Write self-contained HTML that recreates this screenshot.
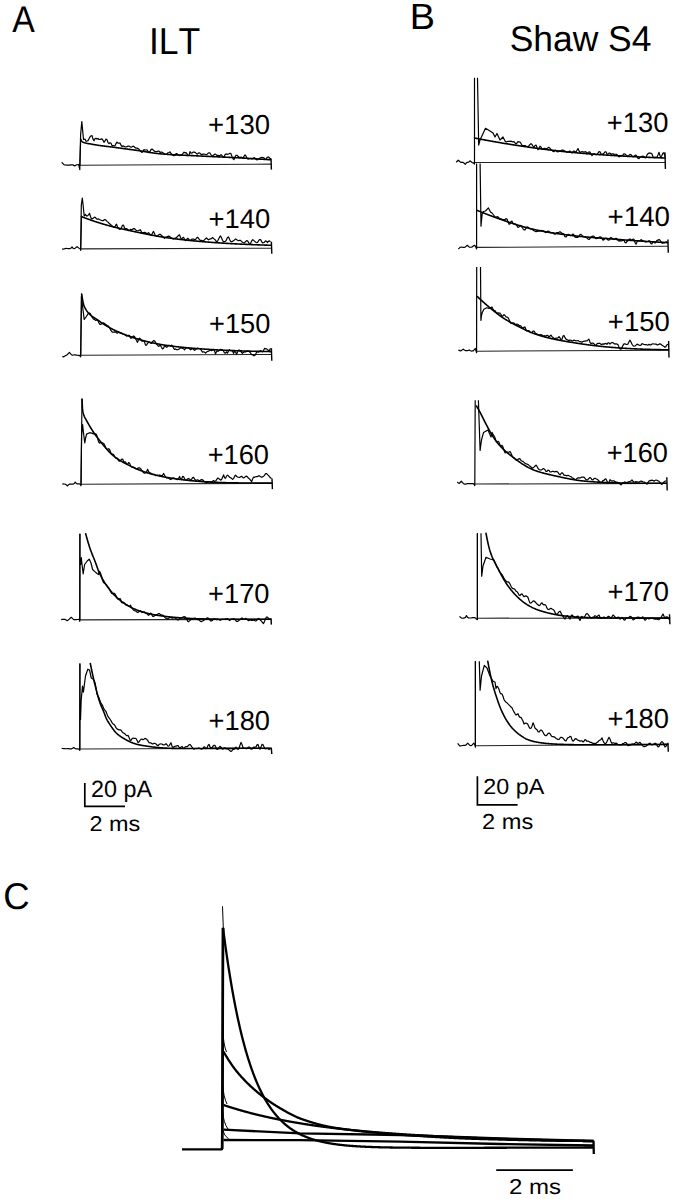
<!DOCTYPE html>
<html><head><meta charset="utf-8"><title>Figure</title>
<style>
html,body{margin:0;padding:0;background:#fff;}
body{width:677px;height:1199px;overflow:hidden;}
svg{display:block;}
.z{fill:none;stroke:#222;stroke-width:1.1;}
.f{fill:none;stroke:#000;stroke-width:1.6;stroke-linejoin:round;stroke-linecap:round;}
.n{fill:none;stroke:#000;stroke-width:1.2;stroke-linejoin:round;}
.t{fill:none;stroke:#000;stroke-width:1.15;}
.k{fill:none;stroke:#000;stroke-width:1.4;}
.cf{fill:none;stroke:#000;stroke-width:2.3;stroke-linejoin:round;}
.cv{fill:none;stroke:#000;stroke-width:2.6;}
.ct{fill:none;stroke:#000;stroke-width:1.0;}
.sb{fill:none;stroke:#000;stroke-width:1.7;}
.tx{font-family:"Liberation Sans",Arial,sans-serif;font-size:100px;fill:#000;font-kerning:none;text-rendering:geometricPrecision;}
</style></head>
<body><svg width="677" height="1199" viewBox="0 0 677 1199">
<path class="z" d="M79.80,165.20 L271.00,164.10"/>
<path class="t" d="M79.80,165.20 L80.70,139.30"/>
<path class="f" d="M80.70,139.30 L81.20,140.70 L81.70,141.34 L82.20,141.66 L82.70,141.94 L83.20,142.19 L83.70,142.42 L84.20,142.62 L84.70,142.79 L85.20,142.95 L85.70,143.09 L86.20,143.21 L86.70,143.32 L87.20,143.42 L87.70,143.51 L88.20,143.60 L88.70,143.68 L89.20,143.76 L89.70,143.83 L90.20,143.91 L90.70,144.00 L91.20,144.08 L91.70,144.18 L92.20,144.28 L92.70,144.38 L93.20,144.47 L93.70,144.57 L94.20,144.66 L94.70,144.74 L95.20,144.83 L95.70,144.91 L96.20,144.99 L96.70,145.07 L97.20,145.15 L97.70,145.23 L98.20,145.30 L98.70,145.37 L99.20,145.44 L99.70,145.51 L100.20,145.58 L100.70,145.65 L101.20,145.72 L101.70,145.78 L102.20,145.85 L102.70,145.91 L103.20,145.97 L103.70,146.03 L104.20,146.10 L104.70,146.16 L105.20,146.22 L105.70,146.28 L106.20,146.34 L106.70,146.40 L107.20,146.46 L107.70,146.52 L108.20,146.58 L108.70,146.64 L109.20,146.70 L109.70,146.76 L110.20,146.82 L110.70,146.88 L111.20,146.94 L111.70,147.00 L112.20,147.07 L112.70,147.13 L113.20,147.19 L113.70,147.26 L114.20,147.32 L114.70,147.39 L115.20,147.46 L115.70,147.53 L116.20,147.60 L116.70,147.66 L117.20,147.73 L117.70,147.80 L118.20,147.87 L118.70,147.94 L119.20,148.00 L119.70,148.07 L120.20,148.14 L120.70,148.21 L121.20,148.27 L121.70,148.34 L122.20,148.41 L122.70,148.47 L123.20,148.54 L123.70,148.61 L124.20,148.67 L124.70,148.74 L125.20,148.81 L125.70,148.87 L126.20,148.94 L126.70,149.00 L127.20,149.07 L127.70,149.14 L128.20,149.21 L128.70,149.27 L129.20,149.34 L129.70,149.41 L130.20,149.47 L130.70,149.54 L131.20,149.61 L131.70,149.68 L132.20,149.74 L132.70,149.81 L133.20,149.88 L133.70,149.95 L134.20,150.02 L134.70,150.09 L135.20,150.15 L135.70,150.22 L136.20,150.29 L136.70,150.36 L137.20,150.43 L137.70,150.50 L138.20,150.57 L138.70,150.64 L139.20,150.71 L139.70,150.79 L140.20,150.86 L140.70,150.94 L141.20,151.01 L141.70,151.09 L142.20,151.17 L142.70,151.26 L143.20,151.34 L143.70,151.42 L144.20,151.51 L144.70,151.59 L145.20,151.68 L145.70,151.76 L146.20,151.85 L146.70,151.93 L147.20,152.02 L147.70,152.10 L148.20,152.19 L148.70,152.27 L149.20,152.35 L149.70,152.44 L150.20,152.52 L150.70,152.60 L151.20,152.68 L151.70,152.76 L152.20,152.83 L152.70,152.91 L153.20,152.98 L153.70,153.06 L154.20,153.13 L154.70,153.20 L155.20,153.26 L155.70,153.33 L156.20,153.39 L156.70,153.45 L157.20,153.51 L157.70,153.57 L158.20,153.62 L158.70,153.68 L159.20,153.73 L159.70,153.77 L160.20,153.82 L160.70,153.86 L161.20,153.90 L161.70,153.95 L162.20,153.99 L162.70,154.03 L163.20,154.07 L163.70,154.10 L164.20,154.14 L164.70,154.18 L165.20,154.22 L165.70,154.25 L166.20,154.29 L166.70,154.32 L167.20,154.36 L167.70,154.39 L168.20,154.42 L168.70,154.45 L169.20,154.48 L169.70,154.52 L170.20,154.55 L170.70,154.58 L171.20,154.61 L171.70,154.64 L172.20,154.66 L172.70,154.69 L173.20,154.72 L173.70,154.75 L174.20,154.78 L174.70,154.80 L175.20,154.83 L175.70,154.85 L176.20,154.88 L176.70,154.91 L177.20,154.93 L177.70,154.96 L178.20,154.98 L178.70,155.01 L179.20,155.03 L179.70,155.05 L180.20,155.08 L180.70,155.10 L181.20,155.12 L181.70,155.15 L182.20,155.17 L182.70,155.19 L183.20,155.22 L183.70,155.24 L184.20,155.26 L184.70,155.29 L185.20,155.31 L185.70,155.33 L186.20,155.35 L186.70,155.38 L187.20,155.40 L187.70,155.42 L188.20,155.44 L188.70,155.47 L189.20,155.49 L189.70,155.51 L190.20,155.53 L190.70,155.56 L191.20,155.58 L191.70,155.60 L192.20,155.62 L192.70,155.65 L193.20,155.67 L193.70,155.69 L194.20,155.72 L194.70,155.74 L195.20,155.76 L195.70,155.79 L196.20,155.81 L196.70,155.84 L197.20,155.86 L197.70,155.88 L198.20,155.91 L198.70,155.93 L199.20,155.96 L199.70,155.98 L200.20,156.01 L200.70,156.04 L201.20,156.06 L201.70,156.09 L202.20,156.11 L202.70,156.14 L203.20,156.16 L203.70,156.18 L204.20,156.21 L204.70,156.23 L205.20,156.26 L205.70,156.28 L206.20,156.30 L206.70,156.33 L207.20,156.35 L207.70,156.37 L208.20,156.40 L208.70,156.42 L209.20,156.44 L209.70,156.47 L210.20,156.49 L210.70,156.51 L211.20,156.54 L211.70,156.56 L212.20,156.58 L212.70,156.60 L213.20,156.63 L213.70,156.65 L214.20,156.67 L214.70,156.69 L215.20,156.72 L215.70,156.74 L216.20,156.76 L216.70,156.78 L217.20,156.80 L217.70,156.83 L218.20,156.85 L218.70,156.87 L219.20,156.89 L219.70,156.92 L220.20,156.94 L220.70,156.96 L221.20,156.98 L221.70,157.01 L222.20,157.03 L222.70,157.05 L223.20,157.08 L223.70,157.10 L224.20,157.12 L224.70,157.14 L225.20,157.17 L225.70,157.19 L226.20,157.21 L226.70,157.24 L227.20,157.26 L227.70,157.28 L228.20,157.31 L228.70,157.33 L229.20,157.35 L229.70,157.38 L230.20,157.40 L230.70,157.43 L231.20,157.45 L231.70,157.48 L232.20,157.50 L232.70,157.52 L233.20,157.55 L233.70,157.57 L234.20,157.60 L234.70,157.62 L235.20,157.65 L235.70,157.68 L236.20,157.70 L236.70,157.73 L237.20,157.75 L237.70,157.78 L238.20,157.80 L238.70,157.83 L239.20,157.86 L239.70,157.88 L240.20,157.91 L240.70,157.94 L241.20,157.97 L241.70,157.99 L242.20,158.02 L242.70,158.05 L243.20,158.08 L243.70,158.11 L244.20,158.14 L244.70,158.16 L245.20,158.19 L245.70,158.22 L246.20,158.25 L246.70,158.28 L247.20,158.31 L247.70,158.34 L248.20,158.37 L248.70,158.41 L249.20,158.44 L249.70,158.47 L250.20,158.50 L250.70,158.53 L251.20,158.56 L251.70,158.59 L252.20,158.62 L252.70,158.65 L253.20,158.69 L253.70,158.72 L254.20,158.75 L254.70,158.78 L255.20,158.81 L255.70,158.85 L256.20,158.88 L256.70,158.91 L257.20,158.94 L257.70,158.97 L258.20,159.00 L258.70,159.04 L259.20,159.07 L259.70,159.10 L260.20,159.13 L260.70,159.16 L261.20,159.20 L261.70,159.23 L262.20,159.26 L262.70,159.29 L263.20,159.32 L263.70,159.35 L264.20,159.38 L264.70,159.42 L265.20,159.45 L265.70,159.48 L266.20,159.51 L266.70,159.54 L267.20,159.57 L267.70,159.60 L268.20,159.63 L268.70,159.66 L269.20,159.69 L269.70,159.72 L270.20,159.75 L270.70,159.78"/>
<path class="n" d="M61.70,162.28 L62.70,163.33 L63.70,164.42 L64.70,164.93 L65.70,164.98 L66.70,165.05 L67.70,165.15 L68.70,165.16 L69.70,165.05 L70.70,164.87 L71.70,164.75 L72.70,164.78 L73.70,165.36 L74.70,165.87 L75.70,165.27 L76.70,164.73 L77.70,164.67 L78.70,164.53 L79.80,169.70 L80.60,135.00 L81.80,121.50 L82.80,132.00 L83.50,139.50 L85.00,139.00 L86.00,141.29 L87.00,141.05 L88.00,140.65 L89.00,138.70 L90.00,136.86 L91.00,135.86 L92.00,135.57 L93.00,139.08 L94.00,140.80 L95.00,138.68 L96.00,138.30 L97.00,139.08 L98.00,138.41 L99.00,139.52 L100.00,139.39 L101.00,139.16 L102.00,138.92 L103.00,140.30 L104.00,142.32 L105.00,140.94 L106.00,139.08 L107.00,139.75 L108.00,142.57 L109.00,143.64 L110.00,142.67 L111.00,143.26 L112.00,145.56 L113.00,145.52 L114.00,145.73 L115.00,145.65 L116.00,143.60 L117.00,142.11 L118.00,143.10 L119.00,143.08 L120.00,142.98 L121.00,145.20 L122.00,146.52 L123.00,145.87 L124.00,146.26 L125.00,147.00 L126.00,146.96 L127.00,146.68 L128.00,146.15 L129.00,146.09 L130.00,146.68 L131.00,147.25 L132.00,146.89 L133.00,146.13 L134.00,146.54 L135.00,147.68 L136.00,148.09 L137.00,148.17 L138.00,148.58 L139.00,149.31 L140.00,150.57 L141.00,151.51 L142.00,152.48 L143.00,151.07 L144.00,149.57 L145.00,150.07 L146.00,150.00 L147.00,149.97 L148.00,151.25 L149.00,152.51 L150.00,151.46 L151.00,149.63 L152.00,148.99 L153.00,149.83 L154.00,150.85 L155.00,151.35 L156.00,151.71 L157.00,151.68 L158.00,151.10 L159.00,151.00 L160.00,152.44 L161.00,152.13 L162.00,152.14 L163.00,152.86 L164.00,153.61 L165.00,154.16 L166.00,154.30 L167.00,153.98 L168.00,152.71 L169.00,152.47 L170.00,151.88 L171.00,153.47 L172.00,154.59 L173.00,155.34 L174.00,155.76 L175.00,155.32 L176.00,153.64 L177.00,153.70 L178.00,154.61 L179.00,155.17 L180.00,155.57 L181.00,155.02 L182.00,154.96 L183.00,153.30 L184.00,152.19 L185.00,152.84 L186.00,152.56 L187.00,153.81 L188.00,155.79 L189.00,155.31 L190.00,151.56 L191.00,153.15 L192.00,153.09 L193.00,152.14 L194.00,152.07 L195.00,152.32 L196.00,153.12 L197.00,154.11 L198.00,153.52 L199.00,152.74 L200.00,153.29 L201.00,154.46 L202.00,154.39 L203.00,154.21 L204.00,154.16 L205.00,154.27 L206.00,154.80 L207.00,154.44 L208.00,153.28 L209.00,152.74 L210.00,153.11 L211.00,154.76 L212.00,156.12 L213.00,155.54 L214.00,154.80 L215.00,153.99 L216.00,154.60 L217.00,155.45 L218.00,155.32 L219.00,155.64 L220.00,155.65 L221.00,154.59 L222.00,155.49 L223.00,157.00 L224.00,156.68 L225.00,154.81 L226.00,153.92 L227.00,154.31 L228.00,154.18 L229.00,153.70 L230.00,153.17 L231.00,153.76 L232.00,156.47 L233.00,158.77 L234.00,159.57 L235.00,157.20 L236.00,155.30 L237.00,155.27 L238.00,156.21 L239.00,157.01 L240.00,157.56 L241.00,157.13 L242.00,157.53 L243.00,157.96 L244.00,156.30 L245.00,154.95 L246.00,156.00 L247.00,158.46 L248.00,159.10 L249.00,158.77 L250.00,158.47 L251.00,158.56 L252.00,158.85 L253.00,158.34 L254.00,157.67 L255.00,157.99 L256.00,159.31 L257.00,159.95 L258.00,159.11 L259.00,158.78 L260.00,158.00 L261.00,157.55 L262.00,157.41 L263.00,157.60 L264.00,157.92 L265.00,159.39 L266.00,159.14 L267.00,157.58 L268.00,156.93 L269.00,157.33 L270.00,158.50 L271.00,158.53"/>
<path class="k" d="M271.00,158.53 L271.40,169.60"/>
<path class="z" d="M80.70,248.84 L271.40,248.20"/>
<path class="t" d="M80.70,248.84 L81.50,216.60"/>
<path class="f" d="M81.50,216.60 L82.00,216.80 L82.50,216.99 L83.00,217.19 L83.50,217.38 L84.00,217.58 L84.50,217.77 L85.00,217.96 L85.50,218.15 L86.00,218.34 L86.50,218.52 L87.00,218.71 L87.50,218.89 L88.00,219.07 L88.50,219.25 L89.00,219.43 L89.50,219.61 L90.00,219.79 L90.50,219.97 L91.00,220.14 L91.50,220.32 L92.00,220.49 L92.50,220.66 L93.00,220.83 L93.50,221.00 L94.00,221.17 L94.50,221.34 L95.00,221.50 L95.50,221.67 L96.00,221.83 L96.50,221.99 L97.00,222.15 L97.50,222.31 L98.00,222.47 L98.50,222.63 L99.00,222.79 L99.50,222.95 L100.00,223.10 L100.50,223.25 L101.00,223.41 L101.50,223.56 L102.00,223.71 L102.50,223.86 L103.00,224.01 L103.50,224.16 L104.00,224.30 L104.50,224.45 L105.00,224.60 L105.50,224.74 L106.00,224.88 L106.50,225.02 L107.00,225.17 L107.50,225.31 L108.00,225.44 L108.50,225.58 L109.00,225.72 L109.50,225.86 L110.00,225.99 L110.50,226.12 L111.00,226.25 L111.50,226.38 L112.00,226.51 L112.50,226.64 L113.00,226.77 L113.50,226.90 L114.00,227.02 L114.50,227.15 L115.00,227.27 L115.50,227.39 L116.00,227.51 L116.50,227.63 L117.00,227.75 L117.50,227.87 L118.00,227.99 L118.50,228.11 L119.00,228.23 L119.50,228.34 L120.00,228.46 L120.50,228.57 L121.00,228.69 L121.50,228.80 L122.00,228.92 L122.50,229.03 L123.00,229.14 L123.50,229.25 L124.00,229.37 L124.50,229.48 L125.00,229.59 L125.50,229.70 L126.00,229.81 L126.50,229.92 L127.00,230.03 L127.50,230.13 L128.00,230.24 L128.50,230.35 L129.00,230.46 L129.50,230.57 L130.00,230.68 L130.50,230.78 L131.00,230.89 L131.50,231.00 L132.00,231.10 L132.50,231.21 L133.00,231.32 L133.50,231.42 L134.00,231.53 L134.50,231.64 L135.00,231.74 L135.50,231.85 L136.00,231.95 L136.50,232.06 L137.00,232.17 L137.50,232.27 L138.00,232.38 L138.50,232.48 L139.00,232.59 L139.50,232.69 L140.00,232.80 L140.50,232.90 L141.00,233.01 L141.50,233.11 L142.00,233.21 L142.50,233.32 L143.00,233.42 L143.50,233.52 L144.00,233.62 L144.50,233.72 L145.00,233.83 L145.50,233.93 L146.00,234.03 L146.50,234.13 L147.00,234.23 L147.50,234.33 L148.00,234.42 L148.50,234.52 L149.00,234.62 L149.50,234.72 L150.00,234.81 L150.50,234.91 L151.00,235.00 L151.50,235.10 L152.00,235.19 L152.50,235.28 L153.00,235.38 L153.50,235.47 L154.00,235.56 L154.50,235.65 L155.00,235.74 L155.50,235.83 L156.00,235.92 L156.50,236.01 L157.00,236.10 L157.50,236.18 L158.00,236.27 L158.50,236.36 L159.00,236.44 L159.50,236.53 L160.00,236.61 L160.50,236.69 L161.00,236.77 L161.50,236.86 L162.00,236.94 L162.50,237.02 L163.00,237.10 L163.50,237.18 L164.00,237.25 L164.50,237.33 L165.00,237.41 L165.50,237.48 L166.00,237.56 L166.50,237.63 L167.00,237.71 L167.50,237.78 L168.00,237.85 L168.50,237.92 L169.00,237.99 L169.50,238.06 L170.00,238.13 L170.50,238.20 L171.00,238.27 L171.50,238.33 L172.00,238.40 L172.50,238.47 L173.00,238.53 L173.50,238.60 L174.00,238.66 L174.50,238.72 L175.00,238.79 L175.50,238.85 L176.00,238.91 L176.50,238.97 L177.00,239.03 L177.50,239.10 L178.00,239.16 L178.50,239.22 L179.00,239.28 L179.50,239.33 L180.00,239.39 L180.50,239.45 L181.00,239.51 L181.50,239.57 L182.00,239.62 L182.50,239.68 L183.00,239.74 L183.50,239.79 L184.00,239.85 L184.50,239.90 L185.00,239.96 L185.50,240.01 L186.00,240.07 L186.50,240.12 L187.00,240.17 L187.50,240.23 L188.00,240.28 L188.50,240.33 L189.00,240.38 L189.50,240.43 L190.00,240.48 L190.50,240.53 L191.00,240.58 L191.50,240.63 L192.00,240.68 L192.50,240.73 L193.00,240.78 L193.50,240.83 L194.00,240.88 L194.50,240.93 L195.00,240.97 L195.50,241.02 L196.00,241.07 L196.50,241.11 L197.00,241.16 L197.50,241.20 L198.00,241.25 L198.50,241.30 L199.00,241.34 L199.50,241.38 L200.00,241.43 L200.50,241.47 L201.00,241.52 L201.50,241.56 L202.00,241.60 L202.50,241.64 L203.00,241.69 L203.50,241.73 L204.00,241.77 L204.50,241.81 L205.00,241.85 L205.50,241.89 L206.00,241.93 L206.50,241.97 L207.00,242.01 L207.50,242.05 L208.00,242.09 L208.50,242.13 L209.00,242.17 L209.50,242.21 L210.00,242.24 L210.50,242.28 L211.00,242.32 L211.50,242.36 L212.00,242.39 L212.50,242.43 L213.00,242.47 L213.50,242.50 L214.00,242.54 L214.50,242.58 L215.00,242.61 L215.50,242.65 L216.00,242.68 L216.50,242.72 L217.00,242.75 L217.50,242.78 L218.00,242.82 L218.50,242.85 L219.00,242.88 L219.50,242.92 L220.00,242.95 L220.50,242.98 L221.00,243.02 L221.50,243.05 L222.00,243.08 L222.50,243.11 L223.00,243.14 L223.50,243.17 L224.00,243.21 L224.50,243.24 L225.00,243.27 L225.50,243.30 L226.00,243.33 L226.50,243.36 L227.00,243.39 L227.50,243.42 L228.00,243.45 L228.50,243.47 L229.00,243.50 L229.50,243.53 L230.00,243.56 L230.50,243.59 L231.00,243.62 L231.50,243.64 L232.00,243.67 L232.50,243.70 L233.00,243.73 L233.50,243.75 L234.00,243.78 L234.50,243.81 L235.00,243.83 L235.50,243.86 L236.00,243.89 L236.50,243.91 L237.00,243.94 L237.50,243.96 L238.00,243.99 L238.50,244.01 L239.00,244.04 L239.50,244.06 L240.00,244.09 L240.50,244.11 L241.00,244.14 L241.50,244.16 L242.00,244.18 L242.50,244.21 L243.00,244.23 L243.50,244.25 L244.00,244.28 L244.50,244.30 L245.00,244.32 L245.50,244.34 L246.00,244.37 L246.50,244.39 L247.00,244.41 L247.50,244.43 L248.00,244.46 L248.50,244.48 L249.00,244.50 L249.50,244.52 L250.00,244.54 L250.50,244.56 L251.00,244.58 L251.50,244.60 L252.00,244.62 L252.50,244.64 L253.00,244.66 L253.50,244.68 L254.00,244.70 L254.50,244.72 L255.00,244.74 L255.50,244.76 L256.00,244.78 L256.50,244.80 L257.00,244.82 L257.50,244.84 L258.00,244.86 L258.50,244.88 L259.00,244.90 L259.50,244.91 L260.00,244.93 L260.50,244.95 L261.00,244.97 L261.50,244.99 L262.00,245.00 L262.50,245.02 L263.00,245.04 L263.50,245.06 L264.00,245.07 L264.50,245.09 L265.00,245.11 L265.50,245.12 L266.00,245.14 L266.50,245.16 L267.00,245.17 L267.50,245.19 L268.00,245.21 L268.50,245.22 L269.00,245.24 L269.50,245.25 L270.00,245.27 L270.50,245.28 L271.00,245.30"/>
<path class="n" d="M62.10,248.88 L63.10,249.06 L64.10,248.98 L65.10,248.63 L66.10,248.44 L67.10,248.49 L68.10,248.64 L69.10,248.67 L70.10,248.54 L71.10,247.97 L72.10,246.99 L73.10,248.29 L74.10,248.71 L75.10,248.20 L76.10,247.34 L77.10,246.67 L78.10,247.54 L79.10,248.21 L80.10,248.48 L80.70,250.34 L81.30,205.00 L82.30,198.00 L83.20,206.00 L84.20,216.00 L85.50,214.50 L86.50,215.95 L87.50,215.92 L88.50,214.94 L89.50,213.24 L90.50,216.46 L91.50,219.03 L92.50,218.68 L93.50,217.92 L94.50,217.09 L95.50,217.52 L96.50,218.87 L97.50,219.13 L98.50,218.95 L99.50,219.57 L100.50,220.06 L101.50,220.48 L102.50,220.60 L103.50,220.53 L104.50,219.55 L105.50,219.72 L106.50,220.80 L107.50,221.86 L108.50,222.59 L109.50,223.74 L110.50,224.37 L111.50,225.37 L112.50,226.23 L113.50,227.19 L114.50,227.42 L115.50,225.69 L116.50,224.15 L117.50,226.79 L118.50,228.48 L119.50,229.33 L120.50,229.22 L121.50,227.63 L122.50,225.26 L123.50,225.16 L124.50,228.01 L125.50,229.03 L126.50,228.58 L127.50,229.17 L128.50,230.34 L129.50,230.37 L130.50,229.34 L131.50,229.70 L132.50,229.53 L133.50,228.49 L134.50,228.59 L135.50,229.78 L136.50,230.60 L137.50,230.74 L138.50,230.54 L139.50,230.12 L140.50,229.79 L141.50,232.24 L142.50,233.16 L143.50,232.66 L144.50,232.24 L145.50,232.47 L146.50,233.50 L147.50,233.43 L148.50,232.61 L149.50,233.64 L150.50,235.04 L151.50,235.18 L152.50,233.01 L153.50,231.40 L154.50,233.59 L155.50,235.87 L156.50,236.08 L157.50,235.73 L158.50,235.07 L159.50,234.34 L160.50,234.45 L161.50,235.53 L162.50,236.25 L163.50,237.53 L164.50,238.28 L165.50,237.23 L166.50,237.00 L167.50,236.45 L168.50,236.13 L169.50,236.41 L170.50,237.17 L171.50,237.97 L172.50,238.68 L173.50,239.02 L174.50,238.44 L175.50,238.19 L176.50,237.46 L177.50,236.50 L178.50,235.43 L179.50,234.77 L180.50,237.53 L181.50,239.07 L182.50,237.99 L183.50,237.28 L184.50,239.12 L185.50,240.64 L186.50,239.61 L187.50,238.27 L188.50,238.86 L189.50,240.08 L190.50,240.42 L191.50,239.41 L192.50,239.11 L193.50,239.00 L194.50,239.56 L195.50,239.68 L196.50,237.94 L197.50,237.27 L198.50,238.27 L199.50,239.60 L200.50,240.48 L201.50,240.30 L202.50,240.76 L203.50,240.53 L204.50,239.94 L205.50,238.69 L206.50,237.96 L207.50,238.97 L208.50,239.81 L209.50,239.17 L210.50,238.89 L211.50,238.66 L212.50,237.51 L213.50,238.40 L214.50,239.33 L215.50,240.15 L216.50,241.75 L217.50,241.32 L218.50,239.27 L219.50,237.16 L220.50,236.01 L221.50,237.66 L222.50,240.32 L223.50,241.55 L224.50,241.60 L225.50,241.27 L226.50,239.81 L227.50,237.49 L228.50,236.89 L229.50,239.30 L230.50,241.25 L231.50,241.58 L232.50,241.43 L233.50,240.64 L234.50,239.92 L235.50,239.00 L236.50,239.61 L237.50,240.20 L238.50,240.65 L239.50,240.46 L240.50,240.39 L241.50,241.33 L242.50,242.25 L243.50,242.75 L244.50,242.79 L245.50,241.58 L246.50,240.72 L247.50,240.78 L248.50,242.36 L249.50,244.25 L250.50,243.62 L251.50,241.32 L252.50,239.73 L253.50,240.12 L254.50,241.15 L255.50,241.99 L256.50,242.76 L257.50,242.53 L258.50,240.90 L259.50,239.50 L260.50,239.58 L261.50,241.40 L262.50,242.88 L263.50,242.77 L264.50,242.18 L265.50,240.90 L266.50,241.21 L267.50,242.63 L268.50,241.21 L269.50,240.93 L270.50,241.69"/>
<path class="k" d="M271.40,241.69 L271.80,253.80"/>
<path class="z" d="M80.70,355.32 L271.40,354.50"/>
<path class="t" d="M80.70,355.32 L81.60,294.00"/>
<path class="f" d="M81.60,294.00 L82.10,296.93 L82.60,299.77 L83.10,302.35 L83.60,304.51 L84.10,306.13 L84.60,307.21 L85.10,308.16 L85.60,309.04 L86.10,309.86 L86.60,310.62 L87.10,311.32 L87.60,311.98 L88.10,312.59 L88.60,313.16 L89.10,313.69 L89.60,314.19 L90.10,314.65 L90.60,315.10 L91.10,315.51 L91.60,315.91 L92.10,316.28 L92.60,316.65 L93.10,316.99 L93.60,317.33 L94.10,317.66 L94.60,317.98 L95.10,318.30 L95.60,318.62 L96.10,318.94 L96.60,319.26 L97.10,319.58 L97.60,319.91 L98.10,320.25 L98.60,320.59 L99.10,320.95 L99.60,321.32 L100.10,321.68 L100.60,322.04 L101.10,322.39 L101.60,322.74 L102.10,323.08 L102.60,323.42 L103.10,323.75 L103.60,324.08 L104.10,324.40 L104.60,324.72 L105.10,325.03 L105.60,325.34 L106.10,325.64 L106.60,325.94 L107.10,326.23 L107.60,326.52 L108.10,326.81 L108.60,327.09 L109.10,327.37 L109.60,327.65 L110.10,327.92 L110.60,328.19 L111.10,328.45 L111.60,328.71 L112.10,328.97 L112.60,329.22 L113.10,329.48 L113.60,329.72 L114.10,329.97 L114.60,330.21 L115.10,330.45 L115.60,330.69 L116.10,330.92 L116.60,331.15 L117.10,331.38 L117.60,331.60 L118.10,331.82 L118.60,332.04 L119.10,332.26 L119.60,332.48 L120.10,332.69 L120.60,332.90 L121.10,333.11 L121.60,333.31 L122.10,333.52 L122.60,333.72 L123.10,333.92 L123.60,334.12 L124.10,334.31 L124.60,334.51 L125.10,334.70 L125.60,334.89 L126.10,335.07 L126.60,335.26 L127.10,335.45 L127.60,335.63 L128.10,335.81 L128.60,335.99 L129.10,336.17 L129.60,336.35 L130.10,336.52 L130.60,336.70 L131.10,336.87 L131.60,337.04 L132.10,337.21 L132.60,337.38 L133.10,337.55 L133.60,337.71 L134.10,337.87 L134.60,338.04 L135.10,338.20 L135.60,338.36 L136.10,338.51 L136.60,338.67 L137.10,338.82 L137.60,338.98 L138.10,339.13 L138.60,339.28 L139.10,339.43 L139.60,339.57 L140.10,339.72 L140.60,339.86 L141.10,340.00 L141.60,340.14 L142.10,340.28 L142.60,340.42 L143.10,340.56 L143.60,340.69 L144.10,340.82 L144.60,340.96 L145.10,341.09 L145.60,341.21 L146.10,341.34 L146.60,341.47 L147.10,341.59 L147.60,341.72 L148.10,341.84 L148.60,341.96 L149.10,342.08 L149.60,342.19 L150.10,342.31 L150.60,342.42 L151.10,342.54 L151.60,342.65 L152.10,342.76 L152.60,342.87 L153.10,342.97 L153.60,343.08 L154.10,343.19 L154.60,343.29 L155.10,343.39 L155.60,343.49 L156.10,343.59 L156.60,343.69 L157.10,343.79 L157.60,343.88 L158.10,343.98 L158.60,344.07 L159.10,344.16 L159.60,344.26 L160.10,344.35 L160.60,344.43 L161.10,344.52 L161.60,344.61 L162.10,344.69 L162.60,344.78 L163.10,344.86 L163.60,344.94 L164.10,345.02 L164.60,345.10 L165.10,345.18 L165.60,345.25 L166.10,345.33 L166.60,345.40 L167.10,345.48 L167.60,345.55 L168.10,345.62 L168.60,345.69 L169.10,345.76 L169.60,345.83 L170.10,345.90 L170.60,345.96 L171.10,346.03 L171.60,346.09 L172.10,346.15 L172.60,346.22 L173.10,346.28 L173.60,346.34 L174.10,346.40 L174.60,346.45 L175.10,346.51 L175.60,346.57 L176.10,346.62 L176.60,346.68 L177.10,346.73 L177.60,346.79 L178.10,346.84 L178.60,346.90 L179.10,346.95 L179.60,347.00 L180.10,347.05 L180.60,347.11 L181.10,347.16 L181.60,347.21 L182.10,347.26 L182.60,347.31 L183.10,347.36 L183.60,347.41 L184.10,347.46 L184.60,347.51 L185.10,347.55 L185.60,347.60 L186.10,347.65 L186.60,347.70 L187.10,347.74 L187.60,347.79 L188.10,347.83 L188.60,347.88 L189.10,347.92 L189.60,347.97 L190.10,348.01 L190.60,348.06 L191.10,348.10 L191.60,348.14 L192.10,348.18 L192.60,348.23 L193.10,348.27 L193.60,348.31 L194.10,348.35 L194.60,348.39 L195.10,348.43 L195.60,348.47 L196.10,348.51 L196.60,348.55 L197.10,348.59 L197.60,348.63 L198.10,348.67 L198.60,348.70 L199.10,348.74 L199.60,348.78 L200.10,348.82 L200.60,348.85 L201.10,348.89 L201.60,348.92 L202.10,348.96 L202.60,348.99 L203.10,349.03 L203.60,349.06 L204.10,349.10 L204.60,349.13 L205.10,349.17 L205.60,349.20 L206.10,349.23 L206.60,349.26 L207.10,349.30 L207.60,349.33 L208.10,349.36 L208.60,349.39 L209.10,349.42 L209.60,349.45 L210.10,349.49 L210.60,349.52 L211.10,349.55 L211.60,349.58 L212.10,349.60 L212.60,349.63 L213.10,349.66 L213.60,349.69 L214.10,349.72 L214.60,349.75 L215.10,349.78 L215.60,349.80 L216.10,349.83 L216.60,349.86 L217.10,349.89 L217.60,349.91 L218.10,349.94 L218.60,349.96 L219.10,349.99 L219.60,350.02 L220.10,350.04 L220.60,350.07 L221.10,350.09 L221.60,350.12 L222.10,350.14 L222.60,350.16 L223.10,350.19 L223.60,350.21 L224.10,350.23 L224.60,350.26 L225.10,350.28 L225.60,350.30 L226.10,350.33 L226.60,350.35 L227.10,350.37 L227.60,350.39 L228.10,350.41 L228.60,350.43 L229.10,350.46 L229.60,350.48 L230.10,350.50 L230.60,350.52 L231.10,350.54 L231.60,350.56 L232.10,350.58 L232.60,350.60 L233.10,350.62 L233.60,350.64 L234.10,350.66 L234.60,350.67 L235.10,350.69 L235.60,350.71 L236.10,350.73 L236.60,350.75 L237.10,350.77 L237.60,350.78 L238.10,350.80 L238.60,350.82 L239.10,350.84 L239.60,350.85 L240.10,350.87 L240.60,350.89 L241.10,350.90 L241.60,350.92 L242.10,350.94 L242.60,350.95 L243.10,350.97 L243.60,350.98 L244.10,351.00 L244.60,351.01 L245.10,351.03 L245.60,351.04 L246.10,351.06 L246.60,351.07 L247.10,351.09 L247.60,351.10 L248.10,351.11 L248.60,351.13 L249.10,351.14 L249.60,351.16 L250.10,351.17 L250.60,351.18 L251.10,351.20 L251.60,351.21 L252.10,351.22 L252.60,351.23 L253.10,351.25 L253.60,351.26 L254.10,351.27 L254.60,351.28 L255.10,351.29 L255.60,351.31 L256.10,351.32 L256.60,351.33 L257.10,351.34 L257.60,351.35 L258.10,351.36 L258.60,351.37 L259.10,351.38 L259.60,351.40 L260.10,351.41 L260.60,351.42 L261.10,351.43 L261.60,351.44 L262.10,351.45 L262.60,351.46 L263.10,351.47 L263.60,351.47 L264.10,351.48 L264.60,351.49 L265.10,351.50 L265.60,351.51 L266.10,351.52 L266.60,351.53 L267.10,351.54 L267.60,351.55 L268.10,351.55 L268.60,351.56 L269.10,351.57 L269.60,351.58 L270.10,351.59 L270.60,351.59 L271.10,351.60"/>
<path class="n" d="M62.40,356.17 L63.40,356.90 L64.40,356.29 L65.40,355.64 L66.40,355.23 L67.40,354.57 L68.40,353.42 L69.40,352.42 L70.40,353.57 L71.40,354.71 L72.40,355.12 L73.40,354.99 L74.40,354.87 L75.40,354.91 L76.40,355.05 L77.40,355.24 L78.40,355.31 L79.40,355.29 L80.70,356.82 L81.40,296.00 L82.50,306.00 L83.50,314.00 L84.20,319.40 L86.00,317.00 L88.20,313.70 L89.50,313.00 L90.50,313.87 L91.50,316.13 L92.50,317.66 L93.50,319.26 L94.50,319.42 L95.50,320.37 L96.50,319.94 L97.50,320.18 L98.50,321.99 L99.50,324.10 L100.50,324.33 L101.50,323.88 L102.50,323.21 L103.50,322.82 L104.50,323.42 L105.50,324.27 L106.50,324.96 L107.50,325.88 L108.50,326.01 L109.50,327.70 L110.50,329.82 L111.50,331.26 L112.50,332.26 L113.50,332.13 L114.50,331.95 L115.50,332.05 L116.50,332.88 L117.50,333.13 L118.50,332.05 L119.50,332.45 L120.50,333.30 L121.50,333.18 L122.50,333.82 L123.50,334.46 L124.50,334.38 L125.50,335.30 L126.50,336.13 L127.50,335.79 L128.50,335.22 L129.50,335.58 L130.50,338.14 L131.50,338.16 L132.50,337.33 L133.50,335.92 L134.50,336.50 L135.50,338.68 L136.50,340.56 L137.50,342.34 L138.50,339.74 L139.50,338.19 L140.50,339.01 L141.50,340.89 L142.50,341.27 L143.50,340.68 L144.50,341.84 L145.50,345.19 L146.50,345.25 L147.50,343.37 L148.50,342.47 L149.50,342.21 L150.50,343.19 L151.50,343.30 L152.50,341.92 L153.50,340.61 L154.50,340.87 L155.50,342.17 L156.50,344.04 L157.50,345.13 L158.50,346.30 L159.50,345.90 L160.50,345.49 L161.50,347.32 L162.50,348.92 L163.50,348.31 L164.50,345.89 L165.50,346.37 L166.50,347.34 L167.50,346.64 L168.50,345.32 L169.50,345.26 L170.50,346.01 L171.50,345.09 L172.50,345.88 L173.50,348.13 L174.50,349.34 L175.50,348.97 L176.50,349.64 L177.50,349.76 L178.50,349.36 L179.50,348.72 L180.50,347.94 L181.50,347.94 L182.50,348.52 L183.50,348.72 L184.50,349.93 L185.50,348.34 L186.50,347.82 L187.50,347.93 L188.50,347.99 L189.50,348.70 L190.50,349.79 L191.50,349.18 L192.50,348.43 L193.50,349.22 L194.50,350.31 L195.50,349.71 L196.50,348.88 L197.50,348.16 L198.50,348.43 L199.50,348.56 L200.50,349.03 L201.50,350.69 L202.50,352.12 L203.50,351.80 L204.50,352.12 L205.50,353.20 L206.50,352.11 L207.50,351.47 L208.50,351.23 L209.50,350.46 L210.50,349.93 L211.50,350.64 L212.50,350.03 L213.50,349.30 L214.50,350.81 L215.50,353.96 L216.50,351.47 L217.50,351.14 L218.50,351.07 L219.50,350.06 L220.50,349.46 L221.50,349.63 L222.50,349.92 L223.50,350.94 L224.50,353.00 L225.50,353.03 L226.50,352.01 L227.50,353.22 L228.50,350.84 L229.50,349.58 L230.50,350.59 L231.50,350.69 L232.50,350.84 L233.50,353.38 L234.50,351.54 L235.50,351.85 L236.50,354.22 L237.50,352.35 L238.50,350.04 L239.50,350.13 L240.50,351.07 L241.50,352.24 L242.50,353.37 L243.50,352.43 L244.50,351.69 L245.50,352.04 L246.50,351.39 L247.50,350.98 L248.50,351.21 L249.50,351.77 L250.50,352.87 L251.50,354.55 L252.50,354.75 L253.50,355.57 L254.50,355.63 L255.50,354.74 L256.50,352.16 L257.50,351.46 L258.50,352.14 L259.50,351.37 L260.50,350.64 L261.50,351.11 L262.50,351.85 L263.50,350.61 L264.50,348.39 L265.50,348.80 L266.50,348.73 L267.50,349.69 L268.50,350.44 L269.50,350.40 L270.50,348.17"/>
<path class="k" d="M271.40,348.17 L271.80,360.70"/>
<path class="z" d="M81.00,484.30 L272.00,483.30"/>
<path class="t" d="M81.00,484.30 L82.00,399.00"/>
<path class="f" d="M82.00,399.00 L82.50,409.50 L83.00,412.40 L83.50,414.27 L84.00,415.66 L84.50,416.80 L85.00,417.81 L85.50,418.69 L86.00,419.58 L86.50,420.50 L87.00,421.41 L87.50,422.30 L88.00,423.19 L88.50,424.07 L89.00,424.94 L89.50,425.79 L90.00,426.64 L90.50,427.47 L91.00,428.29 L91.50,429.10 L92.00,429.89 L92.50,430.68 L93.00,431.44 L93.50,432.20 L94.00,432.94 L94.50,433.67 L95.00,434.38 L95.50,435.08 L96.00,435.77 L96.50,436.45 L97.00,437.12 L97.50,437.79 L98.00,438.44 L98.50,439.09 L99.00,439.73 L99.50,440.36 L100.00,440.99 L100.50,441.61 L101.00,442.23 L101.50,442.84 L102.00,443.46 L102.50,444.07 L103.00,444.67 L103.50,445.28 L104.00,445.89 L104.50,446.49 L105.00,447.09 L105.50,447.69 L106.00,448.27 L106.50,448.85 L107.00,449.43 L107.50,449.99 L108.00,450.54 L108.50,451.09 L109.00,451.62 L109.50,452.14 L110.00,452.65 L110.50,453.15 L111.00,453.63 L111.50,454.10 L112.00,454.56 L112.50,455.00 L113.00,455.43 L113.50,455.85 L114.00,456.25 L114.50,456.65 L115.00,457.03 L115.50,457.41 L116.00,457.78 L116.50,458.14 L117.00,458.49 L117.50,458.83 L118.00,459.17 L118.50,459.50 L119.00,459.82 L119.50,460.14 L120.00,460.46 L120.50,460.76 L121.00,461.06 L121.50,461.36 L122.00,461.66 L122.50,461.94 L123.00,462.23 L123.50,462.51 L124.00,462.79 L124.50,463.06 L125.00,463.33 L125.50,463.60 L126.00,463.86 L126.50,464.13 L127.00,464.39 L127.50,464.64 L128.00,464.90 L128.50,465.15 L129.00,465.40 L129.50,465.65 L130.00,465.90 L130.50,466.15 L131.00,466.39 L131.50,466.63 L132.00,466.87 L132.50,467.10 L133.00,467.33 L133.50,467.56 L134.00,467.78 L134.50,468.01 L135.00,468.23 L135.50,468.44 L136.00,468.66 L136.50,468.87 L137.00,469.08 L137.50,469.28 L138.00,469.49 L138.50,469.69 L139.00,469.88 L139.50,470.08 L140.00,470.27 L140.50,470.46 L141.00,470.65 L141.50,470.84 L142.00,471.02 L142.50,471.20 L143.00,471.38 L143.50,471.55 L144.00,471.72 L144.50,471.89 L145.00,472.06 L145.50,472.23 L146.00,472.39 L146.50,472.55 L147.00,472.71 L147.50,472.87 L148.00,473.02 L148.50,473.17 L149.00,473.32 L149.50,473.47 L150.00,473.62 L150.50,473.76 L151.00,473.90 L151.50,474.04 L152.00,474.18 L152.50,474.31 L153.00,474.45 L153.50,474.58 L154.00,474.71 L154.50,474.83 L155.00,474.96 L155.50,475.08 L156.00,475.20 L156.50,475.32 L157.00,475.44 L157.50,475.55 L158.00,475.67 L158.50,475.78 L159.00,475.89 L159.50,476.00 L160.00,476.10 L160.50,476.21 L161.00,476.31 L161.50,476.42 L162.00,476.52 L162.50,476.62 L163.00,476.71 L163.50,476.81 L164.00,476.91 L164.50,477.00 L165.00,477.09 L165.50,477.18 L166.00,477.27 L166.50,477.36 L167.00,477.45 L167.50,477.54 L168.00,477.63 L168.50,477.71 L169.00,477.79 L169.50,477.88 L170.00,477.96 L170.50,478.04 L171.00,478.12 L171.50,478.20 L172.00,478.28 L172.50,478.36 L173.00,478.43 L173.50,478.51 L174.00,478.58 L174.50,478.66 L175.00,478.73 L175.50,478.80 L176.00,478.88 L176.50,478.95 L177.00,479.02 L177.50,479.09 L178.00,479.16 L178.50,479.23 L179.00,479.29 L179.50,479.36 L180.00,479.43 L180.50,479.49 L181.00,479.56 L181.50,479.62 L182.00,479.68 L182.50,479.74 L183.00,479.81 L183.50,479.87 L184.00,479.93 L184.50,479.98 L185.00,480.04 L185.50,480.10 L186.00,480.16 L186.50,480.21 L187.00,480.27 L187.50,480.32 L188.00,480.37 L188.50,480.42 L189.00,480.48 L189.50,480.53 L190.00,480.58 L190.50,480.63 L191.00,480.67 L191.50,480.72 L192.00,480.77 L192.50,480.82 L193.00,480.86 L193.50,480.91 L194.00,480.95 L194.50,480.99 L195.00,481.04 L195.50,481.08 L196.00,481.12 L196.50,481.16 L197.00,481.20 L197.50,481.24 L198.00,481.28 L198.50,481.32 L199.00,481.36 L199.50,481.40 L200.00,481.43 L200.50,481.47 L201.00,481.51 L201.50,481.54 L202.00,481.58 L202.50,481.61 L203.00,481.64 L203.50,481.68 L204.00,481.71 L204.50,481.74 L205.00,481.77 L205.50,481.80 L206.00,481.83 L206.50,481.86 L207.00,481.89 L207.50,481.92 L208.00,481.95 L208.50,481.98 L209.00,482.00 L209.50,482.03 L210.00,482.06 L210.50,482.08 L211.00,482.11 L211.50,482.13 L212.00,482.16 L212.50,482.18 L213.00,482.21 L213.50,482.23 L214.00,482.25 L214.50,482.28 L215.00,482.30 L215.50,482.32 L216.00,482.34 L216.50,482.36 L217.00,482.38 L217.50,482.40 L218.00,482.42 L218.50,482.44 L219.00,482.46 L219.50,482.48 L220.00,482.50 L220.50,482.52 L221.00,482.53 L221.50,482.55 L222.00,482.57 L222.50,482.58 L223.00,482.60 L223.50,482.61 L224.00,482.63 L224.50,482.64 L225.00,482.65 L225.50,482.67 L226.00,482.68 L226.50,482.69 L227.00,482.70 L227.50,482.72 L228.00,482.73 L228.50,482.74 L229.00,482.75 L229.50,482.76 L230.00,482.77 L230.50,482.78 L231.00,482.79 L231.50,482.80 L232.00,482.81 L232.50,482.82 L233.00,482.83 L233.50,482.84 L234.00,482.85 L234.50,482.86 L235.00,482.87 L235.50,482.88 L236.00,482.88 L236.50,482.89 L237.00,482.90 L237.50,482.91 L238.00,482.91 L238.50,482.92 L239.00,482.93 L239.50,482.94 L240.00,482.94 L240.50,482.95 L241.00,482.95 L241.50,482.96 L242.00,482.97 L242.50,482.97 L243.00,482.98 L243.50,482.98 L244.00,482.99 L244.50,483.00 L245.00,483.00 L245.50,483.01 L246.00,483.01 L246.50,483.02 L247.00,483.02 L247.50,483.02 L248.00,483.03 L248.50,483.03 L249.00,483.04 L249.50,483.04 L250.00,483.05 L250.50,483.05 L251.00,483.05 L251.50,483.06 L252.00,483.06 L252.50,483.06 L253.00,483.07 L253.50,483.07 L254.00,483.07 L254.50,483.08 L255.00,483.08 L255.50,483.08 L256.00,483.08 L256.50,483.09 L257.00,483.09 L257.50,483.09 L258.00,483.09 L258.50,483.10 L259.00,483.10 L259.50,483.10 L260.00,483.10 L260.50,483.10 L261.00,483.11 L261.50,483.11 L262.00,483.11 L262.50,483.11 L263.00,483.11 L263.50,483.11 L264.00,483.12 L264.50,483.12 L265.00,483.12 L265.50,483.12 L266.00,483.12 L266.50,483.12 L267.00,483.12 L267.50,483.12 L268.00,483.12 L268.50,483.13 L269.00,483.13 L269.50,483.13 L270.00,483.13 L270.50,483.13 L271.00,483.13 L271.50,483.13 L272.00,483.13"/>
<path class="n" d="M62.30,484.22 L63.30,483.92 L64.30,484.02 L65.30,484.26 L66.30,484.86 L67.30,485.97 L68.30,484.89 L69.30,484.21 L70.30,484.08 L71.30,484.13 L72.30,484.12 L73.30,484.03 L74.30,483.45 L75.30,482.03 L76.30,483.53 L77.30,483.96 L78.30,483.80 L79.30,483.88 L80.30,484.21 L81.00,485.80 L81.60,435.00 L82.60,424.50 L83.40,432.00 L84.80,443.00 L85.60,438.00 L86.60,434.10 L89.60,432.70 L92.60,433.40 L93.60,433.84 L94.60,434.10 L95.60,433.83 L96.60,434.61 L97.60,438.24 L98.60,441.91 L99.60,443.12 L100.60,442.48 L101.60,442.41 L102.60,443.08 L103.60,443.24 L104.60,445.00 L105.60,447.52 L106.60,448.98 L107.60,449.21 L108.60,448.68 L109.60,449.57 L110.60,452.28 L111.60,454.11 L112.60,454.14 L113.60,454.53 L114.60,456.47 L115.60,458.00 L116.60,457.99 L117.60,458.63 L118.60,460.67 L119.60,461.21 L120.60,460.34 L121.60,459.24 L122.60,459.00 L123.60,461.20 L124.60,461.89 L125.60,462.13 L126.60,463.86 L127.60,464.44 L128.60,462.53 L129.60,463.29 L130.60,465.88 L131.60,466.97 L132.60,467.16 L133.60,467.29 L134.60,467.68 L135.60,468.50 L136.60,468.85 L137.60,468.36 L138.60,467.85 L139.60,467.94 L140.60,468.66 L141.60,470.25 L142.60,471.49 L143.60,472.61 L144.60,473.16 L145.60,472.84 L146.60,471.77 L147.60,469.34 L148.60,471.83 L149.60,472.53 L150.60,472.98 L151.60,473.68 L152.60,474.29 L153.60,474.24 L154.60,474.44 L155.60,475.61 L156.60,475.44 L157.60,475.01 L158.60,475.34 L159.60,474.98 L160.60,475.29 L161.60,476.26 L162.60,475.22 L163.60,473.43 L164.60,475.22 L165.60,477.39 L166.60,477.93 L167.60,477.81 L168.60,477.99 L169.60,478.88 L170.60,479.56 L171.60,478.94 L172.60,478.03 L173.60,477.95 L174.60,478.43 L175.60,478.79 L176.60,479.33 L177.60,479.70 L178.60,478.54 L179.60,476.45 L180.60,479.11 L181.60,479.04 L182.60,476.43 L183.60,476.66 L184.60,478.83 L185.60,480.19 L186.60,479.96 L187.60,478.83 L188.60,478.46 L189.60,479.14 L190.60,480.21 L191.60,479.39 L192.60,477.56 L193.60,477.37 L194.60,479.11 L195.60,480.47 L196.60,480.12 L197.60,479.73 L198.60,480.34 L199.60,480.84 L200.60,480.08 L201.60,479.62 L202.60,479.81 L203.60,480.70 L204.60,481.83 L205.60,482.39 L206.60,482.57 L207.60,481.91 L208.60,481.57 L209.60,481.95 L210.60,481.93 L211.60,482.11 L212.60,481.25 L213.60,480.57 L214.60,481.35 L215.60,481.04 L216.60,479.73 L217.60,478.12 L218.60,478.36 L219.60,479.21 L220.60,480.13 L221.60,479.50 L222.60,477.23 L223.60,474.86 L224.60,477.74 L225.60,478.31 L226.60,475.89 L227.60,475.12 L228.60,476.16 L229.60,477.27 L230.60,477.83 L231.60,478.38 L232.60,479.38 L233.60,478.61 L234.60,476.23 L235.60,475.11 L236.60,476.39 L237.60,477.08 L238.60,477.27 L239.60,477.52 L240.60,476.77 L241.60,476.26 L242.60,477.43 L243.60,477.93 L244.60,477.32 L245.60,476.35 L246.60,476.21 L247.60,477.07 L248.60,478.28 L249.60,478.95 L250.60,480.27 L251.60,481.74 L252.60,479.06 L253.60,477.01 L254.60,477.34 L255.60,476.76 L256.60,476.50 L257.60,476.59 L258.60,475.79 L259.60,475.92 L260.60,476.71 L261.60,477.20 L262.60,476.93 L263.60,476.14 L264.60,475.29 L265.60,473.66 L266.60,473.56 L267.60,474.65 L268.60,475.68 L269.60,476.87 L270.60,478.01 L271.60,478.42"/>
<path class="k" d="M272.00,478.42 L272.40,489.10"/>
<path class="z" d="M79.80,619.85 L271.00,619.30"/>
<path class="t" d="M79.80,619.85 L79.80,533.70"/>
<path class="f" d="M85.70,533.70 L86.20,535.61 L86.70,537.46 L87.20,539.26 L87.70,541.01 L88.20,542.70 L88.70,544.35 L89.20,545.95 L89.70,547.50 L90.20,548.99 L90.70,550.40 L91.20,551.76 L91.70,553.07 L92.20,554.34 L92.70,555.59 L93.20,556.82 L93.70,558.06 L94.20,559.29 L94.70,560.54 L95.20,561.81 L95.70,563.10 L96.20,564.46 L96.70,565.88 L97.20,567.32 L97.70,568.74 L98.20,570.12 L98.70,571.41 L99.20,572.60 L99.70,573.70 L100.20,574.75 L100.70,575.75 L101.20,576.71 L101.70,577.63 L102.20,578.53 L102.70,579.39 L103.20,580.22 L103.70,581.03 L104.20,581.82 L104.70,582.59 L105.20,583.35 L105.70,584.09 L106.20,584.82 L106.70,585.54 L107.20,586.26 L107.70,586.96 L108.20,587.66 L108.70,588.33 L109.20,589.00 L109.70,589.64 L110.20,590.28 L110.70,590.90 L111.20,591.51 L111.70,592.10 L112.20,592.69 L112.70,593.25 L113.20,593.81 L113.70,594.35 L114.20,594.89 L114.70,595.40 L115.20,595.91 L115.70,596.41 L116.20,596.89 L116.70,597.37 L117.20,597.83 L117.70,598.28 L118.20,598.72 L118.70,599.15 L119.20,599.57 L119.70,599.99 L120.20,600.39 L120.70,600.79 L121.20,601.17 L121.70,601.55 L122.20,601.92 L122.70,602.29 L123.20,602.64 L123.70,602.99 L124.20,603.33 L124.70,603.67 L125.20,604.00 L125.70,604.32 L126.20,604.63 L126.70,604.94 L127.20,605.25 L127.70,605.55 L128.20,605.84 L128.70,606.12 L129.20,606.40 L129.70,606.67 L130.20,606.94 L130.70,607.20 L131.20,607.46 L131.70,607.71 L132.20,607.95 L132.70,608.19 L133.20,608.43 L133.70,608.65 L134.20,608.88 L134.70,609.10 L135.20,609.31 L135.70,609.52 L136.20,609.73 L136.70,609.93 L137.20,610.13 L137.70,610.32 L138.20,610.51 L138.70,610.69 L139.20,610.87 L139.70,611.05 L140.20,611.22 L140.70,611.39 L141.20,611.56 L141.70,611.72 L142.20,611.88 L142.70,612.03 L143.20,612.18 L143.70,612.33 L144.20,612.48 L144.70,612.62 L145.20,612.75 L145.70,612.89 L146.20,613.02 L146.70,613.15 L147.20,613.27 L147.70,613.39 L148.20,613.51 L148.70,613.63 L149.20,613.74 L149.70,613.85 L150.20,613.96 L150.70,614.07 L151.20,614.17 L151.70,614.27 L152.20,614.37 L152.70,614.47 L153.20,614.56 L153.70,614.66 L154.20,614.75 L154.70,614.84 L155.20,614.93 L155.70,615.01 L156.20,615.10 L156.70,615.18 L157.20,615.26 L157.70,615.34 L158.20,615.42 L158.70,615.49 L159.20,615.57 L159.70,615.64 L160.20,615.71 L160.70,615.79 L161.20,615.86 L161.70,615.92 L162.20,615.99 L162.70,616.06 L163.20,616.12 L163.70,616.19 L164.20,616.25 L164.70,616.31 L165.20,616.37 L165.70,616.43 L166.20,616.49 L166.70,616.55 L167.20,616.61 L167.70,616.67 L168.20,616.72 L168.70,616.78 L169.20,616.83 L169.70,616.88 L170.20,616.94 L170.70,616.99 L171.20,617.04 L171.70,617.09 L172.20,617.14 L172.70,617.19 L173.20,617.23 L173.70,617.28 L174.20,617.33 L174.70,617.37 L175.20,617.42 L175.70,617.46 L176.20,617.51 L176.70,617.55 L177.20,617.59 L177.70,617.63 L178.20,617.67 L178.70,617.71 L179.20,617.75 L179.70,617.79 L180.20,617.82 L180.70,617.86 L181.20,617.90 L181.70,617.93 L182.20,617.97 L182.70,618.00 L183.20,618.03 L183.70,618.06 L184.20,618.10 L184.70,618.13 L185.20,618.16 L185.70,618.19 L186.20,618.22 L186.70,618.24 L187.20,618.27 L187.70,618.30 L188.20,618.33 L188.70,618.35 L189.20,618.38 L189.70,618.40 L190.20,618.43 L190.70,618.45 L191.20,618.48 L191.70,618.50 L192.20,618.52 L192.70,618.54 L193.20,618.56 L193.70,618.59 L194.20,618.61 L194.70,618.63 L195.20,618.65 L195.70,618.66 L196.20,618.68 L196.70,618.70 L197.20,618.72 L197.70,618.74 L198.20,618.75 L198.70,618.77 L199.20,618.79 L199.70,618.80 L200.20,618.82 L200.70,618.83 L201.20,618.85 L201.70,618.86 L202.20,618.88 L202.70,618.89 L203.20,618.90 L203.70,618.92 L204.20,618.93 L204.70,618.94 L205.20,618.96 L205.70,618.97 L206.20,618.98 L206.70,618.99 L207.20,619.00 L207.70,619.01 L208.20,619.02 L208.70,619.03 L209.20,619.04 L209.70,619.05 L210.20,619.06 L210.70,619.07 L211.20,619.08 L211.70,619.09 L212.20,619.10 L212.70,619.10 L213.20,619.11 L213.70,619.12 L214.20,619.13 L214.70,619.13 L215.20,619.14 L215.70,619.15 L216.20,619.16 L216.70,619.16 L217.20,619.17 L217.70,619.17 L218.20,619.18 L218.70,619.19 L219.20,619.19 L219.70,619.20 L220.20,619.20 L220.70,619.21 L221.20,619.21 L221.70,619.21 L222.20,619.22 L222.70,619.22 L223.20,619.23 L223.70,619.23 L224.20,619.23 L224.70,619.24 L225.20,619.24 L225.70,619.24 L226.20,619.25 L226.70,619.25 L227.20,619.25 L227.70,619.25 L228.20,619.26 L228.70,619.26 L229.20,619.26 L229.70,619.26 L230.20,619.27 L230.70,619.27 L231.20,619.27 L231.70,619.27 L232.20,619.27 L232.70,619.28 L233.20,619.28 L233.70,619.28 L234.20,619.28 L234.70,619.28 L235.20,619.28 L235.70,619.29 L236.20,619.29 L236.70,619.29 L237.20,619.29 L237.70,619.29 L238.20,619.29 L238.70,619.29 L239.20,619.29 L239.70,619.29 L240.20,619.30 L240.70,619.30 L241.20,619.30 L241.70,619.30 L242.20,619.30 L242.70,619.30 L243.20,619.30 L243.70,619.30 L244.20,619.30 L244.70,619.30 L245.20,619.30 L245.70,619.30 L246.20,619.30 L246.70,619.30 L247.20,619.30 L247.70,619.30 L248.20,619.30 L248.70,619.30 L249.20,619.30 L249.70,619.30 L250.20,619.30 L250.70,619.30 L251.20,619.30 L251.70,619.30 L252.20,619.30 L252.70,619.30 L253.20,619.30 L253.70,619.30 L254.20,619.30 L254.70,619.30 L255.20,619.30 L255.70,619.30 L256.20,619.30 L256.70,619.30 L257.20,619.30 L257.70,619.30 L258.20,619.30 L258.70,619.30 L259.20,619.30 L259.70,619.30 L260.20,619.30 L260.70,619.30 L261.20,619.29 L261.70,619.29 L262.20,619.29 L262.70,619.29 L263.20,619.29 L263.70,619.29 L264.20,619.29 L264.70,619.29 L265.20,619.29 L265.70,619.29 L266.20,619.29 L266.70,619.29 L267.20,619.29 L267.70,619.29 L268.20,619.28 L268.70,619.28 L269.20,619.28 L269.70,619.28 L270.20,619.28 L270.70,619.28"/>
<path class="n" d="M61.20,619.61 L62.20,619.45 L63.20,619.28 L64.20,619.27 L65.20,619.46 L66.20,619.97 L67.20,620.64 L68.20,620.00 L69.20,619.13 L70.20,618.19 L71.20,617.27 L72.20,618.17 L73.20,619.17 L74.20,619.79 L75.20,619.69 L76.20,619.57 L77.20,619.51 L78.20,619.43 L79.20,619.29 L79.80,621.35 L80.00,533.70 M80.60,565.00 L81.30,557.50 L82.20,566.00 L83.20,573.80 L84.60,564.50 L87.20,561.00 L89.20,559.10 L91.00,563.00 L92.60,569.50 L94.50,571.40 L97.00,573.50 L98.50,574.50 L99.50,571.26 L100.50,573.07 L101.50,576.19 L102.50,580.01 L103.50,582.57 L104.50,583.30 L105.50,584.08 L106.50,585.45 L107.50,586.56 L108.50,587.60 L109.50,589.26 L110.50,591.45 L111.50,593.32 L112.50,593.84 L113.50,593.28 L114.50,593.25 L115.50,594.75 L116.50,597.08 L117.50,598.96 L118.50,599.11 L119.50,598.70 L120.50,598.78 L121.50,602.54 L122.50,602.82 L123.50,602.18 L124.50,603.16 L125.50,604.64 L126.50,605.21 L127.50,605.17 L128.50,606.19 L129.50,606.38 L130.50,605.22 L131.50,607.38 L132.50,608.95 L133.50,610.09 L134.50,610.76 L135.50,610.92 L136.50,611.57 L137.50,612.51 L138.50,612.17 L139.50,611.07 L140.50,610.71 L141.50,611.87 L142.50,612.45 L143.50,611.92 L144.50,611.82 L145.50,612.80 L146.50,613.57 L147.50,614.30 L148.50,615.32 L149.50,614.54 L150.50,613.02 L151.50,614.00 L152.50,616.22 L153.50,616.44 L154.50,615.70 L155.50,614.96 L156.50,614.78 L157.50,614.41 L158.50,613.60 L159.50,613.58 L160.50,614.56 L161.50,615.08 L162.50,615.10 L163.50,615.60 L164.50,616.77 L165.50,618.04 L166.50,618.13 L167.50,618.95 L168.50,618.42 L169.50,617.61 L170.50,617.46 L171.50,617.88 L172.50,618.17 L173.50,617.82 L174.50,617.70 L175.50,618.14 L176.50,618.90 L177.50,619.96 L178.50,619.95 L179.50,618.55 L180.50,618.10 L181.50,617.85 L182.50,617.24 L183.50,616.80 L184.50,616.68 L185.50,617.10 L186.50,618.57 L187.50,620.95 L188.50,621.73 L189.50,620.91 L190.50,619.93 L191.50,618.73 L192.50,619.01 L193.50,618.65 L194.50,618.24 L195.50,618.26 L196.50,619.08 L197.50,619.67 L198.50,619.52 L199.50,620.31 L200.50,621.37 L201.50,621.54 L202.50,621.04 L203.50,620.40 L204.50,619.76 L205.50,619.21 L206.50,618.36 L207.50,617.76 L208.50,618.20 L209.50,619.51 L210.50,620.92 L211.50,620.96 L212.50,620.30 L213.50,619.18 L214.50,618.89 L215.50,619.30 L216.50,619.67 L217.50,619.56 L218.50,619.12 L219.50,619.94 L220.50,620.29 L221.50,619.45 L222.50,619.04 L223.50,619.51 L224.50,619.31 L225.50,618.91 L226.50,619.16 L227.50,618.67 L228.50,619.34 L229.50,620.49 L230.50,619.70 L231.50,618.98 L232.50,619.24 L233.50,618.59 L234.50,619.06 L235.50,620.14 L236.50,621.40 L237.50,621.52 L238.50,620.74 L239.50,619.91 L240.50,619.18 L241.50,618.10 L242.50,618.22 L243.50,619.50 L244.50,619.50 L245.50,618.31 L246.50,618.63 L247.50,619.91 L248.50,620.67 L249.50,620.18 L250.50,619.93 L251.50,620.41 L252.50,620.34 L253.50,619.90 L254.50,620.41 L255.50,621.05 L256.50,620.71 L257.50,619.40 L258.50,618.42 L259.50,619.09 L260.50,620.28 L261.50,621.15 L262.50,622.55 L263.50,623.54 L264.50,621.41 L265.50,618.56 L266.50,617.09 L267.50,617.15 L268.50,618.45 L269.50,619.25 L270.50,618.35"/>
<path class="k" d="M271.00,618.35 L271.40,624.60"/>
<path class="z" d="M79.80,748.93 L271.40,748.20"/>
<path class="t" d="M79.80,748.93 L79.80,663.50"/>
<path class="f" d="M90.30,663.50 L90.80,665.97 L91.30,668.39 L91.80,670.77 L92.30,673.11 L92.80,675.39 L93.30,677.63 L93.80,679.82 L94.30,681.96 L94.80,684.04 L95.30,686.08 L95.80,688.07 L96.30,690.00 L96.80,691.92 L97.30,693.82 L97.80,695.69 L98.30,697.49 L98.80,699.20 L99.30,700.80 L99.80,702.26 L100.30,703.62 L100.80,704.89 L101.30,706.10 L101.80,707.27 L102.30,708.42 L102.80,709.58 L103.30,710.75 L103.80,711.95 L104.30,713.22 L104.80,714.57 L105.30,715.91 L105.80,717.20 L106.30,718.37 L106.80,719.40 L107.30,720.35 L107.80,721.22 L108.30,722.04 L108.80,722.83 L109.30,723.60 L109.80,724.35 L110.30,725.10 L110.80,725.85 L111.30,726.60 L111.80,727.35 L112.30,728.07 L112.80,728.78 L113.30,729.47 L113.80,730.13 L114.30,730.77 L114.80,731.37 L115.30,731.95 L115.80,732.49 L116.30,733.00 L116.80,733.48 L117.30,733.94 L117.80,734.37 L118.30,734.78 L118.80,735.18 L119.30,735.56 L119.80,735.92 L120.30,736.27 L120.80,736.61 L121.30,736.95 L121.80,737.27 L122.30,737.58 L122.80,737.89 L123.30,738.20 L123.80,738.50 L124.30,738.79 L124.80,739.08 L125.30,739.37 L125.80,739.66 L126.30,739.94 L126.80,740.21 L127.30,740.48 L127.80,740.74 L128.30,741.00 L128.80,741.25 L129.30,741.49 L129.80,741.72 L130.30,741.95 L130.80,742.17 L131.30,742.39 L131.80,742.59 L132.30,742.79 L132.80,742.98 L133.30,743.17 L133.80,743.35 L134.30,743.52 L134.80,743.68 L135.30,743.84 L135.80,743.99 L136.30,744.14 L136.80,744.27 L137.30,744.40 L137.80,744.53 L138.30,744.65 L138.80,744.76 L139.30,744.87 L139.80,744.97 L140.30,745.07 L140.80,745.16 L141.30,745.25 L141.80,745.34 L142.30,745.43 L142.80,745.51 L143.30,745.60 L143.80,745.68 L144.30,745.75 L144.80,745.83 L145.30,745.91 L145.80,745.98 L146.30,746.06 L146.80,746.13 L147.30,746.21 L147.80,746.28 L148.30,746.35 L148.80,746.43 L149.30,746.50 L149.80,746.57 L150.30,746.64 L150.80,746.71 L151.30,746.78 L151.80,746.85 L152.30,746.92 L152.80,746.98 L153.30,747.04 L153.80,747.10 L154.30,747.16 L154.80,747.22 L155.30,747.28 L155.80,747.33 L156.30,747.39 L156.80,747.44 L157.30,747.49 L157.80,747.53 L158.30,747.58 L158.80,747.63 L159.30,747.67 L159.80,747.71 L160.30,747.75 L160.80,747.79 L161.30,747.83 L161.80,747.87 L162.30,747.90 L162.80,747.93 L163.30,747.97 L163.80,748.00 L164.30,748.02 L164.80,748.05 L165.30,748.08 L165.80,748.11 L166.30,748.13 L166.80,748.15 L167.30,748.18 L167.80,748.20 L168.30,748.22 L168.80,748.24 L169.30,748.25 L169.80,748.27 L170.30,748.29 L170.80,748.30 L171.30,748.32 L171.80,748.33 L172.30,748.34 L172.80,748.35 L173.30,748.37 L173.80,748.38 L174.30,748.39 L174.80,748.40 L175.30,748.40 L175.80,748.41 L176.30,748.42 L176.80,748.42 L177.30,748.43 L177.80,748.43 L178.30,748.43 L178.80,748.44 L179.30,748.44 L179.80,748.45 L180.30,748.45 L180.80,748.45 L181.30,748.45 L181.80,748.46 L182.30,748.46 L182.80,748.46 L183.30,748.46 L183.80,748.46 L184.30,748.47 L184.80,748.47 L185.30,748.47 L185.80,748.47 L186.30,748.47 L186.80,748.47 L187.30,748.47 L187.80,748.47 L188.30,748.47 L188.80,748.47 L189.30,748.47 L189.80,748.47 L190.30,748.47 L190.80,748.47 L191.30,748.47 L191.80,748.47 L192.30,748.47 L192.80,748.47 L193.30,748.47 L193.80,748.47 L194.30,748.47 L194.80,748.47 L195.30,748.47 L195.80,748.47 L196.30,748.47 L196.80,748.47 L197.30,748.46 L197.80,748.46 L198.30,748.46 L198.80,748.46 L199.30,748.46 L199.80,748.46 L200.30,748.46 L200.80,748.46 L201.30,748.46 L201.80,748.45 L202.30,748.45 L202.80,748.45 L203.30,748.45 L203.80,748.45 L204.30,748.45 L204.80,748.45 L205.30,748.44 L205.80,748.44 L206.30,748.44 L206.80,748.44 L207.30,748.44 L207.80,748.44 L208.30,748.43 L208.80,748.43 L209.30,748.43 L209.80,748.43 L210.30,748.43 L210.80,748.43 L211.30,748.42 L211.80,748.42 L212.30,748.42 L212.80,748.42 L213.30,748.42 L213.80,748.42 L214.30,748.41 L214.80,748.41 L215.30,748.41 L215.80,748.41 L216.30,748.41 L216.80,748.41 L217.30,748.40 L217.80,748.40 L218.30,748.40 L218.80,748.40 L219.30,748.40 L219.80,748.39 L220.30,748.39 L220.80,748.39 L221.30,748.39 L221.80,748.39 L222.30,748.39 L222.80,748.38 L223.30,748.38 L223.80,748.38 L224.30,748.38 L224.80,748.38 L225.30,748.37 L225.80,748.37 L226.30,748.37 L226.80,748.37 L227.30,748.37 L227.80,748.37 L228.30,748.36 L228.80,748.36 L229.30,748.36 L229.80,748.36 L230.30,748.36 L230.80,748.35 L231.30,748.35 L231.80,748.35 L232.30,748.35 L232.80,748.35 L233.30,748.34 L233.80,748.34 L234.30,748.34 L234.80,748.34 L235.30,748.34 L235.80,748.34 L236.30,748.33 L236.80,748.33 L237.30,748.33 L237.80,748.33 L238.30,748.33 L238.80,748.32 L239.30,748.32 L239.80,748.32 L240.30,748.32 L240.80,748.32 L241.30,748.31 L241.80,748.31 L242.30,748.31 L242.80,748.31 L243.30,748.31 L243.80,748.31 L244.30,748.30 L244.80,748.30 L245.30,748.30 L245.80,748.30 L246.30,748.30 L246.80,748.29 L247.30,748.29 L247.80,748.29 L248.30,748.29 L248.80,748.29 L249.30,748.28 L249.80,748.28 L250.30,748.28 L250.80,748.28 L251.30,748.28 L251.80,748.27 L252.30,748.27 L252.80,748.27 L253.30,748.27 L253.80,748.27 L254.30,748.27 L254.80,748.26 L255.30,748.26 L255.80,748.26 L256.30,748.26 L256.80,748.26 L257.30,748.25 L257.80,748.25 L258.30,748.25 L258.80,748.25 L259.30,748.25 L259.80,748.24 L260.30,748.24 L260.80,748.24 L261.30,748.24 L261.80,748.24 L262.30,748.23 L262.80,748.23 L263.30,748.23 L263.80,748.23 L264.30,748.23 L264.80,748.23 L265.30,748.22 L265.80,748.22 L266.30,748.22 L266.80,748.22 L267.30,748.22 L267.80,748.21 L268.30,748.21 L268.80,748.21 L269.30,748.21 L269.80,748.21 L270.30,748.20 L270.80,748.20 L271.30,748.20"/>
<path class="n" d="M61.70,748.39 L62.70,748.50 L63.70,748.63 L64.70,748.69 L65.70,748.74 L66.70,748.71 L67.70,748.64 L68.70,748.69 L69.70,748.80 L70.70,748.90 L71.70,748.84 L72.70,748.23 L73.70,747.32 L74.70,748.26 L75.70,748.80 L76.70,748.88 L77.70,748.92 L78.70,748.98 L79.80,750.43 L80.00,663.50 M80.50,720.00 L81.20,700.00 L82.50,686.00 L83.40,692.20 L85.50,676.00 L87.80,669.20 L89.50,670.00 L91.30,678.00 L93.00,679.00 L94.00,680.53 L95.00,682.66 L96.00,687.68 L97.00,694.06 L98.00,696.10 L99.00,697.87 L100.00,700.86 L101.00,703.00 L102.00,704.51 L103.00,706.60 L104.00,709.13 L105.00,710.39 L106.00,711.52 L107.00,714.31 L108.00,716.45 L109.00,717.87 L110.00,719.23 L111.00,720.70 L112.00,722.60 L113.00,723.96 L114.00,724.42 L115.00,725.69 L116.00,727.62 L117.00,728.87 L118.00,729.41 L119.00,729.84 L120.00,729.92 L121.00,730.17 L122.00,731.61 L123.00,732.79 L124.00,733.27 L125.00,733.98 L126.00,735.20 L127.00,735.73 L128.00,735.38 L129.00,737.28 L130.00,740.05 L131.00,740.31 L132.00,738.73 L133.00,738.02 L134.00,738.43 L135.00,738.24 L136.00,738.48 L137.00,740.25 L138.00,742.62 L139.00,741.90 L140.00,740.38 L141.00,739.42 L142.00,739.02 L143.00,739.64 L144.00,739.26 L145.00,738.36 L146.00,738.76 L147.00,739.59 L148.00,740.86 L149.00,742.73 L150.00,742.95 L151.00,742.84 L152.00,743.79 L153.00,743.94 L154.00,743.30 L155.00,743.43 L156.00,743.95 L157.00,745.13 L158.00,745.74 L159.00,744.56 L160.00,743.94 L161.00,744.01 L162.00,744.00 L163.00,744.85 L164.00,744.97 L165.00,744.42 L166.00,743.66 L167.00,744.76 L168.00,746.22 L169.00,746.00 L170.00,744.37 L171.00,742.69 L172.00,746.11 L173.00,747.52 L174.00,746.87 L175.00,746.19 L176.00,746.26 L177.00,745.68 L178.00,745.50 L179.00,747.06 L180.00,748.19 L181.00,747.12 L182.00,746.43 L183.00,748.03 L184.00,748.14 L185.00,747.27 L186.00,746.48 L187.00,746.71 L188.00,746.10 L189.00,744.87 L190.00,744.46 L191.00,745.61 L192.00,747.06 L193.00,748.20 L194.00,749.22 L195.00,748.50 L196.00,748.26 L197.00,748.70 L198.00,748.17 L199.00,747.96 L200.00,748.43 L201.00,748.95 L202.00,749.09 L203.00,748.23 L204.00,746.81 L205.00,747.36 L206.00,748.64 L207.00,747.69 L208.00,745.44 L209.00,744.33 L210.00,746.98 L211.00,747.98 L212.00,747.68 L213.00,746.19 L214.00,745.29 L215.00,745.42 L216.00,747.46 L217.00,749.44 L218.00,749.01 L219.00,747.31 L220.00,746.31 L221.00,747.20 L222.00,748.70 L223.00,749.21 L224.00,748.12 L225.00,747.75 L226.00,748.80 L227.00,748.93 L228.00,748.90 L229.00,749.87 L230.00,750.77 L231.00,751.41 L232.00,750.76 L233.00,749.31 L234.00,749.31 L235.00,748.28 L236.00,747.03 L237.00,748.17 L238.00,749.47 L239.00,748.54 L240.00,745.17 L241.00,742.41 L242.00,744.60 L243.00,747.50 L244.00,748.40 L245.00,748.08 L246.00,748.60 L247.00,748.58 L248.00,747.31 L249.00,746.95 L250.00,747.57 L251.00,749.14 L252.00,749.04 L253.00,747.81 L254.00,747.05 L255.00,747.04 L256.00,746.93 L257.00,744.88 L258.00,744.45 L259.00,747.38 L260.00,749.31 L261.00,746.89 L262.00,744.41 L263.00,744.67 L264.00,746.83 L265.00,748.70 L266.00,748.94 L267.00,748.11 L268.00,748.77 L269.00,749.60 L270.00,748.74 L271.00,748.75"/>
<path class="k" d="M271.40,748.75 L271.80,754.00"/>
<path class="z" d="M474.50,162.50 L665.00,162.50"/>
<path class="f" d="M474.50,138.00 L475.00,138.10 L475.50,138.20 L476.00,138.29 L476.50,138.39 L477.00,138.49 L477.50,138.58 L478.00,138.68 L478.50,138.78 L479.00,138.87 L479.50,138.97 L480.00,139.06 L480.50,139.16 L481.00,139.25 L481.50,139.35 L482.00,139.44 L482.50,139.54 L483.00,139.63 L483.50,139.72 L484.00,139.82 L484.50,139.91 L485.00,140.00 L485.50,140.09 L486.00,140.19 L486.50,140.28 L487.00,140.37 L487.50,140.46 L488.00,140.55 L488.50,140.64 L489.00,140.74 L489.50,140.83 L490.00,140.92 L490.50,141.01 L491.00,141.10 L491.50,141.19 L492.00,141.27 L492.50,141.36 L493.00,141.45 L493.50,141.54 L494.00,141.63 L494.50,141.72 L495.00,141.80 L495.50,141.89 L496.00,141.98 L496.50,142.07 L497.00,142.15 L497.50,142.24 L498.00,142.33 L498.50,142.41 L499.00,142.50 L499.50,142.58 L500.00,142.67 L500.50,142.75 L501.00,142.84 L501.50,142.92 L502.00,143.01 L502.50,143.09 L503.00,143.17 L503.50,143.26 L504.00,143.34 L504.50,143.42 L505.00,143.51 L505.50,143.59 L506.00,143.67 L506.50,143.75 L507.00,143.83 L507.50,143.91 L508.00,144.00 L508.50,144.08 L509.00,144.16 L509.50,144.24 L510.00,144.32 L510.50,144.40 L511.00,144.48 L511.50,144.56 L512.00,144.64 L512.50,144.71 L513.00,144.79 L513.50,144.87 L514.00,144.95 L514.50,145.03 L515.00,145.10 L515.50,145.18 L516.00,145.26 L516.50,145.34 L517.00,145.41 L517.50,145.49 L518.00,145.56 L518.50,145.64 L519.00,145.72 L519.50,145.79 L520.00,145.87 L520.50,145.94 L521.00,146.01 L521.50,146.09 L522.00,146.16 L522.50,146.24 L523.00,146.31 L523.50,146.39 L524.00,146.46 L524.50,146.53 L525.00,146.61 L525.50,146.68 L526.00,146.75 L526.50,146.83 L527.00,146.90 L527.50,146.97 L528.00,147.05 L528.50,147.12 L529.00,147.19 L529.50,147.26 L530.00,147.34 L530.50,147.41 L531.00,147.48 L531.50,147.55 L532.00,147.62 L532.50,147.69 L533.00,147.76 L533.50,147.84 L534.00,147.91 L534.50,147.98 L535.00,148.05 L535.50,148.12 L536.00,148.19 L536.50,148.25 L537.00,148.32 L537.50,148.39 L538.00,148.46 L538.50,148.53 L539.00,148.60 L539.50,148.67 L540.00,148.73 L540.50,148.80 L541.00,148.87 L541.50,148.93 L542.00,149.00 L542.50,149.07 L543.00,149.13 L543.50,149.20 L544.00,149.26 L544.50,149.33 L545.00,149.39 L545.50,149.46 L546.00,149.52 L546.50,149.58 L547.00,149.65 L547.50,149.71 L548.00,149.77 L548.50,149.84 L549.00,149.90 L549.50,149.96 L550.00,150.02 L550.50,150.08 L551.00,150.14 L551.50,150.20 L552.00,150.26 L552.50,150.32 L553.00,150.38 L553.50,150.44 L554.00,150.50 L554.50,150.56 L555.00,150.62 L555.50,150.68 L556.00,150.73 L556.50,150.79 L557.00,150.85 L557.50,150.90 L558.00,150.96 L558.50,151.02 L559.00,151.07 L559.50,151.13 L560.00,151.18 L560.50,151.24 L561.00,151.29 L561.50,151.34 L562.00,151.40 L562.50,151.45 L563.00,151.50 L563.50,151.55 L564.00,151.61 L564.50,151.66 L565.00,151.71 L565.50,151.76 L566.00,151.81 L566.50,151.86 L567.00,151.91 L567.50,151.96 L568.00,152.01 L568.50,152.06 L569.00,152.10 L569.50,152.15 L570.00,152.20 L570.50,152.25 L571.00,152.29 L571.50,152.34 L572.00,152.39 L572.50,152.43 L573.00,152.48 L573.50,152.53 L574.00,152.57 L574.50,152.62 L575.00,152.66 L575.50,152.71 L576.00,152.75 L576.50,152.80 L577.00,152.84 L577.50,152.88 L578.00,152.93 L578.50,152.97 L579.00,153.01 L579.50,153.06 L580.00,153.10 L580.50,153.14 L581.00,153.19 L581.50,153.23 L582.00,153.27 L582.50,153.31 L583.00,153.35 L583.50,153.39 L584.00,153.44 L584.50,153.48 L585.00,153.52 L585.50,153.56 L586.00,153.60 L586.50,153.64 L587.00,153.68 L587.50,153.72 L588.00,153.76 L588.50,153.80 L589.00,153.84 L589.50,153.88 L590.00,153.91 L590.50,153.95 L591.00,153.99 L591.50,154.03 L592.00,154.07 L592.50,154.11 L593.00,154.14 L593.50,154.18 L594.00,154.22 L594.50,154.26 L595.00,154.29 L595.50,154.33 L596.00,154.37 L596.50,154.40 L597.00,154.44 L597.50,154.47 L598.00,154.51 L598.50,154.55 L599.00,154.58 L599.50,154.62 L600.00,154.65 L600.50,154.69 L601.00,154.72 L601.50,154.76 L602.00,154.79 L602.50,154.82 L603.00,154.86 L603.50,154.89 L604.00,154.93 L604.50,154.96 L605.00,154.99 L605.50,155.03 L606.00,155.06 L606.50,155.09 L607.00,155.12 L607.50,155.16 L608.00,155.19 L608.50,155.22 L609.00,155.25 L609.50,155.29 L610.00,155.32 L610.50,155.35 L611.00,155.38 L611.50,155.41 L612.00,155.44 L612.50,155.47 L613.00,155.51 L613.50,155.54 L614.00,155.57 L614.50,155.60 L615.00,155.63 L615.50,155.66 L616.00,155.69 L616.50,155.72 L617.00,155.75 L617.50,155.78 L618.00,155.81 L618.50,155.83 L619.00,155.86 L619.50,155.89 L620.00,155.92 L620.50,155.95 L621.00,155.98 L621.50,156.01 L622.00,156.03 L622.50,156.06 L623.00,156.09 L623.50,156.12 L624.00,156.15 L624.50,156.17 L625.00,156.20 L625.50,156.23 L626.00,156.26 L626.50,156.28 L627.00,156.31 L627.50,156.34 L628.00,156.36 L628.50,156.39 L629.00,156.41 L629.50,156.44 L630.00,156.47 L630.50,156.49 L631.00,156.52 L631.50,156.54 L632.00,156.57 L632.50,156.60 L633.00,156.62 L633.50,156.65 L634.00,156.67 L634.50,156.70 L635.00,156.72 L635.50,156.74 L636.00,156.77 L636.50,156.79 L637.00,156.82 L637.50,156.84 L638.00,156.87 L638.50,156.89 L639.00,156.91 L639.50,156.94 L640.00,156.96 L640.50,156.98 L641.00,157.01 L641.50,157.03 L642.00,157.05 L642.50,157.08 L643.00,157.10 L643.50,157.12 L644.00,157.14 L644.50,157.17 L645.00,157.19 L645.50,157.21 L646.00,157.23 L646.50,157.26 L647.00,157.28 L647.50,157.30 L648.00,157.32 L648.50,157.34 L649.00,157.37 L649.50,157.39 L650.00,157.41 L650.50,157.43 L651.00,157.45 L651.50,157.47 L652.00,157.49 L652.50,157.51 L653.00,157.53 L653.50,157.55 L654.00,157.57 L654.50,157.59 L655.00,157.62 L655.50,157.64 L656.00,157.66 L656.50,157.68 L657.00,157.70 L657.50,157.71 L658.00,157.73 L658.50,157.75 L659.00,157.77 L659.50,157.79 L660.00,157.81 L660.50,157.83 L661.00,157.85 L661.50,157.87 L662.00,157.89 L662.50,157.91 L663.00,157.93 L663.50,157.94 L664.00,157.96 L664.50,157.98 L665.00,158.00"/>
<path class="n" d="M456.20,162.23 L457.20,161.23 L458.20,160.22 L459.20,160.95 L460.20,161.90 L461.20,162.47 L462.20,162.40 L463.20,162.40 L464.20,163.15 L465.20,164.33 L466.20,163.07 L467.20,162.33 L468.20,162.34 L469.20,161.70 L470.20,160.80 L471.20,161.83 L472.20,162.64 L473.20,162.80 L474.50,164.00 L474.50,77.70 M477.50,77.70 L478.70,145.10 L480.00,140.00 L485.50,128.30 L490.00,131.00 L493.00,133.00 L495.00,137.00 L497.00,133.50 L500.00,140.00 L503.00,137.00 L505.00,141.00 L506.00,141.83 L507.00,141.86 L508.00,141.25 L509.00,141.32 L510.00,141.30 L511.00,141.07 L512.00,141.69 L513.00,141.80 L514.00,141.71 L515.00,142.85 L516.00,143.98 L517.00,142.98 L518.00,141.67 L519.00,141.79 L520.00,142.16 L521.00,143.42 L522.00,145.28 L523.00,145.60 L524.00,145.59 L525.00,145.53 L526.00,145.97 L527.00,146.33 L528.00,146.58 L529.00,145.58 L530.00,144.54 L531.00,143.64 L532.00,144.50 L533.00,146.14 L534.00,147.20 L535.00,145.50 L536.00,145.03 L537.00,147.54 L538.00,149.76 L539.00,148.29 L540.00,146.23 L541.00,146.95 L542.00,149.16 L543.00,149.40 L544.00,148.29 L545.00,148.43 L546.00,149.04 L547.00,148.67 L548.00,147.69 L549.00,147.40 L550.00,148.23 L551.00,149.64 L552.00,150.18 L553.00,151.38 L554.00,151.57 L555.00,150.19 L556.00,150.45 L557.00,151.76 L558.00,151.87 L559.00,150.85 L560.00,150.99 L561.00,150.70 L562.00,150.02 L563.00,150.04 L564.00,150.54 L565.00,151.00 L566.00,151.76 L567.00,152.10 L568.00,152.04 L569.00,151.43 L570.00,151.03 L571.00,152.36 L572.00,152.97 L573.00,151.53 L574.00,150.96 L575.00,151.61 L576.00,151.98 L577.00,150.28 L578.00,148.60 L579.00,150.89 L580.00,152.37 L581.00,152.02 L582.00,151.69 L583.00,151.77 L584.00,152.23 L585.00,151.66 L586.00,151.81 L587.00,154.02 L588.00,152.44 L589.00,151.92 L590.00,152.10 L591.00,154.20 L592.00,155.56 L593.00,154.64 L594.00,153.52 L595.00,154.24 L596.00,154.68 L597.00,154.39 L598.00,153.17 L599.00,151.62 L600.00,151.79 L601.00,153.83 L602.00,154.27 L603.00,153.81 L604.00,153.21 L605.00,151.74 L606.00,151.88 L607.00,153.91 L608.00,154.12 L609.00,153.05 L610.00,153.18 L611.00,154.34 L612.00,153.84 L613.00,153.88 L614.00,154.38 L615.00,154.24 L616.00,154.26 L617.00,154.67 L618.00,155.91 L619.00,156.93 L620.00,156.42 L621.00,155.43 L622.00,155.72 L623.00,154.85 L624.00,153.75 L625.00,153.98 L626.00,154.96 L627.00,155.81 L628.00,156.23 L629.00,155.34 L630.00,154.40 L631.00,154.70 L632.00,156.08 L633.00,156.72 L634.00,156.51 L635.00,155.37 L636.00,155.04 L637.00,156.86 L638.00,158.34 L639.00,158.55 L640.00,157.26 L641.00,156.78 L642.00,156.33 L643.00,156.21 L644.00,156.63 L645.00,157.83 L646.00,157.70 L647.00,154.87 L648.00,153.64 L649.00,153.11 L650.00,152.94 L651.00,153.33 L652.00,154.03 L653.00,156.92 L654.00,157.86 L655.00,157.31 L656.00,157.26 L657.00,156.95 L658.00,154.91 L659.00,152.27 L660.00,155.79 L661.00,156.95 L662.00,155.23 L663.00,153.08 L664.00,152.73 L665.00,156.55"/>
<path class="k" d="M665.00,152.50 L665.40,169.10"/>
<path class="z" d="M476.60,247.39 L667.90,246.20"/>
<path class="f" d="M477.00,210.30 L477.50,210.51 L478.00,210.71 L478.50,210.92 L479.00,211.12 L479.50,211.33 L480.00,211.53 L480.50,211.74 L481.00,211.94 L481.50,212.14 L482.00,212.34 L482.50,212.54 L483.00,212.74 L483.50,212.94 L484.00,213.14 L484.50,213.34 L485.00,213.54 L485.50,213.73 L486.00,213.93 L486.50,214.13 L487.00,214.32 L487.50,214.52 L488.00,214.71 L488.50,214.90 L489.00,215.09 L489.50,215.29 L490.00,215.48 L490.50,215.67 L491.00,215.86 L491.50,216.04 L492.00,216.23 L492.50,216.42 L493.00,216.61 L493.50,216.79 L494.00,216.98 L494.50,217.16 L495.00,217.35 L495.50,217.53 L496.00,217.71 L496.50,217.89 L497.00,218.07 L497.50,218.25 L498.00,218.43 L498.50,218.61 L499.00,218.79 L499.50,218.97 L500.00,219.14 L500.50,219.32 L501.00,219.50 L501.50,219.67 L502.00,219.84 L502.50,220.02 L503.00,220.19 L503.50,220.36 L504.00,220.53 L504.50,220.70 L505.00,220.87 L505.50,221.04 L506.00,221.21 L506.50,221.38 L507.00,221.55 L507.50,221.72 L508.00,221.89 L508.50,222.06 L509.00,222.23 L509.50,222.40 L510.00,222.57 L510.50,222.73 L511.00,222.90 L511.50,223.07 L512.00,223.24 L512.50,223.40 L513.00,223.57 L513.50,223.73 L514.00,223.90 L514.50,224.06 L515.00,224.22 L515.50,224.39 L516.00,224.55 L516.50,224.71 L517.00,224.86 L517.50,225.02 L518.00,225.18 L518.50,225.33 L519.00,225.49 L519.50,225.64 L520.00,225.79 L520.50,225.95 L521.00,226.10 L521.50,226.24 L522.00,226.39 L522.50,226.54 L523.00,226.68 L523.50,226.82 L524.00,226.97 L524.50,227.11 L525.00,227.24 L525.50,227.38 L526.00,227.52 L526.50,227.65 L527.00,227.79 L527.50,227.92 L528.00,228.05 L528.50,228.17 L529.00,228.30 L529.50,228.43 L530.00,228.55 L530.50,228.67 L531.00,228.79 L531.50,228.91 L532.00,229.03 L532.50,229.14 L533.00,229.26 L533.50,229.37 L534.00,229.48 L534.50,229.59 L535.00,229.69 L535.50,229.80 L536.00,229.91 L536.50,230.01 L537.00,230.11 L537.50,230.22 L538.00,230.32 L538.50,230.42 L539.00,230.52 L539.50,230.62 L540.00,230.72 L540.50,230.81 L541.00,230.91 L541.50,231.01 L542.00,231.10 L542.50,231.19 L543.00,231.29 L543.50,231.38 L544.00,231.47 L544.50,231.56 L545.00,231.65 L545.50,231.74 L546.00,231.83 L546.50,231.91 L547.00,232.00 L547.50,232.08 L548.00,232.17 L548.50,232.25 L549.00,232.34 L549.50,232.42 L550.00,232.50 L550.50,232.58 L551.00,232.66 L551.50,232.74 L552.00,232.82 L552.50,232.90 L553.00,232.98 L553.50,233.06 L554.00,233.13 L554.50,233.21 L555.00,233.29 L555.50,233.36 L556.00,233.43 L556.50,233.51 L557.00,233.58 L557.50,233.65 L558.00,233.73 L558.50,233.80 L559.00,233.87 L559.50,233.94 L560.00,234.01 L560.50,234.08 L561.00,234.15 L561.50,234.21 L562.00,234.28 L562.50,234.35 L563.00,234.42 L563.50,234.48 L564.00,234.55 L564.50,234.61 L565.00,234.68 L565.50,234.74 L566.00,234.81 L566.50,234.87 L567.00,234.93 L567.50,234.99 L568.00,235.06 L568.50,235.12 L569.00,235.18 L569.50,235.24 L570.00,235.30 L570.50,235.36 L571.00,235.42 L571.50,235.48 L572.00,235.53 L572.50,235.59 L573.00,235.65 L573.50,235.70 L574.00,235.76 L574.50,235.81 L575.00,235.87 L575.50,235.92 L576.00,235.97 L576.50,236.03 L577.00,236.08 L577.50,236.13 L578.00,236.18 L578.50,236.23 L579.00,236.28 L579.50,236.33 L580.00,236.38 L580.50,236.43 L581.00,236.48 L581.50,236.53 L582.00,236.57 L582.50,236.62 L583.00,236.67 L583.50,236.71 L584.00,236.76 L584.50,236.81 L585.00,236.85 L585.50,236.90 L586.00,236.94 L586.50,236.98 L587.00,237.03 L587.50,237.07 L588.00,237.12 L588.50,237.16 L589.00,237.20 L589.50,237.24 L590.00,237.29 L590.50,237.33 L591.00,237.37 L591.50,237.41 L592.00,237.45 L592.50,237.50 L593.00,237.54 L593.50,237.58 L594.00,237.62 L594.50,237.66 L595.00,237.70 L595.50,237.74 L596.00,237.78 L596.50,237.82 L597.00,237.86 L597.50,237.90 L598.00,237.94 L598.50,237.98 L599.00,238.02 L599.50,238.05 L600.00,238.09 L600.50,238.13 L601.00,238.17 L601.50,238.21 L602.00,238.25 L602.50,238.29 L603.00,238.32 L603.50,238.36 L604.00,238.40 L604.50,238.44 L605.00,238.48 L605.50,238.51 L606.00,238.55 L606.50,238.59 L607.00,238.63 L607.50,238.66 L608.00,238.70 L608.50,238.74 L609.00,238.78 L609.50,238.81 L610.00,238.85 L610.50,238.89 L611.00,238.93 L611.50,238.96 L612.00,239.00 L612.50,239.04 L613.00,239.08 L613.50,239.11 L614.00,239.15 L614.50,239.19 L615.00,239.23 L615.50,239.26 L616.00,239.30 L616.50,239.34 L617.00,239.38 L617.50,239.41 L618.00,239.45 L618.50,239.49 L619.00,239.53 L619.50,239.56 L620.00,239.60 L620.50,239.64 L621.00,239.67 L621.50,239.71 L622.00,239.75 L622.50,239.79 L623.00,239.82 L623.50,239.86 L624.00,239.90 L624.50,239.93 L625.00,239.97 L625.50,240.01 L626.00,240.04 L626.50,240.08 L627.00,240.12 L627.50,240.15 L628.00,240.19 L628.50,240.23 L629.00,240.26 L629.50,240.30 L630.00,240.33 L630.50,240.37 L631.00,240.40 L631.50,240.44 L632.00,240.48 L632.50,240.51 L633.00,240.55 L633.50,240.58 L634.00,240.62 L634.50,240.65 L635.00,240.68 L635.50,240.72 L636.00,240.75 L636.50,240.79 L637.00,240.82 L637.50,240.86 L638.00,240.89 L638.50,240.92 L639.00,240.96 L639.50,240.99 L640.00,241.02 L640.50,241.06 L641.00,241.09 L641.50,241.12 L642.00,241.16 L642.50,241.19 L643.00,241.22 L643.50,241.25 L644.00,241.29 L644.50,241.32 L645.00,241.35 L645.50,241.38 L646.00,241.41 L646.50,241.44 L647.00,241.48 L647.50,241.51 L648.00,241.54 L648.50,241.57 L649.00,241.60 L649.50,241.63 L650.00,241.66 L650.50,241.69 L651.00,241.72 L651.50,241.75 L652.00,241.78 L652.50,241.81 L653.00,241.84 L653.50,241.87 L654.00,241.90 L654.50,241.93 L655.00,241.96 L655.50,241.98 L656.00,242.01 L656.50,242.04 L657.00,242.07 L657.50,242.10 L658.00,242.13 L658.50,242.15 L659.00,242.18 L659.50,242.21 L660.00,242.24 L660.50,242.26 L661.00,242.29 L661.50,242.32 L662.00,242.34 L662.50,242.37 L663.00,242.40 L663.50,242.42 L664.00,242.45 L664.50,242.47 L665.00,242.50 L665.50,242.52 L666.00,242.55 L666.50,242.58 L667.00,242.60 L667.50,242.62"/>
<path class="n" d="M458.30,248.98 L459.30,248.14 L460.30,247.23 L461.30,247.17 L462.30,247.27 L463.30,247.37 L464.30,247.40 L465.30,247.05 L466.30,246.14 L467.30,245.26 L468.30,246.29 L469.30,247.12 L470.30,247.27 L471.30,247.21 L472.30,246.89 L473.30,245.98 L474.30,245.28 L475.30,246.03 L476.60,248.89 L476.60,163.50 M480.10,163.50 L481.00,226.20 L482.20,213.50 L483.50,211.50 L485.50,211.00 L488.40,207.90 L490.50,212.00 L492.00,213.00 L494.00,215.50 L495.00,216.90 L496.00,217.48 L497.00,216.72 L498.00,216.80 L499.00,217.94 L500.00,218.74 L501.00,218.85 L502.00,219.46 L503.00,219.54 L504.00,219.71 L505.00,219.54 L506.00,218.65 L507.00,219.00 L508.00,221.60 L509.00,224.25 L510.00,223.83 L511.00,221.52 L512.00,221.16 L513.00,223.38 L514.00,223.88 L515.00,223.80 L516.00,224.51 L517.00,225.87 L518.00,227.40 L519.00,226.99 L520.00,225.47 L521.00,225.56 L522.00,227.23 L523.00,228.79 L524.00,229.92 L525.00,229.81 L526.00,228.23 L527.00,226.91 L528.00,227.27 L529.00,228.07 L530.00,228.65 L531.00,228.93 L532.00,229.20 L533.00,229.93 L534.00,230.79 L535.00,231.14 L536.00,231.67 L537.00,231.45 L538.00,231.09 L539.00,231.15 L540.00,230.84 L541.00,230.42 L542.00,230.75 L543.00,230.78 L544.00,231.15 L545.00,232.14 L546.00,232.63 L547.00,231.84 L548.00,231.05 L549.00,231.26 L550.00,232.52 L551.00,232.96 L552.00,232.66 L553.00,232.73 L554.00,233.87 L555.00,234.27 L556.00,233.38 L557.00,232.55 L558.00,232.70 L559.00,232.37 L560.00,231.72 L561.00,232.40 L562.00,233.59 L563.00,233.39 L564.00,234.19 L565.00,236.68 L566.00,237.01 L567.00,235.75 L568.00,234.28 L569.00,234.55 L570.00,235.50 L571.00,235.53 L572.00,234.95 L573.00,234.03 L574.00,234.96 L575.00,237.22 L576.00,237.30 L577.00,237.14 L578.00,237.37 L579.00,236.00 L580.00,234.64 L581.00,234.36 L582.00,235.34 L583.00,236.42 L584.00,236.87 L585.00,236.92 L586.00,237.32 L587.00,238.11 L588.00,239.01 L589.00,239.46 L590.00,238.49 L591.00,237.10 L592.00,236.39 L593.00,236.00 L594.00,236.41 L595.00,237.60 L596.00,238.69 L597.00,238.51 L598.00,237.94 L599.00,237.23 L600.00,236.85 L601.00,237.00 L602.00,238.71 L603.00,240.14 L604.00,239.62 L605.00,238.36 L606.00,237.98 L607.00,238.76 L608.00,240.03 L609.00,240.21 L610.00,238.09 L611.00,237.44 L612.00,238.30 L613.00,239.07 L614.00,239.56 L615.00,238.82 L616.00,238.22 L617.00,238.71 L618.00,240.40 L619.00,241.11 L620.00,240.67 L621.00,240.78 L622.00,240.91 L623.00,239.90 L624.00,240.33 L625.00,242.39 L626.00,242.83 L627.00,241.44 L628.00,240.72 L629.00,239.42 L630.00,238.96 L631.00,239.85 L632.00,240.17 L633.00,239.03 L634.00,239.34 L635.00,242.50 L636.00,244.16 L637.00,241.85 L638.00,240.58 L639.00,240.90 L640.00,240.58 L641.00,239.65 L642.00,240.18 L643.00,240.79 L644.00,240.99 L645.00,241.85 L646.00,241.81 L647.00,241.62 L648.00,241.52 L649.00,240.65 L650.00,241.34 L651.00,243.73 L652.00,243.78 L653.00,241.72 L654.00,241.67 L655.00,243.12 L656.00,241.65 L657.00,240.29 L658.00,240.19 L659.00,239.47 L660.00,240.31 L661.00,241.96 L662.00,243.16 L663.00,242.98 L664.00,242.88 L665.00,242.38 L666.00,241.93 L667.00,241.88"/>
<path class="k" d="M667.90,239.60 L668.30,252.80"/>
<path class="z" d="M476.60,351.21 L668.60,350.30"/>
<path class="f" d="M477.50,296.70 L478.00,297.18 L478.50,297.65 L479.00,298.12 L479.50,298.59 L480.00,299.06 L480.50,299.52 L481.00,299.98 L481.50,300.44 L482.00,300.90 L482.50,301.36 L483.00,301.81 L483.50,302.26 L484.00,302.70 L484.50,303.15 L485.00,303.59 L485.50,304.03 L486.00,304.46 L486.50,304.90 L487.00,305.33 L487.50,305.76 L488.00,306.19 L488.50,306.61 L489.00,307.03 L489.50,307.45 L490.00,307.87 L490.50,308.28 L491.00,308.70 L491.50,309.11 L492.00,309.52 L492.50,309.93 L493.00,310.34 L493.50,310.74 L494.00,311.14 L494.50,311.54 L495.00,311.94 L495.50,312.34 L496.00,312.73 L496.50,313.12 L497.00,313.50 L497.50,313.88 L498.00,314.26 L498.50,314.63 L499.00,315.01 L499.50,315.37 L500.00,315.73 L500.50,316.09 L501.00,316.45 L501.50,316.80 L502.00,317.14 L502.50,317.48 L503.00,317.82 L503.50,318.15 L504.00,318.48 L504.50,318.80 L505.00,319.12 L505.50,319.43 L506.00,319.74 L506.50,320.04 L507.00,320.34 L507.50,320.64 L508.00,320.93 L508.50,321.22 L509.00,321.50 L509.50,321.78 L510.00,322.06 L510.50,322.34 L511.00,322.61 L511.50,322.88 L512.00,323.15 L512.50,323.42 L513.00,323.68 L513.50,323.95 L514.00,324.21 L514.50,324.47 L515.00,324.72 L515.50,324.98 L516.00,325.24 L516.50,325.49 L517.00,325.74 L517.50,326.00 L518.00,326.25 L518.50,326.50 L519.00,326.75 L519.50,327.00 L520.00,327.25 L520.50,327.50 L521.00,327.75 L521.50,328.00 L522.00,328.25 L522.50,328.50 L523.00,328.74 L523.50,328.99 L524.00,329.23 L524.50,329.48 L525.00,329.72 L525.50,329.96 L526.00,330.19 L526.50,330.43 L527.00,330.66 L527.50,330.89 L528.00,331.11 L528.50,331.34 L529.00,331.56 L529.50,331.77 L530.00,331.99 L530.50,332.20 L531.00,332.40 L531.50,332.61 L532.00,332.80 L532.50,333.00 L533.00,333.19 L533.50,333.38 L534.00,333.56 L534.50,333.74 L535.00,333.92 L535.50,334.10 L536.00,334.27 L536.50,334.44 L537.00,334.61 L537.50,334.77 L538.00,334.93 L538.50,335.09 L539.00,335.25 L539.50,335.41 L540.00,335.56 L540.50,335.71 L541.00,335.86 L541.50,336.01 L542.00,336.16 L542.50,336.30 L543.00,336.44 L543.50,336.58 L544.00,336.72 L544.50,336.86 L545.00,336.99 L545.50,337.13 L546.00,337.26 L546.50,337.39 L547.00,337.52 L547.50,337.65 L548.00,337.78 L548.50,337.90 L549.00,338.02 L549.50,338.15 L550.00,338.27 L550.50,338.39 L551.00,338.50 L551.50,338.62 L552.00,338.73 L552.50,338.84 L553.00,338.95 L553.50,339.06 L554.00,339.17 L554.50,339.27 L555.00,339.38 L555.50,339.48 L556.00,339.58 L556.50,339.68 L557.00,339.78 L557.50,339.88 L558.00,339.97 L558.50,340.07 L559.00,340.16 L559.50,340.26 L560.00,340.35 L560.50,340.44 L561.00,340.54 L561.50,340.63 L562.00,340.72 L562.50,340.81 L563.00,340.89 L563.50,340.98 L564.00,341.07 L564.50,341.16 L565.00,341.24 L565.50,341.33 L566.00,341.42 L566.50,341.50 L567.00,341.59 L567.50,341.67 L568.00,341.75 L568.50,341.84 L569.00,341.92 L569.50,342.00 L570.00,342.09 L570.50,342.17 L571.00,342.25 L571.50,342.33 L572.00,342.41 L572.50,342.50 L573.00,342.58 L573.50,342.66 L574.00,342.74 L574.50,342.82 L575.00,342.90 L575.50,342.98 L576.00,343.06 L576.50,343.14 L577.00,343.22 L577.50,343.30 L578.00,343.37 L578.50,343.45 L579.00,343.53 L579.50,343.60 L580.00,343.68 L580.50,343.75 L581.00,343.83 L581.50,343.90 L582.00,343.97 L582.50,344.04 L583.00,344.12 L583.50,344.19 L584.00,344.26 L584.50,344.33 L585.00,344.40 L585.50,344.47 L586.00,344.54 L586.50,344.60 L587.00,344.67 L587.50,344.74 L588.00,344.80 L588.50,344.87 L589.00,344.93 L589.50,345.00 L590.00,345.06 L590.50,345.13 L591.00,345.19 L591.50,345.25 L592.00,345.31 L592.50,345.37 L593.00,345.44 L593.50,345.50 L594.00,345.56 L594.50,345.61 L595.00,345.67 L595.50,345.73 L596.00,345.79 L596.50,345.85 L597.00,345.90 L597.50,345.96 L598.00,346.01 L598.50,346.07 L599.00,346.12 L599.50,346.18 L600.00,346.23 L600.50,346.28 L601.00,346.34 L601.50,346.39 L602.00,346.44 L602.50,346.49 L603.00,346.54 L603.50,346.59 L604.00,346.64 L604.50,346.69 L605.00,346.74 L605.50,346.79 L606.00,346.83 L606.50,346.88 L607.00,346.93 L607.50,346.97 L608.00,347.02 L608.50,347.07 L609.00,347.11 L609.50,347.15 L610.00,347.20 L610.50,347.24 L611.00,347.28 L611.50,347.33 L612.00,347.37 L612.50,347.41 L613.00,347.45 L613.50,347.49 L614.00,347.53 L614.50,347.57 L615.00,347.61 L615.50,347.65 L616.00,347.69 L616.50,347.73 L617.00,347.76 L617.50,347.80 L618.00,347.84 L618.50,347.87 L619.00,347.91 L619.50,347.95 L620.00,347.98 L620.50,348.01 L621.00,348.05 L621.50,348.08 L622.00,348.12 L622.50,348.15 L623.00,348.18 L623.50,348.21 L624.00,348.25 L624.50,348.28 L625.00,348.31 L625.50,348.34 L626.00,348.37 L626.50,348.40 L627.00,348.43 L627.50,348.46 L628.00,348.49 L628.50,348.51 L629.00,348.54 L629.50,348.57 L630.00,348.60 L630.50,348.62 L631.00,348.65 L631.50,348.68 L632.00,348.70 L632.50,348.73 L633.00,348.75 L633.50,348.78 L634.00,348.80 L634.50,348.83 L635.00,348.85 L635.50,348.87 L636.00,348.90 L636.50,348.92 L637.00,348.94 L637.50,348.96 L638.00,348.98 L638.50,349.01 L639.00,349.03 L639.50,349.05 L640.00,349.07 L640.50,349.09 L641.00,349.11 L641.50,349.13 L642.00,349.15 L642.50,349.17 L643.00,349.18 L643.50,349.20 L644.00,349.22 L644.50,349.24 L645.00,349.26 L645.50,349.27 L646.00,349.29 L646.50,349.31 L647.00,349.32 L647.50,349.34 L648.00,349.35 L648.50,349.37 L649.00,349.39 L649.50,349.40 L650.00,349.41 L650.50,349.43 L651.00,349.44 L651.50,349.46 L652.00,349.47 L652.50,349.49 L653.00,349.50 L653.50,349.51 L654.00,349.52 L654.50,349.54 L655.00,349.55 L655.50,349.56 L656.00,349.57 L656.50,349.59 L657.00,349.60 L657.50,349.61 L658.00,349.62 L658.50,349.63 L659.00,349.64 L659.50,349.65 L660.00,349.66 L660.50,349.67 L661.00,349.68 L661.50,349.69 L662.00,349.70 L662.50,349.71 L663.00,349.72 L663.50,349.73 L664.00,349.74 L664.50,349.75 L665.00,349.75 L665.50,349.76 L666.00,349.77 L666.50,349.78 L667.00,349.79 L667.50,349.79 L668.00,349.80 L668.50,349.81"/>
<path class="n" d="M458.30,349.93 L459.30,350.40 L460.30,350.85 L461.30,350.64 L462.30,349.80 L463.30,349.14 L464.30,350.01 L465.30,350.58 L466.30,350.66 L467.30,350.62 L468.30,350.35 L469.30,349.97 L470.30,350.70 L471.30,351.06 L472.30,350.96 L473.30,350.95 L474.30,349.72 L475.30,348.51 L476.60,352.71 L476.70,267.00 M480.50,267.00 L480.90,320.30 L481.60,315.00 L482.40,312.20 L483.90,309.20 L486.80,307.70 L489.00,308.50 L490.00,307.49 L491.00,307.34 L492.00,307.10 L493.00,308.94 L494.00,310.58 L495.00,310.65 L496.00,312.18 L497.00,313.30 L498.00,312.88 L499.00,313.13 L500.00,312.99 L501.00,314.53 L502.00,316.54 L503.00,315.75 L504.00,314.56 L505.00,315.51 L506.00,316.97 L507.00,317.05 L508.00,317.56 L509.00,319.61 L510.00,321.82 L511.00,323.29 L512.00,323.27 L513.00,322.71 L514.00,323.13 L515.00,324.26 L516.00,324.43 L517.00,324.06 L518.00,324.49 L519.00,325.51 L520.00,325.56 L521.00,326.04 L522.00,327.55 L523.00,327.90 L524.00,327.23 L525.00,326.85 L526.00,330.01 L527.00,331.02 L528.00,330.86 L529.00,330.69 L530.00,332.23 L531.00,332.65 L532.00,332.18 L533.00,331.05 L534.00,331.00 L535.00,332.66 L536.00,333.62 L537.00,334.00 L538.00,334.67 L539.00,334.97 L540.00,334.95 L541.00,334.50 L542.00,335.08 L543.00,336.04 L544.00,335.79 L545.00,335.68 L546.00,336.13 L547.00,335.26 L548.00,335.61 L549.00,337.21 L550.00,335.94 L551.00,335.10 L552.00,336.59 L553.00,337.44 L554.00,338.49 L555.00,338.60 L556.00,338.08 L557.00,338.17 L558.00,337.89 L559.00,336.57 L560.00,337.82 L561.00,340.46 L562.00,339.28 L563.00,336.05 L564.00,335.50 L565.00,337.69 L566.00,339.13 L567.00,339.63 L568.00,340.16 L569.00,340.63 L570.00,339.95 L571.00,340.25 L572.00,341.15 L573.00,340.64 L574.00,340.08 L575.00,340.47 L576.00,340.89 L577.00,340.75 L578.00,340.58 L579.00,341.20 L580.00,341.69 L581.00,341.95 L582.00,342.20 L583.00,341.46 L584.00,341.15 L585.00,341.20 L586.00,340.71 L587.00,340.94 L588.00,339.86 L589.00,339.07 L590.00,342.31 L591.00,343.75 L592.00,343.10 L593.00,343.04 L594.00,343.92 L595.00,345.11 L596.00,345.04 L597.00,343.88 L598.00,343.39 L599.00,343.38 L600.00,343.29 L601.00,344.39 L602.00,344.38 L603.00,343.90 L604.00,344.13 L605.00,343.61 L606.00,343.44 L607.00,344.26 L608.00,342.84 L609.00,342.77 L610.00,344.13 L611.00,343.05 L612.00,342.53 L613.00,342.55 L614.00,343.55 L615.00,344.15 L616.00,343.71 L617.00,344.08 L618.00,344.76 L619.00,346.99 L620.00,348.86 L621.00,349.10 L622.00,347.50 L623.00,345.31 L624.00,343.82 L625.00,343.88 L626.00,344.30 L627.00,344.53 L628.00,343.99 L629.00,341.79 L630.00,340.17 L631.00,342.08 L632.00,344.27 L633.00,345.66 L634.00,346.26 L635.00,345.99 L636.00,345.16 L637.00,344.14 L638.00,344.63 L639.00,345.07 L640.00,345.33 L641.00,345.10 L642.00,343.65 L643.00,343.98 L644.00,344.51 L645.00,344.58 L646.00,344.55 L647.00,344.90 L648.00,345.12 L649.00,344.27 L650.00,344.91 L651.00,344.82 L652.00,344.01 L653.00,343.87 L654.00,344.02 L655.00,344.11 L656.00,344.03 L657.00,344.80 L658.00,344.79 L659.00,344.13 L660.00,343.83 L661.00,344.24 L662.00,345.29 L663.00,345.74 L664.00,346.40 L665.00,347.28 L666.00,346.43 L667.00,344.79 L668.00,344.31"/>
<path class="k" d="M668.60,341.00 L669.00,357.60"/>
<path class="z" d="M474.80,484.04 L666.80,483.40"/>
<path class="f" d="M476.50,406.00 L477.00,406.87 L477.50,407.73 L478.00,408.60 L478.50,409.47 L479.00,410.36 L479.50,411.27 L480.00,412.20 L480.50,413.15 L481.00,414.12 L481.50,415.09 L482.00,416.07 L482.50,417.06 L483.00,418.06 L483.50,419.06 L484.00,420.05 L484.50,421.05 L485.00,422.04 L485.50,423.03 L486.00,424.02 L486.50,425.00 L487.00,425.97 L487.50,426.93 L488.00,427.88 L488.50,428.82 L489.00,429.75 L489.50,430.66 L490.00,431.56 L490.50,432.44 L491.00,433.31 L491.50,434.16 L492.00,435.00 L492.50,435.82 L493.00,436.62 L493.50,437.40 L494.00,438.16 L494.50,438.91 L495.00,439.63 L495.50,440.34 L496.00,441.02 L496.50,441.69 L497.00,442.33 L497.50,442.96 L498.00,443.56 L498.50,444.15 L499.00,444.73 L499.50,445.29 L500.00,445.83 L500.50,446.37 L501.00,446.89 L501.50,447.41 L502.00,447.91 L502.50,448.40 L503.00,448.89 L503.50,449.36 L504.00,449.83 L504.50,450.28 L505.00,450.73 L505.50,451.18 L506.00,451.62 L506.50,452.05 L507.00,452.47 L507.50,452.89 L508.00,453.31 L508.50,453.72 L509.00,454.12 L509.50,454.52 L510.00,454.92 L510.50,455.31 L511.00,455.70 L511.50,456.09 L512.00,456.47 L512.50,456.86 L513.00,457.23 L513.50,457.61 L514.00,457.99 L514.50,458.36 L515.00,458.73 L515.50,459.10 L516.00,459.47 L516.50,459.84 L517.00,460.20 L517.50,460.57 L518.00,460.93 L518.50,461.29 L519.00,461.65 L519.50,462.00 L520.00,462.35 L520.50,462.70 L521.00,463.04 L521.50,463.38 L522.00,463.72 L522.50,464.05 L523.00,464.37 L523.50,464.69 L524.00,465.01 L524.50,465.32 L525.00,465.62 L525.50,465.92 L526.00,466.22 L526.50,466.51 L527.00,466.79 L527.50,467.07 L528.00,467.34 L528.50,467.60 L529.00,467.86 L529.50,468.11 L530.00,468.36 L530.50,468.60 L531.00,468.84 L531.50,469.07 L532.00,469.29 L532.50,469.51 L533.00,469.72 L533.50,469.92 L534.00,470.12 L534.50,470.32 L535.00,470.50 L535.50,470.69 L536.00,470.87 L536.50,471.04 L537.00,471.21 L537.50,471.38 L538.00,471.54 L538.50,471.70 L539.00,471.86 L539.50,472.01 L540.00,472.16 L540.50,472.31 L541.00,472.45 L541.50,472.60 L542.00,472.73 L542.50,472.87 L543.00,473.01 L543.50,473.14 L544.00,473.27 L544.50,473.40 L545.00,473.53 L545.50,473.65 L546.00,473.78 L546.50,473.90 L547.00,474.02 L547.50,474.14 L548.00,474.26 L548.50,474.38 L549.00,474.50 L549.50,474.61 L550.00,474.73 L550.50,474.84 L551.00,474.96 L551.50,475.07 L552.00,475.18 L552.50,475.29 L553.00,475.41 L553.50,475.52 L554.00,475.63 L554.50,475.74 L555.00,475.85 L555.50,475.96 L556.00,476.07 L556.50,476.18 L557.00,476.29 L557.50,476.40 L558.00,476.51 L558.50,476.62 L559.00,476.73 L559.50,476.83 L560.00,476.94 L560.50,477.05 L561.00,477.16 L561.50,477.27 L562.00,477.38 L562.50,477.49 L563.00,477.60 L563.50,477.70 L564.00,477.81 L564.50,477.92 L565.00,478.02 L565.50,478.13 L566.00,478.23 L566.50,478.34 L567.00,478.44 L567.50,478.54 L568.00,478.64 L568.50,478.74 L569.00,478.83 L569.50,478.93 L570.00,479.03 L570.50,479.12 L571.00,479.21 L571.50,479.30 L572.00,479.39 L572.50,479.48 L573.00,479.56 L573.50,479.65 L574.00,479.73 L574.50,479.81 L575.00,479.89 L575.50,479.97 L576.00,480.05 L576.50,480.12 L577.00,480.20 L577.50,480.27 L578.00,480.34 L578.50,480.41 L579.00,480.48 L579.50,480.54 L580.00,480.61 L580.50,480.67 L581.00,480.73 L581.50,480.79 L582.00,480.85 L582.50,480.91 L583.00,480.96 L583.50,481.01 L584.00,481.07 L584.50,481.12 L585.00,481.17 L585.50,481.22 L586.00,481.26 L586.50,481.31 L587.00,481.35 L587.50,481.40 L588.00,481.44 L588.50,481.48 L589.00,481.52 L589.50,481.56 L590.00,481.60 L590.50,481.64 L591.00,481.68 L591.50,481.72 L592.00,481.75 L592.50,481.79 L593.00,481.82 L593.50,481.86 L594.00,481.89 L594.50,481.92 L595.00,481.95 L595.50,481.99 L596.00,482.02 L596.50,482.05 L597.00,482.08 L597.50,482.10 L598.00,482.13 L598.50,482.16 L599.00,482.19 L599.50,482.21 L600.00,482.24 L600.50,482.27 L601.00,482.29 L601.50,482.31 L602.00,482.34 L602.50,482.36 L603.00,482.38 L603.50,482.41 L604.00,482.43 L604.50,482.45 L605.00,482.47 L605.50,482.49 L606.00,482.51 L606.50,482.53 L607.00,482.55 L607.50,482.57 L608.00,482.59 L608.50,482.60 L609.00,482.62 L609.50,482.64 L610.00,482.66 L610.50,482.67 L611.00,482.69 L611.50,482.70 L612.00,482.72 L612.50,482.74 L613.00,482.75 L613.50,482.76 L614.00,482.78 L614.50,482.79 L615.00,482.81 L615.50,482.82 L616.00,482.83 L616.50,482.84 L617.00,482.86 L617.50,482.87 L618.00,482.88 L618.50,482.89 L619.00,482.90 L619.50,482.91 L620.00,482.93 L620.50,482.94 L621.00,482.95 L621.50,482.96 L622.00,482.97 L622.50,482.98 L623.00,482.99 L623.50,482.99 L624.00,483.00 L624.50,483.01 L625.00,483.02 L625.50,483.03 L626.00,483.04 L626.50,483.05 L627.00,483.05 L627.50,483.06 L628.00,483.07 L628.50,483.08 L629.00,483.08 L629.50,483.09 L630.00,483.10 L630.50,483.10 L631.00,483.11 L631.50,483.12 L632.00,483.12 L632.50,483.13 L633.00,483.13 L633.50,483.14 L634.00,483.14 L634.50,483.15 L635.00,483.15 L635.50,483.16 L636.00,483.16 L636.50,483.17 L637.00,483.17 L637.50,483.18 L638.00,483.18 L638.50,483.19 L639.00,483.19 L639.50,483.20 L640.00,483.20 L640.50,483.20 L641.00,483.21 L641.50,483.21 L642.00,483.22 L642.50,483.22 L643.00,483.22 L643.50,483.23 L644.00,483.23 L644.50,483.23 L645.00,483.23 L645.50,483.24 L646.00,483.24 L646.50,483.24 L647.00,483.25 L647.50,483.25 L648.00,483.25 L648.50,483.25 L649.00,483.26 L649.50,483.26 L650.00,483.26 L650.50,483.26 L651.00,483.26 L651.50,483.27 L652.00,483.27 L652.50,483.27 L653.00,483.27 L653.50,483.27 L654.00,483.28 L654.50,483.28 L655.00,483.28 L655.50,483.28 L656.00,483.28 L656.50,483.28 L657.00,483.28 L657.50,483.29 L658.00,483.29 L658.50,483.29 L659.00,483.29 L659.50,483.29 L660.00,483.29 L660.50,483.29 L661.00,483.29 L661.50,483.29 L662.00,483.29 L662.50,483.29 L663.00,483.30 L663.50,483.30 L664.00,483.30 L664.50,483.30 L665.00,483.30 L665.50,483.30 L666.00,483.30 L666.50,483.30"/>
<path class="n" d="M457.30,482.05 L458.30,483.00 L459.30,483.31 L460.30,482.23 L461.30,481.18 L462.30,482.32 L463.30,483.43 L464.30,484.08 L465.30,484.14 L466.30,483.89 L467.30,483.61 L468.30,483.62 L469.30,483.70 L470.30,483.63 L471.30,483.68 L472.30,483.67 L473.30,483.49 L474.80,485.54 L475.20,400.20 M478.40,400.20 L480.10,450.40 L481.50,440.00 L483.50,432.60 L488.00,429.90 L491.00,437.00 L492.00,432.31 L493.00,434.48 L494.00,435.77 L495.00,437.81 L496.00,440.83 L497.00,441.87 L498.00,441.26 L499.00,442.12 L500.00,444.92 L501.00,445.95 L502.00,445.35 L503.00,446.97 L504.00,450.37 L505.00,452.80 L506.00,452.73 L507.00,452.20 L508.00,452.40 L509.00,452.05 L510.00,451.43 L511.00,453.20 L512.00,455.47 L513.00,457.45 L514.00,458.01 L515.00,459.12 L516.00,460.19 L517.00,460.30 L518.00,459.29 L519.00,458.64 L520.00,458.89 L521.00,460.45 L522.00,461.12 L523.00,461.31 L524.00,462.34 L525.00,463.34 L526.00,463.94 L527.00,464.08 L528.00,464.50 L529.00,465.39 L530.00,466.20 L531.00,467.04 L532.00,468.03 L533.00,467.91 L534.00,467.10 L535.00,465.98 L536.00,465.24 L537.00,466.44 L538.00,468.32 L539.00,469.50 L540.00,469.95 L541.00,469.99 L542.00,469.68 L543.00,468.52 L544.00,468.88 L545.00,469.77 L546.00,471.32 L547.00,471.37 L548.00,470.14 L549.00,470.45 L550.00,471.82 L551.00,471.99 L552.00,471.42 L553.00,471.32 L554.00,471.83 L555.00,471.71 L556.00,471.39 L557.00,471.57 L558.00,472.36 L559.00,473.91 L560.00,474.96 L561.00,473.60 L562.00,472.64 L563.00,473.52 L564.00,475.12 L565.00,475.46 L566.00,475.44 L567.00,475.84 L568.00,475.33 L569.00,475.84 L570.00,476.25 L571.00,476.57 L572.00,477.67 L573.00,478.15 L574.00,478.69 L575.00,479.60 L576.00,479.27 L577.00,478.55 L578.00,477.86 L579.00,477.76 L580.00,478.07 L581.00,477.39 L582.00,477.15 L583.00,477.21 L584.00,477.05 L585.00,478.28 L586.00,479.60 L587.00,479.93 L588.00,479.43 L589.00,478.30 L590.00,477.55 L591.00,478.21 L592.00,479.89 L593.00,479.81 L594.00,478.61 L595.00,478.24 L596.00,478.76 L597.00,479.21 L598.00,479.89 L599.00,481.03 L600.00,481.98 L601.00,482.38 L602.00,482.12 L603.00,480.38 L604.00,480.37 L605.00,479.07 L606.00,478.90 L607.00,481.15 L608.00,483.36 L609.00,482.34 L610.00,479.63 L611.00,480.44 L612.00,481.18 L613.00,480.93 L614.00,480.79 L615.00,481.62 L616.00,482.05 L617.00,482.11 L618.00,482.80 L619.00,482.79 L620.00,483.98 L621.00,484.93 L622.00,483.56 L623.00,482.66 L624.00,482.32 L625.00,481.89 L626.00,482.57 L627.00,482.58 L628.00,481.95 L629.00,481.61 L630.00,481.36 L631.00,481.02 L632.00,479.95 L633.00,481.37 L634.00,482.02 L635.00,481.86 L636.00,481.57 L637.00,481.96 L638.00,482.12 L639.00,482.17 L640.00,481.44 L641.00,481.06 L642.00,481.41 L643.00,481.80 L644.00,481.98 L645.00,482.62 L646.00,483.52 L647.00,484.11 L648.00,482.42 L649.00,481.08 L650.00,480.40 L651.00,480.61 L652.00,480.17 L653.00,480.51 L654.00,481.13 L655.00,480.46 L656.00,480.05 L657.00,480.25 L658.00,480.84 L659.00,481.26 L660.00,482.46 L661.00,483.67 L662.00,484.45 L663.00,483.04 L664.00,481.94 L665.00,481.22 L666.00,480.70"/>
<path class="k" d="M666.80,477.20 L667.20,490.50"/>
<path class="z" d="M477.40,618.19 L669.50,618.10"/>
<path class="t" d="M477.40,618.19 L477.40,533.30"/>
<path class="f" d="M486.00,533.30 L486.50,535.97 L487.00,538.52 L487.50,540.95 L488.00,543.24 L488.50,545.38 L489.00,547.38 L489.50,549.22 L490.00,550.90 L490.50,552.44 L491.00,553.88 L491.50,555.23 L492.00,556.51 L492.50,557.71 L493.00,558.85 L493.50,559.95 L494.00,561.00 L494.50,562.01 L495.00,563.00 L495.50,563.96 L496.00,564.91 L496.50,565.86 L497.00,566.79 L497.50,567.73 L498.00,568.67 L498.50,569.63 L499.00,570.59 L499.50,571.56 L500.00,572.52 L500.50,573.46 L501.00,574.40 L501.50,575.32 L502.00,576.24 L502.50,577.13 L503.00,578.02 L503.50,578.88 L504.00,579.73 L504.50,580.57 L505.00,581.39 L505.50,582.19 L506.00,582.97 L506.50,583.74 L507.00,584.48 L507.50,585.21 L508.00,585.92 L508.50,586.62 L509.00,587.30 L509.50,587.96 L510.00,588.62 L510.50,589.25 L511.00,589.88 L511.50,590.49 L512.00,591.09 L512.50,591.68 L513.00,592.25 L513.50,592.82 L514.00,593.37 L514.50,593.92 L515.00,594.45 L515.50,594.98 L516.00,595.49 L516.50,596.00 L517.00,596.50 L517.50,596.99 L518.00,597.47 L518.50,597.94 L519.00,598.40 L519.50,598.86 L520.00,599.31 L520.50,599.74 L521.00,600.17 L521.50,600.59 L522.00,601.00 L522.50,601.40 L523.00,601.79 L523.50,602.17 L524.00,602.54 L524.50,602.90 L525.00,603.26 L525.50,603.60 L526.00,603.94 L526.50,604.26 L527.00,604.59 L527.50,604.90 L528.00,605.21 L528.50,605.51 L529.00,605.80 L529.50,606.09 L530.00,606.37 L530.50,606.64 L531.00,606.90 L531.50,607.16 L532.00,607.42 L532.50,607.66 L533.00,607.90 L533.50,608.14 L534.00,608.37 L534.50,608.59 L535.00,608.80 L535.50,609.01 L536.00,609.22 L536.50,609.41 L537.00,609.60 L537.50,609.79 L538.00,609.97 L538.50,610.15 L539.00,610.32 L539.50,610.49 L540.00,610.66 L540.50,610.82 L541.00,610.97 L541.50,611.13 L542.00,611.28 L542.50,611.43 L543.00,611.58 L543.50,611.72 L544.00,611.86 L544.50,612.00 L545.00,612.14 L545.50,612.27 L546.00,612.40 L546.50,612.53 L547.00,612.66 L547.50,612.79 L548.00,612.91 L548.50,613.04 L549.00,613.16 L549.50,613.28 L550.00,613.40 L550.50,613.52 L551.00,613.63 L551.50,613.75 L552.00,613.86 L552.50,613.96 L553.00,614.07 L553.50,614.17 L554.00,614.28 L554.50,614.38 L555.00,614.47 L555.50,614.57 L556.00,614.66 L556.50,614.75 L557.00,614.84 L557.50,614.93 L558.00,615.01 L558.50,615.10 L559.00,615.18 L559.50,615.26 L560.00,615.34 L560.50,615.41 L561.00,615.49 L561.50,615.56 L562.00,615.63 L562.50,615.70 L563.00,615.77 L563.50,615.84 L564.00,615.90 L564.50,615.96 L565.00,616.02 L565.50,616.08 L566.00,616.14 L566.50,616.20 L567.00,616.26 L567.50,616.31 L568.00,616.36 L568.50,616.42 L569.00,616.47 L569.50,616.52 L570.00,616.56 L570.50,616.61 L571.00,616.66 L571.50,616.70 L572.00,616.74 L572.50,616.79 L573.00,616.83 L573.50,616.87 L574.00,616.91 L574.50,616.94 L575.00,616.98 L575.50,617.02 L576.00,617.05 L576.50,617.09 L577.00,617.12 L577.50,617.15 L578.00,617.18 L578.50,617.21 L579.00,617.24 L579.50,617.27 L580.00,617.30 L580.50,617.32 L581.00,617.35 L581.50,617.37 L582.00,617.39 L582.50,617.41 L583.00,617.43 L583.50,617.45 L584.00,617.47 L584.50,617.49 L585.00,617.51 L585.50,617.53 L586.00,617.54 L586.50,617.56 L587.00,617.58 L587.50,617.59 L588.00,617.61 L588.50,617.62 L589.00,617.64 L589.50,617.65 L590.00,617.66 L590.50,617.68 L591.00,617.69 L591.50,617.70 L592.00,617.72 L592.50,617.73 L593.00,617.74 L593.50,617.75 L594.00,617.76 L594.50,617.77 L595.00,617.78 L595.50,617.79 L596.00,617.80 L596.50,617.81 L597.00,617.82 L597.50,617.83 L598.00,617.84 L598.50,617.84 L599.00,617.85 L599.50,617.86 L600.00,617.87 L600.50,617.87 L601.00,617.88 L601.50,617.89 L602.00,617.90 L602.50,617.90 L603.00,617.91 L603.50,617.91 L604.00,617.92 L604.50,617.93 L605.00,617.93 L605.50,617.94 L606.00,617.94 L606.50,617.95 L607.00,617.95 L607.50,617.96 L608.00,617.96 L608.50,617.97 L609.00,617.97 L609.50,617.97 L610.00,617.98 L610.50,617.98 L611.00,617.99 L611.50,617.99 L612.00,617.99 L612.50,618.00 L613.00,618.00 L613.50,618.00 L614.00,618.01 L614.50,618.01 L615.00,618.01 L615.50,618.02 L616.00,618.02 L616.50,618.02 L617.00,618.03 L617.50,618.03 L618.00,618.03 L618.50,618.03 L619.00,618.04 L619.50,618.04 L620.00,618.04 L620.50,618.04 L621.00,618.04 L621.50,618.05 L622.00,618.05 L622.50,618.05 L623.00,618.05 L623.50,618.05 L624.00,618.06 L624.50,618.06 L625.00,618.06 L625.50,618.06 L626.00,618.06 L626.50,618.06 L627.00,618.06 L627.50,618.07 L628.00,618.07 L628.50,618.07 L629.00,618.07 L629.50,618.07 L630.00,618.07 L630.50,618.07 L631.00,618.07 L631.50,618.07 L632.00,618.08 L632.50,618.08 L633.00,618.08 L633.50,618.08 L634.00,618.08 L634.50,618.08 L635.00,618.08 L635.50,618.08 L636.00,618.08 L636.50,618.08 L637.00,618.08 L637.50,618.08 L638.00,618.09 L638.50,618.09 L639.00,618.09 L639.50,618.09 L640.00,618.09 L640.50,618.09 L641.00,618.09 L641.50,618.09 L642.00,618.09 L642.50,618.09 L643.00,618.09 L643.50,618.09 L644.00,618.09 L644.50,618.09 L645.00,618.09 L645.50,618.09 L646.00,618.09 L646.50,618.09 L647.00,618.09 L647.50,618.09 L648.00,618.09 L648.50,618.09 L649.00,618.09 L649.50,618.09 L650.00,618.09 L650.50,618.09 L651.00,618.09 L651.50,618.09 L652.00,618.10 L652.50,618.10 L653.00,618.10 L653.50,618.10 L654.00,618.10 L654.50,618.10 L655.00,618.10 L655.50,618.10 L656.00,618.10 L656.50,618.10 L657.00,618.10 L657.50,618.10 L658.00,618.10 L658.50,618.10 L659.00,618.10 L659.50,618.10 L660.00,618.10 L660.50,618.10 L661.00,618.10 L661.50,618.10 L662.00,618.10 L662.50,618.10 L663.00,618.10 L663.50,618.10 L664.00,618.10 L664.50,618.10 L665.00,618.10 L665.50,618.10 L666.00,618.10 L666.50,618.10 L667.00,618.10 L667.50,618.10 L668.00,618.10 L668.50,618.10 L669.00,618.10 L669.50,618.10"/>
<path class="n" d="M459.50,616.35 L460.50,617.18 L461.50,618.14 L462.50,618.23 L463.50,618.07 L464.50,617.95 L465.50,617.36 L466.50,615.63 L467.50,617.34 L468.50,617.89 L469.50,617.98 L470.50,617.98 L471.50,617.85 L472.50,617.69 L473.50,617.61 L474.50,617.67 L475.50,618.13 L476.50,619.21 L477.40,619.69 L477.40,533.30 M481.00,533.30 L481.70,576.20 L483.00,566.00 L486.00,557.30 L490.00,559.00 L494.00,560.00 L497.00,567.00 L498.00,568.17 L499.00,570.49 L500.00,572.31 L501.00,573.41 L502.00,574.56 L503.00,576.23 L504.00,578.41 L505.00,580.01 L506.00,580.97 L507.00,581.99 L508.00,581.91 L509.00,582.36 L510.00,584.00 L511.00,586.29 L512.00,587.94 L513.00,588.75 L514.00,588.69 L515.00,589.52 L516.00,591.17 L517.00,591.67 L518.00,593.04 L519.00,595.08 L520.00,595.53 L521.00,594.20 L522.00,593.86 L523.00,595.50 L524.00,596.66 L525.00,596.17 L526.00,595.86 L527.00,596.43 L528.00,597.51 L529.00,600.62 L530.00,602.99 L531.00,603.06 L532.00,602.17 L533.00,601.14 L534.00,600.85 L535.00,601.74 L536.00,602.93 L537.00,604.00 L538.00,604.73 L539.00,605.56 L540.00,605.21 L541.00,603.55 L542.00,602.77 L543.00,604.41 L544.00,604.90 L545.00,604.54 L546.00,605.64 L547.00,608.16 L548.00,609.37 L549.00,609.57 L550.00,608.86 L551.00,608.24 L552.00,609.04 L553.00,609.60 L554.00,610.24 L555.00,612.34 L556.00,614.16 L557.00,614.26 L558.00,613.18 L559.00,611.73 L560.00,611.17 L561.00,612.92 L562.00,614.92 L563.00,616.32 L564.00,617.94 L565.00,619.02 L566.00,617.21 L567.00,615.67 L568.00,615.91 L569.00,617.91 L570.00,619.01 L571.00,616.18 L572.00,614.91 L573.00,615.98 L574.00,616.85 L575.00,617.44 L576.00,617.52 L577.00,616.40 L578.00,616.07 L579.00,618.79 L580.00,620.48 L581.00,617.72 L582.00,616.36 L583.00,617.33 L584.00,617.19 L585.00,616.07 L586.00,614.25 L587.00,613.43 L588.00,614.34 L589.00,615.72 L590.00,616.92 L591.00,618.10 L592.00,617.79 L593.00,617.10 L594.00,616.78 L595.00,615.70 L596.00,616.31 L597.00,616.93 L598.00,615.73 L599.00,615.07 L600.00,617.13 L601.00,618.42 L602.00,617.99 L603.00,617.42 L604.00,617.13 L605.00,617.65 L606.00,617.90 L607.00,617.58 L608.00,616.33 L609.00,616.34 L610.00,617.47 L611.00,617.94 L612.00,616.60 L613.00,615.08 L614.00,615.84 L615.00,616.97 L616.00,618.06 L617.00,618.28 L618.00,617.05 L619.00,617.41 L620.00,619.14 L621.00,618.55 L622.00,617.30 L623.00,618.31 L624.00,619.87 L625.00,620.07 L626.00,618.26 L627.00,617.74 L628.00,617.75 L629.00,617.23 L630.00,616.38 L631.00,616.61 L632.00,617.60 L633.00,619.88 L634.00,619.48 L635.00,618.65 L636.00,617.92 L637.00,617.25 L638.00,617.05 L639.00,617.30 L640.00,617.87 L641.00,618.12 L642.00,617.37 L643.00,616.92 L644.00,618.85 L645.00,620.25 L646.00,619.33 L647.00,618.17 L648.00,618.49 L649.00,618.94 L650.00,618.45 L651.00,618.33 L652.00,618.35 L653.00,618.39 L654.00,618.94 L655.00,619.21 L656.00,619.03 L657.00,619.03 L658.00,619.56 L659.00,619.72 L660.00,618.60 L661.00,617.55 L662.00,615.75 L663.00,613.94 L664.00,616.29 L665.00,617.87 L666.00,616.95 L667.00,616.73 L668.00,617.99 L669.00,619.37"/>
<path class="k" d="M669.50,614.30 L669.90,624.30"/>
<path class="z" d="M475.40,745.68 L667.90,744.40"/>
<path class="t" d="M475.40,745.68 L475.40,661.30"/>
<path class="f" d="M487.80,661.30 L488.30,664.13 L488.80,666.85 L489.30,669.46 L489.80,671.96 L490.30,674.35 L490.80,676.65 L491.30,678.86 L491.80,680.97 L492.30,683.00 L492.80,684.93 L493.30,686.77 L493.80,688.53 L494.30,690.23 L494.80,691.88 L495.30,693.48 L495.80,695.05 L496.30,696.59 L496.80,698.11 L497.30,699.59 L497.80,701.04 L498.30,702.45 L498.80,703.82 L499.30,705.16 L499.80,706.46 L500.30,707.71 L500.80,708.93 L501.30,710.11 L501.80,711.25 L502.30,712.35 L502.80,713.41 L503.30,714.44 L503.80,715.43 L504.30,716.39 L504.80,717.32 L505.30,718.22 L505.80,719.09 L506.30,719.94 L506.80,720.75 L507.30,721.55 L507.80,722.31 L508.30,723.05 L508.80,723.77 L509.30,724.47 L509.80,725.14 L510.30,725.80 L510.80,726.43 L511.30,727.04 L511.80,727.63 L512.30,728.21 L512.80,728.76 L513.30,729.29 L513.80,729.80 L514.30,730.30 L514.80,730.78 L515.30,731.25 L515.80,731.70 L516.30,732.14 L516.80,732.56 L517.30,732.98 L517.80,733.38 L518.30,733.78 L518.80,734.16 L519.30,734.54 L519.80,734.90 L520.30,735.26 L520.80,735.61 L521.30,735.96 L521.80,736.30 L522.30,736.63 L522.80,736.95 L523.30,737.27 L523.80,737.58 L524.30,737.87 L524.80,738.16 L525.30,738.43 L525.80,738.70 L526.30,738.95 L526.80,739.18 L527.30,739.41 L527.80,739.63 L528.30,739.83 L528.80,740.02 L529.30,740.20 L529.80,740.37 L530.30,740.53 L530.80,740.69 L531.30,740.84 L531.80,740.98 L532.30,741.12 L532.80,741.25 L533.30,741.37 L533.80,741.49 L534.30,741.61 L534.80,741.72 L535.30,741.83 L535.80,741.93 L536.30,742.03 L536.80,742.13 L537.30,742.22 L537.80,742.31 L538.30,742.39 L538.80,742.47 L539.30,742.55 L539.80,742.63 L540.30,742.71 L540.80,742.78 L541.30,742.85 L541.80,742.91 L542.30,742.98 L542.80,743.04 L543.30,743.10 L543.80,743.16 L544.30,743.22 L544.80,743.28 L545.30,743.33 L545.80,743.38 L546.30,743.43 L546.80,743.48 L547.30,743.53 L547.80,743.57 L548.30,743.62 L548.80,743.66 L549.30,743.70 L549.80,743.74 L550.30,743.77 L550.80,743.81 L551.30,743.84 L551.80,743.88 L552.30,743.91 L552.80,743.94 L553.30,743.97 L553.80,744.00 L554.30,744.03 L554.80,744.06 L555.30,744.08 L555.80,744.11 L556.30,744.13 L556.80,744.16 L557.30,744.18 L557.80,744.21 L558.30,744.23 L558.80,744.25 L559.30,744.27 L559.80,744.29 L560.30,744.31 L560.80,744.33 L561.30,744.35 L561.80,744.37 L562.30,744.38 L562.80,744.40 L563.30,744.42 L563.80,744.43 L564.30,744.45 L564.80,744.46 L565.30,744.48 L565.80,744.49 L566.30,744.51 L566.80,744.52 L567.30,744.53 L567.80,744.55 L568.30,744.56 L568.80,744.57 L569.30,744.58 L569.80,744.60 L570.30,744.61 L570.80,744.62 L571.30,744.63 L571.80,744.64 L572.30,744.65 L572.80,744.66 L573.30,744.67 L573.80,744.67 L574.30,744.68 L574.80,744.69 L575.30,744.70 L575.80,744.71 L576.30,744.71 L576.80,744.72 L577.30,744.73 L577.80,744.73 L578.30,744.74 L578.80,744.74 L579.30,744.75 L579.80,744.75 L580.30,744.76 L580.80,744.76 L581.30,744.77 L581.80,744.77 L582.30,744.77 L582.80,744.78 L583.30,744.78 L583.80,744.78 L584.30,744.79 L584.80,744.79 L585.30,744.79 L585.80,744.80 L586.30,744.80 L586.80,744.80 L587.30,744.80 L587.80,744.80 L588.30,744.80 L588.80,744.81 L589.30,744.81 L589.80,744.81 L590.30,744.81 L590.80,744.81 L591.30,744.81 L591.80,744.81 L592.30,744.81 L592.80,744.81 L593.30,744.81 L593.80,744.81 L594.30,744.81 L594.80,744.81 L595.30,744.81 L595.80,744.81 L596.30,744.81 L596.80,744.81 L597.30,744.81 L597.80,744.81 L598.30,744.81 L598.80,744.81 L599.30,744.80 L599.80,744.80 L600.30,744.80 L600.80,744.80 L601.30,744.80 L601.80,744.80 L602.30,744.79 L602.80,744.79 L603.30,744.79 L603.80,744.79 L604.30,744.79 L604.80,744.79 L605.30,744.78 L605.80,744.78 L606.30,744.78 L606.80,744.78 L607.30,744.77 L607.80,744.77 L608.30,744.77 L608.80,744.77 L609.30,744.77 L609.80,744.76 L610.30,744.76 L610.80,744.76 L611.30,744.76 L611.80,744.75 L612.30,744.75 L612.80,744.75 L613.30,744.74 L613.80,744.74 L614.30,744.74 L614.80,744.74 L615.30,744.73 L615.80,744.73 L616.30,744.73 L616.80,744.73 L617.30,744.72 L617.80,744.72 L618.30,744.72 L618.80,744.71 L619.30,744.71 L619.80,744.71 L620.30,744.71 L620.80,744.70 L621.30,744.70 L621.80,744.70 L622.30,744.69 L622.80,744.69 L623.30,744.69 L623.80,744.69 L624.30,744.68 L624.80,744.68 L625.30,744.68 L625.80,744.67 L626.30,744.67 L626.80,744.67 L627.30,744.66 L627.80,744.66 L628.30,744.66 L628.80,744.65 L629.30,744.65 L629.80,744.65 L630.30,744.65 L630.80,744.64 L631.30,744.64 L631.80,744.64 L632.30,744.63 L632.80,744.63 L633.30,744.63 L633.80,744.62 L634.30,744.62 L634.80,744.62 L635.30,744.61 L635.80,744.61 L636.30,744.61 L636.80,744.60 L637.30,744.60 L637.80,744.60 L638.30,744.59 L638.80,744.59 L639.30,744.59 L639.80,744.58 L640.30,744.58 L640.80,744.58 L641.30,744.57 L641.80,744.57 L642.30,744.57 L642.80,744.57 L643.30,744.56 L643.80,744.56 L644.30,744.56 L644.80,744.55 L645.30,744.55 L645.80,744.55 L646.30,744.54 L646.80,744.54 L647.30,744.54 L647.80,744.53 L648.30,744.53 L648.80,744.53 L649.30,744.52 L649.80,744.52 L650.30,744.52 L650.80,744.51 L651.30,744.51 L651.80,744.51 L652.30,744.50 L652.80,744.50 L653.30,744.50 L653.80,744.49 L654.30,744.49 L654.80,744.49 L655.30,744.48 L655.80,744.48 L656.30,744.48 L656.80,744.47 L657.30,744.47 L657.80,744.47 L658.30,744.46 L658.80,744.46 L659.30,744.46 L659.80,744.45 L660.30,744.45 L660.80,744.45 L661.30,744.44 L661.80,744.44 L662.30,744.44 L662.80,744.43 L663.30,744.43 L663.80,744.43 L664.30,744.42 L664.80,744.42 L665.30,744.42 L665.80,744.41 L666.30,744.41 L666.80,744.41 L667.30,744.40 L667.80,744.40"/>
<path class="n" d="M457.70,743.30 L458.70,744.67 L459.70,745.79 L460.70,745.82 L461.70,745.74 L462.70,745.49 L463.70,745.29 L464.70,745.37 L465.70,745.25 L466.70,744.28 L467.70,743.17 L468.70,744.10 L469.70,745.28 L470.70,745.58 L471.70,745.44 L472.70,744.32 L473.70,743.26 L474.70,744.46 L475.40,747.18 L475.40,661.30 M479.30,661.30 L480.10,690.20 L481.50,676.00 L484.30,665.40 L487.00,668.00 L490.00,676.00 L493.10,681.40 L495.00,682.00 L496.00,688.55 L497.00,686.27 L498.00,687.26 L499.00,689.30 L500.00,692.63 L501.00,693.84 L502.00,693.88 L503.00,696.22 L504.00,699.48 L505.00,701.19 L506.00,702.18 L507.00,702.85 L508.00,703.91 L509.00,704.90 L510.00,705.83 L511.00,706.99 L512.00,707.73 L513.00,710.03 L514.00,711.91 L515.00,713.55 L516.00,715.00 L517.00,714.37 L518.00,713.71 L519.00,716.25 L520.00,717.49 L521.00,717.35 L522.00,719.24 L523.00,721.05 L524.00,723.95 L525.00,723.40 L526.00,723.00 L527.00,723.50 L528.00,724.64 L529.00,726.92 L530.00,728.54 L531.00,728.24 L532.00,726.16 L533.00,722.84 L534.00,724.94 L535.00,728.08 L536.00,728.93 L537.00,729.74 L538.00,731.67 L539.00,732.06 L540.00,730.80 L541.00,729.90 L542.00,730.68 L543.00,732.22 L544.00,734.12 L545.00,735.40 L546.00,735.82 L547.00,735.07 L548.00,733.53 L549.00,733.10 L550.00,733.66 L551.00,735.42 L552.00,736.54 L553.00,736.49 L554.00,736.89 L555.00,737.37 L556.00,738.46 L557.00,738.88 L558.00,739.54 L559.00,739.31 L560.00,738.10 L561.00,737.35 L562.00,737.41 L563.00,738.16 L564.00,739.29 L565.00,740.65 L566.00,740.92 L567.00,738.97 L568.00,737.57 L569.00,737.44 L570.00,736.46 L571.00,736.55 L572.00,739.91 L573.00,741.23 L574.00,740.36 L575.00,738.90 L576.00,738.63 L577.00,739.56 L578.00,740.36 L579.00,740.46 L580.00,741.16 L581.00,740.96 L582.00,740.90 L583.00,741.97 L584.00,741.19 L585.00,739.66 L586.00,740.12 L587.00,741.28 L588.00,741.06 L589.00,741.58 L590.00,742.30 L591.00,742.26 L592.00,742.88 L593.00,743.37 L594.00,743.24 L595.00,743.66 L596.00,743.35 L597.00,742.50 L598.00,741.87 L599.00,740.50 L600.00,740.08 L601.00,739.38 L602.00,737.83 L603.00,740.73 L604.00,742.72 L605.00,743.47 L606.00,743.30 L607.00,741.52 L608.00,739.26 L609.00,737.35 L610.00,738.99 L611.00,741.93 L612.00,743.28 L613.00,742.90 L614.00,742.97 L615.00,743.49 L616.00,743.14 L617.00,743.61 L618.00,744.51 L619.00,744.54 L620.00,744.71 L621.00,745.11 L622.00,744.30 L623.00,743.55 L624.00,743.28 L625.00,742.61 L626.00,742.61 L627.00,744.11 L628.00,745.67 L629.00,745.46 L630.00,745.17 L631.00,744.87 L632.00,743.97 L633.00,743.99 L634.00,743.96 L635.00,743.12 L636.00,742.11 L637.00,742.65 L638.00,743.51 L639.00,743.04 L640.00,742.26 L641.00,743.56 L642.00,745.05 L643.00,746.09 L644.00,746.62 L645.00,746.43 L646.00,746.27 L647.00,745.35 L648.00,744.68 L649.00,743.55 L650.00,743.17 L651.00,744.42 L652.00,744.86 L653.00,744.44 L654.00,744.13 L655.00,743.22 L656.00,743.46 L657.00,745.40 L658.00,746.96 L659.00,746.46 L660.00,744.45 L661.00,742.38 L662.00,741.56 L663.00,742.56 L664.00,745.07 L665.00,746.92 L666.00,746.25 L667.00,744.45"/>
<path class="k" d="M667.90,742.80 L668.30,751.70"/>
<path class="cf" d="M223.00,927.70 L223.50,931.61 L224.00,935.44 L224.50,939.21 L225.00,942.92 L225.50,946.55 L226.00,950.13 L226.50,953.64 L227.00,957.08 L227.50,960.47 L228.00,963.80 L228.50,967.06 L229.00,970.27 L229.50,973.42 L230.00,976.52 L230.50,979.56 L231.00,982.55 L231.50,985.49 L232.00,988.37 L232.50,991.20 L233.00,993.99 L233.50,996.72 L234.00,999.40 L234.50,1002.04 L235.00,1004.63 L235.50,1007.17 L236.00,1009.67 L236.50,1012.13 L237.00,1014.54 L237.50,1016.91 L238.00,1019.24 L238.50,1021.52 L239.00,1023.77 L239.50,1025.97 L240.00,1028.14 L240.50,1030.27 L241.00,1032.36 L241.50,1034.41 L242.00,1036.43 L242.50,1038.41 L243.00,1040.36 L243.50,1042.27 L244.00,1044.14 L244.50,1045.99 L245.00,1047.80 L245.50,1049.58 L246.00,1051.33 L246.50,1053.05 L247.00,1054.73 L247.50,1056.39 L248.00,1058.02 L248.50,1059.62 L249.00,1061.19 L249.50,1062.73 L250.00,1064.25 L250.50,1065.73 L251.00,1067.20 L251.50,1068.63 L252.00,1070.04 L252.50,1071.43 L253.00,1072.79 L253.50,1074.13 L254.00,1075.44 L254.50,1076.73 L255.00,1078.00 L255.50,1079.24 L256.00,1080.47 L256.50,1081.67 L257.00,1082.85 L257.50,1084.01 L258.00,1085.15 L258.50,1086.26 L259.00,1087.36 L259.50,1088.44 L260.00,1089.50 L260.50,1090.54 L261.00,1091.56 L261.50,1092.57 L262.00,1093.56 L262.50,1094.53 L263.00,1095.48 L263.50,1096.41 L264.00,1097.33 L264.50,1098.23 L265.00,1099.12 L265.50,1099.99 L266.00,1100.85 L266.50,1101.69 L267.00,1102.51 L267.50,1103.32 L268.00,1104.12 L268.50,1104.90 L269.00,1105.67 L269.50,1106.42 L270.00,1107.16 L270.50,1107.89 L271.00,1108.61 L271.50,1109.31 L272.00,1110.00 L272.50,1110.68 L273.00,1111.34 L273.50,1112.00 L274.00,1112.64 L274.50,1113.27 L275.00,1113.89 L275.50,1114.50 L276.00,1115.10 L276.50,1115.68 L277.00,1116.26 L277.50,1116.83 L278.00,1117.38 L278.50,1117.93 L279.00,1118.47 L279.50,1118.99 L280.00,1119.51 L280.50,1120.02 L281.00,1120.52 L281.50,1121.01 L282.00,1121.49 L282.50,1121.97 L283.00,1122.43 L283.50,1122.89 L284.00,1123.34 L284.50,1123.78 L285.00,1124.21 L285.50,1124.64 L286.00,1125.06 L286.50,1125.47 L287.00,1125.87 L287.50,1126.27 L288.00,1126.66 L288.50,1127.04 L289.00,1127.41 L289.50,1127.78 L290.00,1128.15 L290.50,1128.50 L291.00,1128.85 L291.50,1129.19 L292.00,1129.53 L292.50,1129.86 L293.00,1130.19 L293.50,1130.51 L294.00,1130.82 L294.50,1131.13 L295.00,1131.43 L295.50,1131.73 L296.00,1132.02 L296.50,1132.31 L297.00,1132.59 L297.50,1132.87 L298.00,1133.14 L298.50,1133.40 L299.00,1133.67 L299.50,1133.92 L300.00,1134.18 L300.50,1134.43 L301.00,1134.67 L301.50,1134.91 L302.00,1135.14 L302.50,1135.38 L303.00,1135.60 L303.50,1135.83 L304.00,1136.05 L304.50,1136.26 L305.00,1136.47 L305.50,1136.68 L306.00,1136.88 L306.50,1137.08 L307.00,1137.28 L307.50,1137.47 L308.00,1137.66 L308.50,1137.85 L309.00,1138.03 L309.50,1138.21 L310.00,1138.39 L310.50,1138.56 L311.00,1138.73 L311.50,1138.90 L312.00,1139.06 L312.50,1139.23 L313.00,1139.38 L313.50,1139.54 L314.00,1139.69 L314.50,1139.84 L315.00,1139.99 L315.50,1140.14 L316.00,1140.28 L316.50,1140.42 L317.00,1140.55 L317.50,1140.69 L318.00,1140.82 L318.50,1140.95 L319.00,1141.08 L319.50,1141.21 L320.00,1141.33 L320.50,1141.45 L321.00,1141.57 L321.50,1141.68 L322.00,1141.80 L322.50,1141.91 L323.00,1142.02 L323.50,1142.13 L324.00,1142.24 L324.50,1142.34 L325.00,1142.44 L325.50,1142.55 L326.00,1142.64 L326.50,1142.74 L327.00,1142.84 L327.50,1142.93 L328.00,1143.02 L328.50,1143.11 L329.00,1143.20 L329.50,1143.29 L330.00,1143.38 L330.50,1143.46 L331.00,1143.54 L331.50,1143.62 L332.00,1143.70 L332.50,1143.78 L333.00,1143.86 L333.50,1143.94 L334.00,1144.01 L334.50,1144.08 L335.00,1144.15 L335.50,1144.22 L336.00,1144.29 L336.50,1144.36 L337.00,1144.43 L337.50,1144.49 L338.00,1144.56 L338.50,1144.62 L339.00,1144.68 L339.50,1144.74 L340.00,1144.80 L340.50,1144.86 L341.00,1144.92 L341.50,1144.97 L342.00,1145.03 L342.50,1145.08 L343.00,1145.14 L343.50,1145.19 L344.00,1145.24 L344.50,1145.29 L345.00,1145.34 L345.50,1145.39 L346.00,1145.44 L346.50,1145.48 L347.00,1145.53 L347.50,1145.58 L348.00,1145.62 L348.50,1145.66 L349.00,1145.71 L349.50,1145.75 L350.00,1145.79 L350.50,1145.83 L351.00,1145.87 L351.50,1145.91 L352.00,1145.95 L352.50,1145.99 L353.00,1146.02 L353.50,1146.06 L354.00,1146.09 L354.50,1146.13 L355.00,1146.16 L355.50,1146.20 L356.00,1146.23 L356.50,1146.26 L357.00,1146.30 L357.50,1146.33 L358.00,1146.36 L358.50,1146.39 L359.00,1146.42 L359.50,1146.45 L360.00,1146.47 L360.50,1146.50 L361.00,1146.53 L361.50,1146.56 L362.00,1146.58 L362.50,1146.61 L363.00,1146.63 L363.50,1146.66 L364.00,1146.68 L364.50,1146.71 L365.00,1146.73 L365.50,1146.75 L366.00,1146.78 L366.50,1146.80 L367.00,1146.82 L367.50,1146.84 L368.00,1146.86 L368.50,1146.88 L369.00,1146.91 L369.50,1146.93 L370.00,1146.94 L370.50,1146.96 L371.00,1146.98 L371.50,1147.00 L372.00,1147.02 L372.50,1147.04 L373.00,1147.05 L373.50,1147.07 L374.00,1147.09 L374.50,1147.10 L375.00,1147.12 L375.50,1147.14 L376.00,1147.15 L376.50,1147.17 L377.00,1147.18 L377.50,1147.20 L378.00,1147.21 L378.50,1147.23 L379.00,1147.24 L379.50,1147.25 L380.00,1147.27 L380.50,1147.28 L381.00,1147.29 L381.50,1147.30 L382.00,1147.32 L382.50,1147.33 L383.00,1147.34 L383.50,1147.35 L384.00,1147.36 L384.50,1147.37 L385.00,1147.38 L385.50,1147.40 L386.00,1147.41 L386.50,1147.42 L387.00,1147.43 L387.50,1147.44 L388.00,1147.45 L388.50,1147.45 L389.00,1147.46 L389.50,1147.47 L390.00,1147.48 L390.50,1147.49 L391.00,1147.50 L391.50,1147.51 L392.00,1147.52 L392.50,1147.52 L393.00,1147.53 L393.50,1147.54 L394.00,1147.55 L394.50,1147.55 L395.00,1147.56 L395.50,1147.57 L396.00,1147.58 L396.50,1147.58 L397.00,1147.59 L397.50,1147.60 L398.00,1147.60 L398.50,1147.61 L399.00,1147.61 L399.50,1147.62 L400.00,1147.63 L400.50,1147.63 L401.00,1147.64 L401.50,1147.64 L402.00,1147.65 L402.50,1147.65 L403.00,1147.66 L403.50,1147.66 L404.00,1147.67 L404.50,1147.67 L405.00,1147.68 L405.50,1147.68 L406.00,1147.69 L406.50,1147.69 L407.00,1147.69 L407.50,1147.70 L408.00,1147.70 L408.50,1147.71 L409.00,1147.71 L409.50,1147.71 L410.00,1147.72 L410.50,1147.72 L411.00,1147.72 L411.50,1147.73 L412.00,1147.73 L412.50,1147.73 L413.00,1147.74 L413.50,1147.74 L414.00,1147.74 L414.50,1147.75 L415.00,1147.75 L415.50,1147.75 L416.00,1147.75 L416.50,1147.76 L417.00,1147.76 L417.50,1147.76 L418.00,1147.77 L418.50,1147.77 L419.00,1147.77 L419.50,1147.77 L420.00,1147.77 L420.50,1147.78 L421.00,1147.78 L421.50,1147.78 L422.00,1147.78 L422.50,1147.78 L423.00,1147.79 L423.50,1147.79 L424.00,1147.79 L424.50,1147.79 L425.00,1147.79 L425.50,1147.79 L426.00,1147.80 L426.50,1147.80 L427.00,1147.80 L427.50,1147.80 L428.00,1147.80 L428.50,1147.80 L429.00,1147.80 L429.50,1147.80 L430.00,1147.81 L430.50,1147.81 L431.00,1147.81 L431.50,1147.81 L432.00,1147.81 L432.50,1147.81 L433.00,1147.81 L433.50,1147.81 L434.00,1147.81 L434.50,1147.81 L435.00,1147.81 L435.50,1147.81 L436.00,1147.82 L436.50,1147.82 L437.00,1147.82 L437.50,1147.82 L438.00,1147.82 L438.50,1147.82 L439.00,1147.82 L439.50,1147.82 L440.00,1147.82 L440.50,1147.82 L441.00,1147.82 L441.50,1147.82 L442.00,1147.82 L442.50,1147.82 L443.00,1147.82 L443.50,1147.82 L444.00,1147.82 L444.50,1147.82 L445.00,1147.82 L445.50,1147.82 L446.00,1147.82 L446.50,1147.82 L447.00,1147.82 L447.50,1147.82 L448.00,1147.82 L448.50,1147.82 L449.00,1147.82 L449.50,1147.82 L450.00,1147.82 L450.50,1147.82 L451.00,1147.82 L451.50,1147.82 L452.00,1147.82 L452.50,1147.82 L453.00,1147.82 L453.50,1147.82 L454.00,1147.82 L454.50,1147.82 L455.00,1147.82 L455.50,1147.82 L456.00,1147.82 L456.50,1147.82 L457.00,1147.82 L457.50,1147.82 L458.00,1147.82 L458.50,1147.82 L459.00,1147.81 L459.50,1147.81 L460.00,1147.81 L460.50,1147.81 L461.00,1147.81 L461.50,1147.81 L462.00,1147.81 L462.50,1147.81 L463.00,1147.81 L463.50,1147.81 L464.00,1147.81 L464.50,1147.81 L465.00,1147.81 L465.50,1147.81 L466.00,1147.81 L466.50,1147.81 L467.00,1147.81 L467.50,1147.80 L468.00,1147.80 L468.50,1147.80 L469.00,1147.80 L469.50,1147.80 L470.00,1147.80 L470.50,1147.80 L471.00,1147.80 L471.50,1147.80 L472.00,1147.80 L472.50,1147.80 L473.00,1147.80 L473.50,1147.80 L474.00,1147.79 L474.50,1147.79 L475.00,1147.79 L475.50,1147.79 L476.00,1147.79 L476.50,1147.79 L477.00,1147.79 L477.50,1147.79 L478.00,1147.79 L478.50,1147.79 L479.00,1147.79 L479.50,1147.78 L480.00,1147.78 L480.50,1147.78 L481.00,1147.78 L481.50,1147.78 L482.00,1147.78 L482.50,1147.78 L483.00,1147.78 L483.50,1147.78 L484.00,1147.78 L484.50,1147.77 L485.00,1147.77 L485.50,1147.77 L486.00,1147.77 L486.50,1147.77 L487.00,1147.77 L487.50,1147.77 L488.00,1147.77 L488.50,1147.77 L489.00,1147.77 L489.50,1147.76 L490.00,1147.76 L490.50,1147.76 L491.00,1147.76 L491.50,1147.76 L492.00,1147.76 L492.50,1147.76 L493.00,1147.76 L493.50,1147.76 L494.00,1147.75 L494.50,1147.75 L495.00,1147.75 L495.50,1147.75 L496.00,1147.75 L496.50,1147.75 L497.00,1147.75 L497.50,1147.75 L498.00,1147.75 L498.50,1147.74 L499.00,1147.74 L499.50,1147.74 L500.00,1147.74 L500.50,1147.74 L501.00,1147.74 L501.50,1147.74 L502.00,1147.74 L502.50,1147.74 L503.00,1147.73 L503.50,1147.73 L504.00,1147.73 L504.50,1147.73 L505.00,1147.73 L505.50,1147.73 L506.00,1147.73 L506.50,1147.73 L507.00,1147.72 L507.50,1147.72 L508.00,1147.72 L508.50,1147.72 L509.00,1147.72 L509.50,1147.72 L510.00,1147.72 L510.50,1147.72 L511.00,1147.72 L511.50,1147.71 L512.00,1147.71 L512.50,1147.71 L513.00,1147.71 L513.50,1147.71 L514.00,1147.71 L514.50,1147.71 L515.00,1147.71 L515.50,1147.70 L516.00,1147.70 L516.50,1147.70 L517.00,1147.70 L517.50,1147.70 L518.00,1147.70 L518.50,1147.70 L519.00,1147.70 L519.50,1147.69 L520.00,1147.69 L520.50,1147.69 L521.00,1147.69 L521.50,1147.69 L522.00,1147.69 L522.50,1147.69 L523.00,1147.69 L523.50,1147.68 L524.00,1147.68 L524.50,1147.68 L525.00,1147.68 L525.50,1147.68 L526.00,1147.68 L526.50,1147.68 L527.00,1147.68 L527.50,1147.67 L528.00,1147.67 L528.50,1147.67 L529.00,1147.67 L529.50,1147.67 L530.00,1147.67 L530.50,1147.67 L531.00,1147.67 L531.50,1147.66 L532.00,1147.66 L532.50,1147.66 L533.00,1147.66 L533.50,1147.66 L534.00,1147.66 L534.50,1147.66 L535.00,1147.65 L535.50,1147.65 L536.00,1147.65 L536.50,1147.65 L537.00,1147.65 L537.50,1147.65 L538.00,1147.65 L538.50,1147.65 L539.00,1147.64 L539.50,1147.64 L540.00,1147.64 L540.50,1147.64 L541.00,1147.64 L541.50,1147.64 L542.00,1147.64 L542.50,1147.64 L543.00,1147.63 L543.50,1147.63 L544.00,1147.63 L544.50,1147.63 L545.00,1147.63 L545.50,1147.63 L546.00,1147.63 L546.50,1147.62 L547.00,1147.62 L547.50,1147.62 L548.00,1147.62 L548.50,1147.62 L549.00,1147.62 L549.50,1147.62 L550.00,1147.62 L550.50,1147.61 L551.00,1147.61 L551.50,1147.61 L552.00,1147.61 L552.50,1147.61 L553.00,1147.61 L553.50,1147.61 L554.00,1147.60 L554.50,1147.60 L555.00,1147.60 L555.50,1147.60 L556.00,1147.60 L556.50,1147.60 L557.00,1147.60 L557.50,1147.60 L558.00,1147.59 L558.50,1147.59 L559.00,1147.59 L559.50,1147.59 L560.00,1147.59 L560.50,1147.59 L561.00,1147.59 L561.50,1147.59 L562.00,1147.58 L562.50,1147.58 L563.00,1147.58 L563.50,1147.58 L564.00,1147.58 L564.50,1147.58 L565.00,1147.58 L565.50,1147.57 L566.00,1147.57 L566.50,1147.57 L567.00,1147.57 L567.50,1147.57 L568.00,1147.57 L568.50,1147.57 L569.00,1147.57 L569.50,1147.56 L570.00,1147.56 L570.50,1147.56 L571.00,1147.56 L571.50,1147.56 L572.00,1147.56 L572.50,1147.56 L573.00,1147.55 L573.50,1147.55 L574.00,1147.55 L574.50,1147.55 L575.00,1147.55 L575.50,1147.55 L576.00,1147.55 L576.50,1147.55 L577.00,1147.54 L577.50,1147.54 L578.00,1147.54 L578.50,1147.54 L579.00,1147.54 L579.50,1147.54 L580.00,1147.54 L580.50,1147.53 L581.00,1147.53 L581.50,1147.53 L582.00,1147.53 L582.50,1147.53 L583.00,1147.53 L583.50,1147.53 L584.00,1147.53 L584.50,1147.52 L585.00,1147.52 L585.50,1147.52 L586.00,1147.52 L586.50,1147.52 L587.00,1147.52 L587.50,1147.52 L588.00,1147.51 L588.50,1147.51 L589.00,1147.51 L589.50,1147.51 L590.00,1147.51 L590.50,1147.51 L591.00,1147.51 L591.50,1147.50 L592.00,1147.50 L592.50,1147.50 L593.00,1147.50 L593.50,1147.50"/>
<path class="cf" d="M223.50,1051.70 L224.00,1052.54 L224.50,1053.37 L225.00,1054.20 L225.50,1055.03 L226.00,1055.85 L226.50,1056.66 L227.00,1057.47 L227.50,1058.27 L228.00,1059.06 L228.50,1059.85 L229.00,1060.63 L229.50,1061.40 L230.00,1062.17 L230.50,1062.92 L231.00,1063.67 L231.50,1064.40 L232.00,1065.13 L232.50,1065.85 L233.00,1066.55 L233.50,1067.25 L234.00,1067.93 L234.50,1068.60 L235.00,1069.26 L235.50,1069.90 L236.00,1070.54 L236.50,1071.16 L237.00,1071.76 L237.50,1072.36 L238.00,1072.96 L238.50,1073.55 L239.00,1074.13 L239.50,1074.71 L240.00,1075.28 L240.50,1075.84 L241.00,1076.40 L241.50,1076.96 L242.00,1077.51 L242.50,1078.05 L243.00,1078.59 L243.50,1079.12 L244.00,1079.65 L244.50,1080.17 L245.00,1080.69 L245.50,1081.21 L246.00,1081.72 L246.50,1082.22 L247.00,1082.72 L247.50,1083.21 L248.00,1083.70 L248.50,1084.19 L249.00,1084.67 L249.50,1085.15 L250.00,1085.62 L250.50,1086.09 L251.00,1086.55 L251.50,1087.01 L252.00,1087.47 L252.50,1087.92 L253.00,1088.37 L253.50,1088.82 L254.00,1089.26 L254.50,1089.70 L255.00,1090.13 L255.50,1090.56 L256.00,1090.99 L256.50,1091.42 L257.00,1091.84 L257.50,1092.26 L258.00,1092.67 L258.50,1093.08 L259.00,1093.49 L259.50,1093.90 L260.00,1094.30 L260.50,1094.70 L261.00,1095.10 L261.50,1095.49 L262.00,1095.88 L262.50,1096.27 L263.00,1096.66 L263.50,1097.04 L264.00,1097.42 L264.50,1097.80 L265.00,1098.17 L265.50,1098.55 L266.00,1098.91 L266.50,1099.28 L267.00,1099.64 L267.50,1100.00 L268.00,1100.36 L268.50,1100.72 L269.00,1101.07 L269.50,1101.42 L270.00,1101.76 L270.50,1102.11 L271.00,1102.45 L271.50,1102.79 L272.00,1103.12 L272.50,1103.46 L273.00,1103.79 L273.50,1104.12 L274.00,1104.44 L274.50,1104.76 L275.00,1105.08 L275.50,1105.40 L276.00,1105.72 L276.50,1106.03 L277.00,1106.34 L277.50,1106.64 L278.00,1106.95 L278.50,1107.25 L279.00,1107.55 L279.50,1107.85 L280.00,1108.14 L280.50,1108.43 L281.00,1108.73 L281.50,1109.02 L282.00,1109.31 L282.50,1109.60 L283.00,1109.89 L283.50,1110.18 L284.00,1110.46 L284.50,1110.75 L285.00,1111.03 L285.50,1111.32 L286.00,1111.60 L286.50,1111.88 L287.00,1112.16 L287.50,1112.43 L288.00,1112.71 L288.50,1112.98 L289.00,1113.25 L289.50,1113.52 L290.00,1113.78 L290.50,1114.05 L291.00,1114.31 L291.50,1114.57 L292.00,1114.82 L292.50,1115.07 L293.00,1115.32 L293.50,1115.57 L294.00,1115.81 L294.50,1116.05 L295.00,1116.29 L295.50,1116.52 L296.00,1116.75 L296.50,1116.97 L297.00,1117.19 L297.50,1117.41 L298.00,1117.62 L298.50,1117.83 L299.00,1118.04 L299.50,1118.24 L300.00,1118.43 L300.50,1118.63 L301.00,1118.81 L301.50,1118.99 L302.00,1119.17 L302.50,1119.35 L303.00,1119.52 L303.50,1119.69 L304.00,1119.86 L304.50,1120.03 L305.00,1120.20 L305.50,1120.37 L306.00,1120.54 L306.50,1120.70 L307.00,1120.87 L307.50,1121.03 L308.00,1121.19 L308.50,1121.35 L309.00,1121.51 L309.50,1121.67 L310.00,1121.83 L310.50,1121.98 L311.00,1122.14 L311.50,1122.29 L312.00,1122.44 L312.50,1122.59 L313.00,1122.74 L313.50,1122.89 L314.00,1123.04 L314.50,1123.18 L315.00,1123.32 L315.50,1123.47 L316.00,1123.61 L316.50,1123.75 L317.00,1123.88 L317.50,1124.02 L318.00,1124.15 L318.50,1124.29 L319.00,1124.42 L319.50,1124.55 L320.00,1124.68 L320.50,1124.81 L321.00,1124.93 L321.50,1125.06 L322.00,1125.18 L322.50,1125.30 L323.00,1125.42 L323.50,1125.54 L324.00,1125.65 L324.50,1125.77 L325.00,1125.88 L325.50,1125.99 L326.00,1126.11 L326.50,1126.21 L327.00,1126.32 L327.50,1126.43 L328.00,1126.53 L328.50,1126.63 L329.00,1126.73 L329.50,1126.83 L330.00,1126.93 L330.50,1127.02 L331.00,1127.12 L331.50,1127.21 L332.00,1127.30 L332.50,1127.39 L333.00,1127.47 L333.50,1127.56 L334.00,1127.64 L334.50,1127.72 L335.00,1127.80 L335.50,1127.88 L336.00,1127.96 L336.50,1128.03 L337.00,1128.11 L337.50,1128.19 L338.00,1128.26 L338.50,1128.34 L339.00,1128.41 L339.50,1128.48 L340.00,1128.56 L340.50,1128.63 L341.00,1128.70 L341.50,1128.77 L342.00,1128.84 L342.50,1128.92 L343.00,1128.99 L343.50,1129.06 L344.00,1129.12 L344.50,1129.19 L345.00,1129.26 L345.50,1129.33 L346.00,1129.40 L346.50,1129.46 L347.00,1129.53 L347.50,1129.59 L348.00,1129.66 L348.50,1129.73 L349.00,1129.79 L349.50,1129.85 L350.00,1129.92 L350.50,1129.98 L351.00,1130.04 L351.50,1130.10 L352.00,1130.17 L352.50,1130.23 L353.00,1130.29 L353.50,1130.35 L354.00,1130.41 L354.50,1130.47 L355.00,1130.53 L355.50,1130.59 L356.00,1130.64 L356.50,1130.70 L357.00,1130.76 L357.50,1130.82 L358.00,1130.87 L358.50,1130.93 L359.00,1130.99 L359.50,1131.04 L360.00,1131.10 L360.50,1131.15 L361.00,1131.21 L361.50,1131.26 L362.00,1131.31 L362.50,1131.37 L363.00,1131.42 L363.50,1131.47 L364.00,1131.53 L364.50,1131.58 L365.00,1131.63 L365.50,1131.68 L366.00,1131.73 L366.50,1131.78 L367.00,1131.83 L367.50,1131.88 L368.00,1131.93 L368.50,1131.98 L369.00,1132.03 L369.50,1132.08 L370.00,1132.13 L370.50,1132.17 L371.00,1132.22 L371.50,1132.27 L372.00,1132.32 L372.50,1132.36 L373.00,1132.41 L373.50,1132.46 L374.00,1132.50 L374.50,1132.55 L375.00,1132.59 L375.50,1132.64 L376.00,1132.68 L376.50,1132.73 L377.00,1132.77 L377.50,1132.82 L378.00,1132.86 L378.50,1132.90 L379.00,1132.95 L379.50,1132.99 L380.00,1133.03 L380.50,1133.08 L381.00,1133.12 L381.50,1133.16 L382.00,1133.20 L382.50,1133.25 L383.00,1133.29 L383.50,1133.33 L384.00,1133.37 L384.50,1133.41 L385.00,1133.45 L385.50,1133.49 L386.00,1133.53 L386.50,1133.57 L387.00,1133.61 L387.50,1133.65 L388.00,1133.69 L388.50,1133.73 L389.00,1133.77 L389.50,1133.81 L390.00,1133.85 L390.50,1133.89 L391.00,1133.93 L391.50,1133.97 L392.00,1134.00 L392.50,1134.04 L393.00,1134.08 L393.50,1134.12 L394.00,1134.16 L394.50,1134.19 L395.00,1134.23 L395.50,1134.27 L396.00,1134.31 L396.50,1134.34 L397.00,1134.38 L397.50,1134.42 L398.00,1134.45 L398.50,1134.49 L399.00,1134.53 L399.50,1134.56 L400.00,1134.60 L400.50,1134.64 L401.00,1134.67 L401.50,1134.71 L402.00,1134.75 L402.50,1134.78 L403.00,1134.82 L403.50,1134.85 L404.00,1134.89 L404.50,1134.93 L405.00,1134.96 L405.50,1135.00 L406.00,1135.03 L406.50,1135.07 L407.00,1135.10 L407.50,1135.14 L408.00,1135.18 L408.50,1135.21 L409.00,1135.25 L409.50,1135.28 L410.00,1135.32 L410.50,1135.35 L411.00,1135.39 L411.50,1135.42 L412.00,1135.46 L412.50,1135.49 L413.00,1135.53 L413.50,1135.56 L414.00,1135.60 L414.50,1135.63 L415.00,1135.66 L415.50,1135.70 L416.00,1135.73 L416.50,1135.77 L417.00,1135.80 L417.50,1135.84 L418.00,1135.87 L418.50,1135.90 L419.00,1135.94 L419.50,1135.97 L420.00,1136.00 L420.50,1136.04 L421.00,1136.07 L421.50,1136.10 L422.00,1136.14 L422.50,1136.17 L423.00,1136.20 L423.50,1136.24 L424.00,1136.27 L424.50,1136.30 L425.00,1136.33 L425.50,1136.37 L426.00,1136.40 L426.50,1136.43 L427.00,1136.46 L427.50,1136.49 L428.00,1136.53 L428.50,1136.56 L429.00,1136.59 L429.50,1136.62 L430.00,1136.65 L430.50,1136.68 L431.00,1136.72 L431.50,1136.75 L432.00,1136.78 L432.50,1136.81 L433.00,1136.84 L433.50,1136.87 L434.00,1136.90 L434.50,1136.93 L435.00,1136.96 L435.50,1136.99 L436.00,1137.02 L436.50,1137.05 L437.00,1137.08 L437.50,1137.11 L438.00,1137.14 L438.50,1137.17 L439.00,1137.20 L439.50,1137.22 L440.00,1137.25 L440.50,1137.28 L441.00,1137.31 L441.50,1137.34 L442.00,1137.37 L442.50,1137.40 L443.00,1137.42 L443.50,1137.45 L444.00,1137.48 L444.50,1137.51 L445.00,1137.53 L445.50,1137.56 L446.00,1137.59 L446.50,1137.61 L447.00,1137.64 L447.50,1137.67 L448.00,1137.69 L448.50,1137.72 L449.00,1137.75 L449.50,1137.77 L450.00,1137.80 L450.50,1137.82 L451.00,1137.85 L451.50,1137.87 L452.00,1137.90 L452.50,1137.92 L453.00,1137.95 L453.50,1137.97 L454.00,1138.00 L454.50,1138.02 L455.00,1138.05 L455.50,1138.07 L456.00,1138.09 L456.50,1138.12 L457.00,1138.14 L457.50,1138.16 L458.00,1138.19 L458.50,1138.21 L459.00,1138.23 L459.50,1138.25 L460.00,1138.28 L460.50,1138.30 L461.00,1138.32 L461.50,1138.34 L462.00,1138.36 L462.50,1138.38 L463.00,1138.41 L463.50,1138.43 L464.00,1138.45 L464.50,1138.47 L465.00,1138.49 L465.50,1138.51 L466.00,1138.53 L466.50,1138.55 L467.00,1138.57 L467.50,1138.59 L468.00,1138.61 L468.50,1138.62 L469.00,1138.64 L469.50,1138.66 L470.00,1138.68 L470.50,1138.70 L471.00,1138.72 L471.50,1138.73 L472.00,1138.75 L472.50,1138.77 L473.00,1138.79 L473.50,1138.80 L474.00,1138.82 L474.50,1138.83 L475.00,1138.85 L475.50,1138.87 L476.00,1138.88 L476.50,1138.90 L477.00,1138.91 L477.50,1138.93 L478.00,1138.94 L478.50,1138.96 L479.00,1138.97 L479.50,1138.99 L480.00,1139.00 L480.50,1139.01 L481.00,1139.03 L481.50,1139.04 L482.00,1139.05 L482.50,1139.07 L483.00,1139.08 L483.50,1139.10 L484.00,1139.11 L484.50,1139.12 L485.00,1139.14 L485.50,1139.15 L486.00,1139.16 L486.50,1139.18 L487.00,1139.19 L487.50,1139.20 L488.00,1139.22 L488.50,1139.23 L489.00,1139.25 L489.50,1139.26 L490.00,1139.27 L490.50,1139.29 L491.00,1139.30 L491.50,1139.31 L492.00,1139.33 L492.50,1139.34 L493.00,1139.35 L493.50,1139.37 L494.00,1139.38 L494.50,1139.39 L495.00,1139.41 L495.50,1139.42 L496.00,1139.43 L496.50,1139.45 L497.00,1139.46 L497.50,1139.47 L498.00,1139.49 L498.50,1139.50 L499.00,1139.51 L499.50,1139.52 L500.00,1139.54 L500.50,1139.55 L501.00,1139.56 L501.50,1139.58 L502.00,1139.59 L502.50,1139.60 L503.00,1139.62 L503.50,1139.63 L504.00,1139.64 L504.50,1139.65 L505.00,1139.67 L505.50,1139.68 L506.00,1139.69 L506.50,1139.70 L507.00,1139.72 L507.50,1139.73 L508.00,1139.74 L508.50,1139.75 L509.00,1139.77 L509.50,1139.78 L510.00,1139.79 L510.50,1139.80 L511.00,1139.82 L511.50,1139.83 L512.00,1139.84 L512.50,1139.85 L513.00,1139.87 L513.50,1139.88 L514.00,1139.89 L514.50,1139.90 L515.00,1139.91 L515.50,1139.93 L516.00,1139.94 L516.50,1139.95 L517.00,1139.96 L517.50,1139.97 L518.00,1139.98 L518.50,1140.00 L519.00,1140.01 L519.50,1140.02 L520.00,1140.03 L520.50,1140.04 L521.00,1140.05 L521.50,1140.07 L522.00,1140.08 L522.50,1140.09 L523.00,1140.10 L523.50,1140.11 L524.00,1140.12 L524.50,1140.13 L525.00,1140.14 L525.50,1140.16 L526.00,1140.17 L526.50,1140.18 L527.00,1140.19 L527.50,1140.20 L528.00,1140.21 L528.50,1140.22 L529.00,1140.23 L529.50,1140.24 L530.00,1140.25 L530.50,1140.26 L531.00,1140.27 L531.50,1140.28 L532.00,1140.29 L532.50,1140.31 L533.00,1140.32 L533.50,1140.33 L534.00,1140.34 L534.50,1140.35 L535.00,1140.36 L535.50,1140.37 L536.00,1140.38 L536.50,1140.39 L537.00,1140.40 L537.50,1140.40 L538.00,1140.41 L538.50,1140.42 L539.00,1140.43 L539.50,1140.44 L540.00,1140.45 L540.50,1140.46 L541.00,1140.47 L541.50,1140.48 L542.00,1140.49 L542.50,1140.50 L543.00,1140.51 L543.50,1140.52 L544.00,1140.53 L544.50,1140.53 L545.00,1140.54 L545.50,1140.55 L546.00,1140.56 L546.50,1140.57 L547.00,1140.58 L547.50,1140.59 L548.00,1140.59 L548.50,1140.60 L549.00,1140.61 L549.50,1140.62 L550.00,1140.63 L550.50,1140.63 L551.00,1140.64 L551.50,1140.65 L552.00,1140.66 L552.50,1140.67 L553.00,1140.67 L553.50,1140.68 L554.00,1140.69 L554.50,1140.70 L555.00,1140.70 L555.50,1140.71 L556.00,1140.72 L556.50,1140.72 L557.00,1140.73 L557.50,1140.74 L558.00,1140.75 L558.50,1140.75 L559.00,1140.76 L559.50,1140.77 L560.00,1140.77 L560.50,1140.78 L561.00,1140.78 L561.50,1140.79 L562.00,1140.80 L562.50,1140.80 L563.00,1140.81 L563.50,1140.82 L564.00,1140.82 L564.50,1140.83 L565.00,1140.83 L565.50,1140.84 L566.00,1140.84 L566.50,1140.85 L567.00,1140.85 L567.50,1140.86 L568.00,1140.86 L568.50,1140.87 L569.00,1140.87 L569.50,1140.88 L570.00,1140.88 L570.50,1140.89 L571.00,1140.89 L571.50,1140.90 L572.00,1140.90 L572.50,1140.91 L573.00,1140.91 L573.50,1140.92 L574.00,1140.92 L574.50,1140.92 L575.00,1140.93 L575.50,1140.93 L576.00,1140.93 L576.50,1140.94 L577.00,1140.94 L577.50,1140.95 L578.00,1140.95 L578.50,1140.95 L579.00,1140.95 L579.50,1140.96 L580.00,1140.96 L580.50,1140.96 L581.00,1140.97 L581.50,1140.97 L582.00,1140.97 L582.50,1140.97 L583.00,1140.98 L583.50,1140.98 L584.00,1140.98 L584.50,1140.98 L585.00,1140.98 L585.50,1140.99 L586.00,1140.99 L586.50,1140.99 L587.00,1140.99 L587.50,1140.99 L588.00,1140.99 L588.50,1140.99 L589.00,1141.00 L589.50,1141.00 L590.00,1141.00 L590.50,1141.00 L591.00,1141.00 L591.50,1141.00 L592.00,1141.00 L592.50,1141.00 L593.00,1141.00 L593.50,1141.00"/>
<path class="cf" d="M223.50,1105.00 L224.00,1105.17 L224.50,1105.34 L225.00,1105.50 L225.50,1105.67 L226.00,1105.83 L226.50,1106.00 L227.00,1106.16 L227.50,1106.32 L228.00,1106.48 L228.50,1106.65 L229.00,1106.81 L229.50,1106.97 L230.00,1107.12 L230.50,1107.28 L231.00,1107.44 L231.50,1107.60 L232.00,1107.75 L232.50,1107.91 L233.00,1108.06 L233.50,1108.21 L234.00,1108.37 L234.50,1108.52 L235.00,1108.67 L235.50,1108.82 L236.00,1108.97 L236.50,1109.12 L237.00,1109.27 L237.50,1109.42 L238.00,1109.56 L238.50,1109.71 L239.00,1109.86 L239.50,1110.00 L240.00,1110.14 L240.50,1110.29 L241.00,1110.43 L241.50,1110.57 L242.00,1110.71 L242.50,1110.85 L243.00,1111.00 L243.50,1111.13 L244.00,1111.27 L244.50,1111.41 L245.00,1111.55 L245.50,1111.69 L246.00,1111.82 L246.50,1111.96 L247.00,1112.09 L247.50,1112.23 L248.00,1112.36 L248.50,1112.49 L249.00,1112.63 L249.50,1112.76 L250.00,1112.89 L250.50,1113.02 L251.00,1113.15 L251.50,1113.28 L252.00,1113.41 L252.50,1113.53 L253.00,1113.66 L253.50,1113.79 L254.00,1113.91 L254.50,1114.04 L255.00,1114.16 L255.50,1114.29 L256.00,1114.41 L256.50,1114.54 L257.00,1114.66 L257.50,1114.78 L258.00,1114.90 L258.50,1115.02 L259.00,1115.14 L259.50,1115.26 L260.00,1115.38 L260.50,1115.50 L261.00,1115.62 L261.50,1115.74 L262.00,1115.85 L262.50,1115.97 L263.00,1116.09 L263.50,1116.20 L264.00,1116.32 L264.50,1116.43 L265.00,1116.54 L265.50,1116.66 L266.00,1116.77 L266.50,1116.88 L267.00,1116.99 L267.50,1117.10 L268.00,1117.21 L268.50,1117.32 L269.00,1117.43 L269.50,1117.54 L270.00,1117.65 L270.50,1117.76 L271.00,1117.87 L271.50,1117.97 L272.00,1118.08 L272.50,1118.19 L273.00,1118.29 L273.50,1118.40 L274.00,1118.50 L274.50,1118.60 L275.00,1118.71 L275.50,1118.81 L276.00,1118.91 L276.50,1119.01 L277.00,1119.12 L277.50,1119.22 L278.00,1119.32 L278.50,1119.42 L279.00,1119.52 L279.50,1119.62 L280.00,1119.72 L280.50,1119.81 L281.00,1119.91 L281.50,1120.01 L282.00,1120.11 L282.50,1120.20 L283.00,1120.30 L283.50,1120.39 L284.00,1120.49 L284.50,1120.58 L285.00,1120.68 L285.50,1120.77 L286.00,1120.86 L286.50,1120.96 L287.00,1121.05 L287.50,1121.14 L288.00,1121.23 L288.50,1121.32 L289.00,1121.41 L289.50,1121.51 L290.00,1121.59 L290.50,1121.68 L291.00,1121.77 L291.50,1121.86 L292.00,1121.95 L292.50,1122.04 L293.00,1122.13 L293.50,1122.21 L294.00,1122.30 L294.50,1122.39 L295.00,1122.47 L295.50,1122.56 L296.00,1122.64 L296.50,1122.73 L297.00,1122.81 L297.50,1122.89 L298.00,1122.98 L298.50,1123.06 L299.00,1123.14 L299.50,1123.23 L300.00,1123.31 L300.50,1123.39 L301.00,1123.47 L301.50,1123.55 L302.00,1123.63 L302.50,1123.71 L303.00,1123.79 L303.50,1123.87 L304.00,1123.95 L304.50,1124.03 L305.00,1124.11 L305.50,1124.18 L306.00,1124.26 L306.50,1124.34 L307.00,1124.41 L307.50,1124.49 L308.00,1124.57 L308.50,1124.64 L309.00,1124.72 L309.50,1124.79 L310.00,1124.87 L310.50,1124.94 L311.00,1125.02 L311.50,1125.09 L312.00,1125.16 L312.50,1125.24 L313.00,1125.31 L313.50,1125.38 L314.00,1125.45 L314.50,1125.52 L315.00,1125.60 L315.50,1125.67 L316.00,1125.74 L316.50,1125.81 L317.00,1125.88 L317.50,1125.95 L318.00,1126.02 L318.50,1126.09 L319.00,1126.16 L319.50,1126.22 L320.00,1126.29 L320.50,1126.36 L321.00,1126.43 L321.50,1126.49 L322.00,1126.56 L322.50,1126.63 L323.00,1126.69 L323.50,1126.76 L324.00,1126.83 L324.50,1126.89 L325.00,1126.96 L325.50,1127.02 L326.00,1127.09 L326.50,1127.15 L327.00,1127.21 L327.50,1127.28 L328.00,1127.34 L328.50,1127.40 L329.00,1127.47 L329.50,1127.53 L330.00,1127.59 L330.50,1127.65 L331.00,1127.72 L331.50,1127.78 L332.00,1127.84 L332.50,1127.90 L333.00,1127.96 L333.50,1128.02 L334.00,1128.08 L334.50,1128.14 L335.00,1128.20 L335.50,1128.26 L336.00,1128.32 L336.50,1128.38 L337.00,1128.43 L337.50,1128.49 L338.00,1128.55 L338.50,1128.61 L339.00,1128.67 L339.50,1128.72 L340.00,1128.78 L340.50,1128.84 L341.00,1128.89 L341.50,1128.95 L342.00,1129.00 L342.50,1129.06 L343.00,1129.12 L343.50,1129.17 L344.00,1129.23 L344.50,1129.28 L345.00,1129.33 L345.50,1129.39 L346.00,1129.44 L346.50,1129.50 L347.00,1129.55 L347.50,1129.60 L348.00,1129.66 L348.50,1129.71 L349.00,1129.76 L349.50,1129.81 L350.00,1129.87 L350.50,1129.92 L351.00,1129.97 L351.50,1130.02 L352.00,1130.07 L352.50,1130.12 L353.00,1130.17 L353.50,1130.22 L354.00,1130.27 L354.50,1130.32 L355.00,1130.37 L355.50,1130.42 L356.00,1130.47 L356.50,1130.52 L357.00,1130.57 L357.50,1130.62 L358.00,1130.67 L358.50,1130.72 L359.00,1130.76 L359.50,1130.81 L360.00,1130.86 L360.50,1130.91 L361.00,1130.96 L361.50,1131.00 L362.00,1131.05 L362.50,1131.10 L363.00,1131.14 L363.50,1131.19 L364.00,1131.23 L364.50,1131.28 L365.00,1131.33 L365.50,1131.37 L366.00,1131.42 L366.50,1131.46 L367.00,1131.51 L367.50,1131.55 L368.00,1131.60 L368.50,1131.64 L369.00,1131.68 L369.50,1131.73 L370.00,1131.77 L370.50,1131.82 L371.00,1131.86 L371.50,1131.90 L372.00,1131.94 L372.50,1131.99 L373.00,1132.03 L373.50,1132.07 L374.00,1132.11 L374.50,1132.16 L375.00,1132.20 L375.50,1132.24 L376.00,1132.28 L376.50,1132.32 L377.00,1132.36 L377.50,1132.41 L378.00,1132.45 L378.50,1132.49 L379.00,1132.53 L379.50,1132.57 L380.00,1132.61 L380.50,1132.65 L381.00,1132.69 L381.50,1132.73 L382.00,1132.77 L382.50,1132.81 L383.00,1132.85 L383.50,1132.88 L384.00,1132.92 L384.50,1132.96 L385.00,1133.00 L385.50,1133.04 L386.00,1133.08 L386.50,1133.11 L387.00,1133.15 L387.50,1133.19 L388.00,1133.23 L388.50,1133.27 L389.00,1133.30 L389.50,1133.34 L390.00,1133.38 L390.50,1133.41 L391.00,1133.45 L391.50,1133.49 L392.00,1133.52 L392.50,1133.56 L393.00,1133.59 L393.50,1133.63 L394.00,1133.67 L394.50,1133.70 L395.00,1133.74 L395.50,1133.77 L396.00,1133.81 L396.50,1133.84 L397.00,1133.88 L397.50,1133.91 L398.00,1133.95 L398.50,1133.98 L399.00,1134.01 L399.50,1134.05 L400.00,1134.08 L400.50,1134.12 L401.00,1134.15 L401.50,1134.18 L402.00,1134.22 L402.50,1134.25 L403.00,1134.28 L403.50,1134.32 L404.00,1134.35 L404.50,1134.38 L405.00,1134.42 L405.50,1134.45 L406.00,1134.48 L406.50,1134.51 L407.00,1134.54 L407.50,1134.58 L408.00,1134.61 L408.50,1134.64 L409.00,1134.67 L409.50,1134.70 L410.00,1134.73 L410.50,1134.77 L411.00,1134.80 L411.50,1134.83 L412.00,1134.86 L412.50,1134.89 L413.00,1134.92 L413.50,1134.95 L414.00,1134.98 L414.50,1135.01 L415.00,1135.04 L415.50,1135.07 L416.00,1135.10 L416.50,1135.13 L417.00,1135.16 L417.50,1135.19 L418.00,1135.22 L418.50,1135.25 L419.00,1135.28 L419.50,1135.31 L420.00,1135.33 L420.50,1135.36 L421.00,1135.39 L421.50,1135.42 L422.00,1135.45 L422.50,1135.48 L423.00,1135.51 L423.50,1135.53 L424.00,1135.56 L424.50,1135.59 L425.00,1135.62 L425.50,1135.65 L426.00,1135.67 L426.50,1135.70 L427.00,1135.73 L427.50,1135.76 L428.00,1135.78 L428.50,1135.81 L429.00,1135.84 L429.50,1135.86 L430.00,1135.89 L430.50,1135.92 L431.00,1135.94 L431.50,1135.97 L432.00,1136.00 L432.50,1136.02 L433.00,1136.05 L433.50,1136.07 L434.00,1136.10 L434.50,1136.13 L435.00,1136.15 L435.50,1136.18 L436.00,1136.20 L436.50,1136.23 L437.00,1136.25 L437.50,1136.28 L438.00,1136.30 L438.50,1136.33 L439.00,1136.35 L439.50,1136.38 L440.00,1136.40 L440.50,1136.43 L441.00,1136.45 L441.50,1136.48 L442.00,1136.50 L442.50,1136.53 L443.00,1136.55 L443.50,1136.57 L444.00,1136.60 L444.50,1136.62 L445.00,1136.65 L445.50,1136.67 L446.00,1136.69 L446.50,1136.72 L447.00,1136.74 L447.50,1136.76 L448.00,1136.79 L448.50,1136.81 L449.00,1136.83 L449.50,1136.86 L450.00,1136.88 L450.50,1136.90 L451.00,1136.93 L451.50,1136.95 L452.00,1136.97 L452.50,1136.99 L453.00,1137.02 L453.50,1137.04 L454.00,1137.06 L454.50,1137.08 L455.00,1137.11 L455.50,1137.13 L456.00,1137.15 L456.50,1137.17 L457.00,1137.19 L457.50,1137.22 L458.00,1137.24 L458.50,1137.26 L459.00,1137.28 L459.50,1137.30 L460.00,1137.32 L460.50,1137.34 L461.00,1137.37 L461.50,1137.39 L462.00,1137.41 L462.50,1137.43 L463.00,1137.45 L463.50,1137.47 L464.00,1137.49 L464.50,1137.51 L465.00,1137.53 L465.50,1137.55 L466.00,1137.57 L466.50,1137.59 L467.00,1137.61 L467.50,1137.63 L468.00,1137.66 L468.50,1137.68 L469.00,1137.70 L469.50,1137.72 L470.00,1137.74 L470.50,1137.76 L471.00,1137.77 L471.50,1137.79 L472.00,1137.81 L472.50,1137.83 L473.00,1137.85 L473.50,1137.87 L474.00,1137.89 L474.50,1137.91 L475.00,1137.93 L475.50,1137.95 L476.00,1137.97 L476.50,1137.99 L477.00,1138.01 L477.50,1138.03 L478.00,1138.04 L478.50,1138.06 L479.00,1138.08 L479.50,1138.10 L480.00,1138.12 L480.50,1138.14 L481.00,1138.16 L481.50,1138.18 L482.00,1138.19 L482.50,1138.21 L483.00,1138.23 L483.50,1138.25 L484.00,1138.27 L484.50,1138.28 L485.00,1138.30 L485.50,1138.32 L486.00,1138.34 L486.50,1138.36 L487.00,1138.37 L487.50,1138.39 L488.00,1138.41 L488.50,1138.43 L489.00,1138.44 L489.50,1138.46 L490.00,1138.48 L490.50,1138.50 L491.00,1138.51 L491.50,1138.53 L492.00,1138.55 L492.50,1138.57 L493.00,1138.58 L493.50,1138.60 L494.00,1138.62 L494.50,1138.63 L495.00,1138.65 L495.50,1138.67 L496.00,1138.68 L496.50,1138.70 L497.00,1138.72 L497.50,1138.73 L498.00,1138.75 L498.50,1138.77 L499.00,1138.78 L499.50,1138.80 L500.00,1138.82 L500.50,1138.83 L501.00,1138.85 L501.50,1138.86 L502.00,1138.88 L502.50,1138.90 L503.00,1138.91 L503.50,1138.93 L504.00,1138.95 L504.50,1138.96 L505.00,1138.98 L505.50,1138.99 L506.00,1139.01 L506.50,1139.02 L507.00,1139.04 L507.50,1139.06 L508.00,1139.07 L508.50,1139.09 L509.00,1139.10 L509.50,1139.12 L510.00,1139.13 L510.50,1139.15 L511.00,1139.16 L511.50,1139.18 L512.00,1139.19 L512.50,1139.21 L513.00,1139.22 L513.50,1139.24 L514.00,1139.25 L514.50,1139.27 L515.00,1139.28 L515.50,1139.30 L516.00,1139.31 L516.50,1139.33 L517.00,1139.34 L517.50,1139.36 L518.00,1139.37 L518.50,1139.39 L519.00,1139.40 L519.50,1139.42 L520.00,1139.43 L520.50,1139.44 L521.00,1139.46 L521.50,1139.47 L522.00,1139.49 L522.50,1139.50 L523.00,1139.52 L523.50,1139.53 L524.00,1139.54 L524.50,1139.56 L525.00,1139.57 L525.50,1139.59 L526.00,1139.60 L526.50,1139.61 L527.00,1139.63 L527.50,1139.64 L528.00,1139.66 L528.50,1139.67 L529.00,1139.68 L529.50,1139.70 L530.00,1139.71 L530.50,1139.73 L531.00,1139.74 L531.50,1139.75 L532.00,1139.77 L532.50,1139.78 L533.00,1139.79 L533.50,1139.81 L534.00,1139.82 L534.50,1139.83 L535.00,1139.85 L535.50,1139.86 L536.00,1139.87 L536.50,1139.89 L537.00,1139.90 L537.50,1139.91 L538.00,1139.93 L538.50,1139.94 L539.00,1139.95 L539.50,1139.96 L540.00,1139.98 L540.50,1139.99 L541.00,1140.00 L541.50,1140.02 L542.00,1140.03 L542.50,1140.04 L543.00,1140.05 L543.50,1140.07 L544.00,1140.08 L544.50,1140.09 L545.00,1140.11 L545.50,1140.12 L546.00,1140.13 L546.50,1140.14 L547.00,1140.16 L547.50,1140.17 L548.00,1140.18 L548.50,1140.19 L549.00,1140.20 L549.50,1140.22 L550.00,1140.23 L550.50,1140.24 L551.00,1140.25 L551.50,1140.27 L552.00,1140.28 L552.50,1140.29 L553.00,1140.30 L553.50,1140.31 L554.00,1140.33 L554.50,1140.34 L555.00,1140.35 L555.50,1140.36 L556.00,1140.37 L556.50,1140.39 L557.00,1140.40 L557.50,1140.41 L558.00,1140.42 L558.50,1140.43 L559.00,1140.45 L559.50,1140.46 L560.00,1140.47 L560.50,1140.48 L561.00,1140.49 L561.50,1140.50 L562.00,1140.52 L562.50,1140.53 L563.00,1140.54 L563.50,1140.55 L564.00,1140.56 L564.50,1140.57 L565.00,1140.58 L565.50,1140.60 L566.00,1140.61 L566.50,1140.62 L567.00,1140.63 L567.50,1140.64 L568.00,1140.65 L568.50,1140.66 L569.00,1140.68 L569.50,1140.69 L570.00,1140.70 L570.50,1140.71 L571.00,1140.72 L571.50,1140.73 L572.00,1140.74 L572.50,1140.75 L573.00,1140.76 L573.50,1140.78 L574.00,1140.79 L574.50,1140.80 L575.00,1140.81 L575.50,1140.82 L576.00,1140.83 L576.50,1140.84 L577.00,1140.85 L577.50,1140.86 L578.00,1140.87 L578.50,1140.88 L579.00,1140.89 L579.50,1140.91 L580.00,1140.92 L580.50,1140.93 L581.00,1140.94 L581.50,1140.95 L582.00,1140.96 L582.50,1140.97 L583.00,1140.98 L583.50,1140.99 L584.00,1141.00 L584.50,1141.01 L585.00,1141.02 L585.50,1141.03 L586.00,1141.04 L586.50,1141.05 L587.00,1141.06 L587.50,1141.07 L588.00,1141.08 L588.50,1141.09 L589.00,1141.10 L589.50,1141.12 L590.00,1141.13 L590.50,1141.14 L591.00,1141.15 L591.50,1141.16 L592.00,1141.17 L592.50,1141.18 L593.00,1141.19 L593.50,1141.20"/>
<path class="cf" d="M223.50,1129.70 L300.00,1133.30 L400.00,1135.00 L500.00,1138.50 L593.50,1141.00"/>
<path class="cf" d="M223.50,1140.00 L300.00,1140.20 L400.00,1141.60 L500.00,1144.00 L593.50,1145.50"/>
<path class="ct" d="M222.5,906.3 L223.3,928"/>
<path class="ct" d="M222.8,1030 Q223.5,1045 226.5,1052"/>
<path class="ct" d="M222.8,1085 Q223.5,1097 227,1104"/>
<path class="ct" d="M222.8,1112 Q223.5,1123 228,1129"/>
<path class="ct" d="M222.8,1130 Q223.5,1135 229,1139.5"/>
<path class="cf" d="M182,1149.3 L222,1149.3 L222.5,1100 L223,928"/>
<path class="cv" d="M222.2,1149 L222.6,1060 L223,928"/>
<path class="cf" d="M593.5,1140.8 L593.8,1154"/>
<path class="sb" d="M84.8,783 L84.8,806.4 L125,806.4"/>
<path class="sb" d="M477.4,776.2 L477.4,804.9 L517.6,804.9"/>
<path class="sb" d="M496.2,1170.2 L572.9,1170.2"/>
<text class="tx" transform="matrix(0.33781,0,0,0.37064,12.33,31.50)">A</text>
<text class="tx" transform="matrix(0.35575,0,0,0.37500,148.92,53.90)">ILT</text>
<text class="tx" transform="matrix(0.37766,0,0,0.36483,409.80,28.80)">B</text>
<text class="tx" transform="matrix(0.35415,0,0,0.35882,509.69,51.20)">Shaw S4</text>
<text class="tx" transform="matrix(0.36476,0,0,0.37249,3.25,909.40)">C</text>
<text class="tx" transform="matrix(0.27581,0,0,0.27507,207.95,134.20)">+130</text>
<text class="tx" transform="matrix(0.27442,0,0,0.27077,208.56,228.20)">+140</text>
<text class="tx" transform="matrix(0.27211,0,0,0.27507,209.07,333.00)">+150</text>
<text class="tx" transform="matrix(0.27211,0,0,0.27507,207.67,463.80)">+160</text>
<text class="tx" transform="matrix(0.27257,0,0,0.27507,208.07,603.20)">+170</text>
<text class="tx" transform="matrix(0.27257,0,0,0.27507,208.57,730.10)">+180</text>
<text class="tx" transform="matrix(0.27304,0,0,0.27937,606.87,131.50)">+130</text>
<text class="tx" transform="matrix(0.27719,0,0,0.27937,607.55,225.50)">+140</text>
<text class="tx" transform="matrix(0.27442,0,0,0.27507,607.86,331.00)">+150</text>
<text class="tx" transform="matrix(0.27119,0,0,0.27507,606.78,461.70)">+160</text>
<text class="tx" transform="matrix(0.27304,0,0,0.27507,607.47,601.00)">+170</text>
<text class="tx" transform="matrix(0.27304,0,0,0.27507,607.47,728.40)">+180</text>
<text class="tx" transform="matrix(0.23350,0,0,0.23496,91.03,797.00)">20 pA</text>
<text class="tx" transform="matrix(0.23407,0,0,0.21347,89.52,831.00)">2 ms</text>
<text class="tx" transform="matrix(0.23350,0,0,0.21777,483.23,794.40)">20 pA</text>
<text class="tx" transform="matrix(0.23599,0,0,0.21777,482.11,828.80)">2 ms</text>
<text class="tx" transform="matrix(0.23984,0,0,0.21490,509.09,1194.20)">2 ms</text>
</svg></body></html>
